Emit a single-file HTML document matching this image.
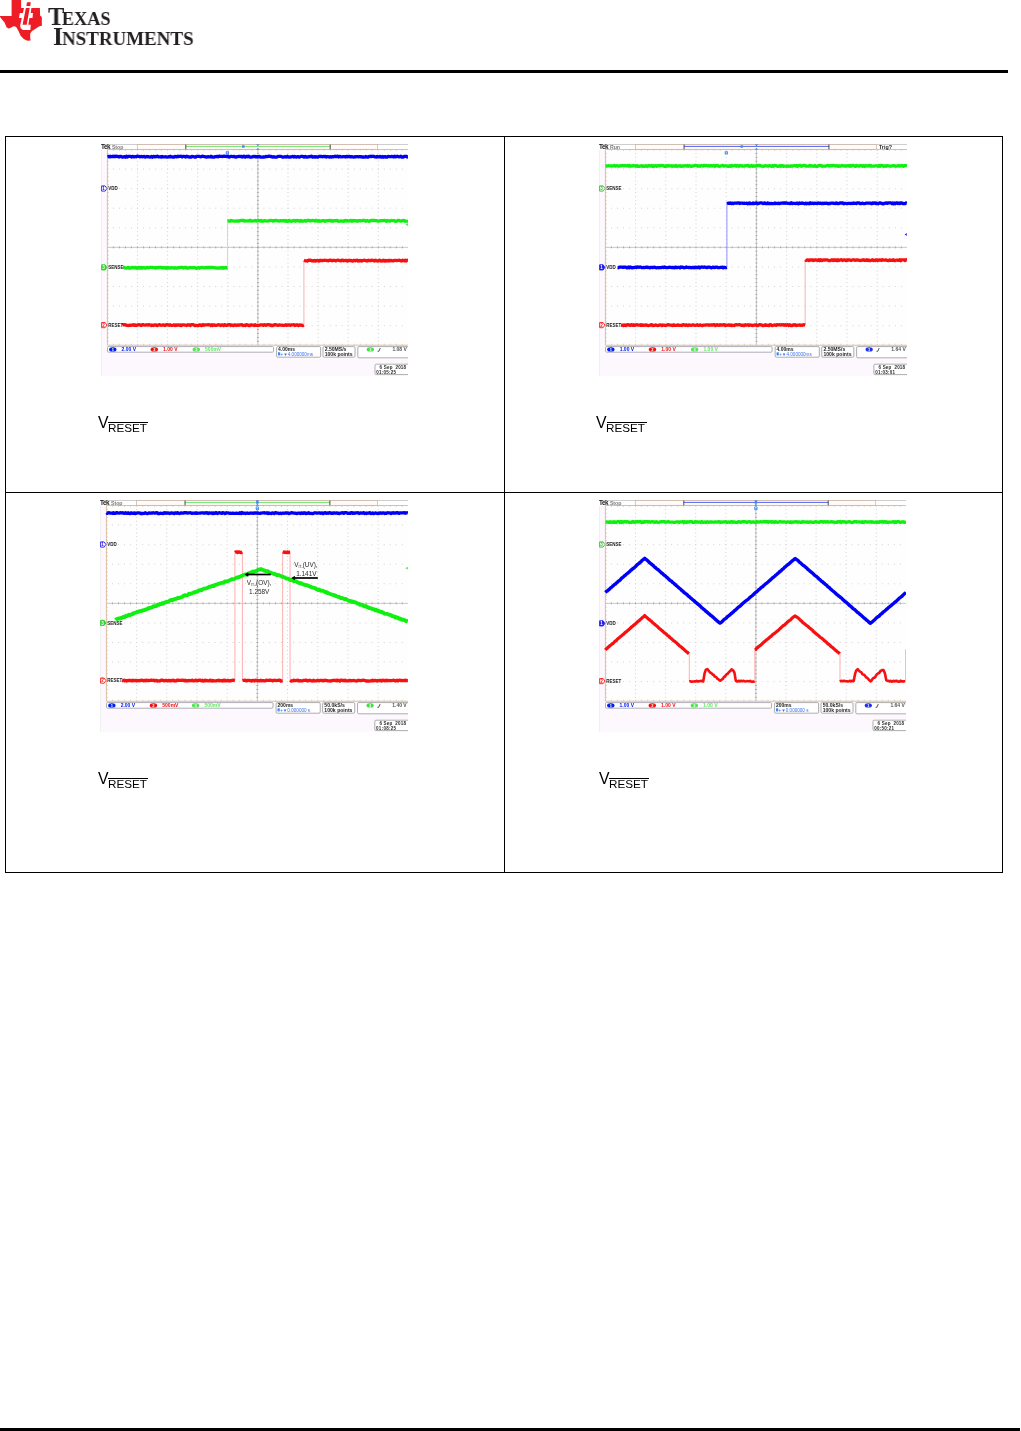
<!DOCTYPE html>
<html><head><meta charset="utf-8"><title>TI</title>
<style>
html,body{margin:0;padding:0;background:#fff;}
body{width:1021px;height:1431px;position:relative;overflow:hidden;font-family:"Liberation Sans",sans-serif;}
.abs{position:absolute;}
.scope{position:absolute;display:block;will-change:transform;}
.hl{position:absolute;background:#000;}
.ti{position:absolute;font-family:"Liberation Serif",serif;font-weight:bold;color:#231f20;white-space:nowrap;line-height:1;transform-origin:0 0;will-change:transform;}
.cap{position:absolute;line-height:1;color:#000;white-space:nowrap;will-change:transform;}
</style></head><body>
<svg class="abs" style="left:0;top:0" width="44" height="44" viewBox="0 0 44 44"><polygon points="11.6,0 21.1,0 21.1,8 39.9,8 40.1,15.4 41.8,17 41.9,25.8 39.3,26.3 35.2,29.1 32,31 30.2,33.6 30.2,37.5 30.6,40.5 27.5,40.7 23.7,39 20.7,35.8 18.5,31 16,26.7 13.4,26.3 10.8,27.8 8.6,28.5 6.5,27.2 4.7,22.8 2.2,19.8 0,16.8 0,15.9 11.6,15.9" fill="#ee1c25"/><polygon points="24,8 31.4,8 30.8,12.9 33,12.9 32.5,18.1 29.4,18.1 28.3,24.7 30.8,24.7 30.3,29.9 22.9,29.9 20.7,28.2 20.1,25.8 21.8,18.1 19,18.1 19.8,12.9 22.9,12.9" fill="#ffffff"/><polygon points="25.9,8 29.7,8 26.7,24.7 22.6,24.7" fill="#ee1c25"/><polygon points="27,2.2 30.8,2.2 30.3,6 26.4,6" fill="#ee1c25"/></svg>
<div class="ti" id="t1" style="left:47.9px;top:3.9px;transform:scaleX(0.94);"><span style="font-size:26px;margin-right:-2.6px">T</span><span style="font-size:19.4px">EXAS</span></div>
<div class="ti" id="t2" style="left:52.6px;top:24.2px;transform:scaleX(0.976);"><span style="font-size:26px;margin-right:-0.8px">I</span><span style="font-size:19.4px">NSTRUMENTS</span></div>
<div class="hl" style="left:0;top:70px;width:1008px;height:3px;"></div>
<div class="hl" style="left:5px;top:136px;width:998px;height:1px;"></div>
<div class="hl" style="left:5px;top:492px;width:998px;height:1px;"></div>
<div class="hl" style="left:5px;top:872px;width:998px;height:1px;"></div>
<div class="hl" style="left:5px;top:136px;width:1px;height:737px;"></div>
<div class="hl" style="left:504px;top:136px;width:1px;height:737px;"></div>
<div class="hl" style="left:1002px;top:136px;width:1px;height:737px;"></div>
<div class="hl" style="left:0;top:1428px;width:1020px;height:3px;"></div>
<svg class="scope" style="left:101px;top:144px" width="307" height="231.8" viewBox="0 0 307 231.8" preserveAspectRatio="none" font-family="Liberation Sans">
<rect x="0" y="6" width="307" height="225.8" fill="#fdf8fd"/><rect x="0" y="6" width="0.9" height="225.8" fill="#efeff1"/>
<rect x="6.4" y="5.5" width="300.6" height="195.7" fill="#fefefe"/>
<path d="M11.92 25.07h1 M17.94 25.07h1 M23.96 25.07h1 M29.98 25.07h1 M36 25.07h1 M42.02 25.07h1 M48.04 25.07h1 M54.06 25.07h1 M60.08 25.07h1 M66.1 25.07h1 M72.12 25.07h1 M78.14 25.07h1 M84.16 25.07h1 M90.18 25.07h1 M96.2 25.07h1 M102.22 25.07h1 M108.24 25.07h1 M114.26 25.07h1 M120.28 25.07h1 M126.3 25.07h1 M132.32 25.07h1 M138.34 25.07h1 M144.36 25.07h1 M150.38 25.07h1 M156.4 25.07h1 M162.42 25.07h1 M168.44 25.07h1 M174.46 25.07h1 M180.48 25.07h1 M186.5 25.07h1 M192.52 25.07h1 M198.54 25.07h1 M204.56 25.07h1 M210.58 25.07h1 M216.6 25.07h1 M222.62 25.07h1 M228.64 25.07h1 M234.66 25.07h1 M240.68 25.07h1 M246.7 25.07h1 M252.72 25.07h1 M258.74 25.07h1 M264.76 25.07h1 M270.78 25.07h1 M276.8 25.07h1 M282.82 25.07h1 M288.84 25.07h1 M294.86 25.07h1 M300.88 25.07h1 M11.92 44.64h1 M17.94 44.64h1 M23.96 44.64h1 M29.98 44.64h1 M36 44.64h1 M42.02 44.64h1 M48.04 44.64h1 M54.06 44.64h1 M60.08 44.64h1 M66.1 44.64h1 M72.12 44.64h1 M78.14 44.64h1 M84.16 44.64h1 M90.18 44.64h1 M96.2 44.64h1 M102.22 44.64h1 M108.24 44.64h1 M114.26 44.64h1 M120.28 44.64h1 M126.3 44.64h1 M132.32 44.64h1 M138.34 44.64h1 M144.36 44.64h1 M150.38 44.64h1 M156.4 44.64h1 M162.42 44.64h1 M168.44 44.64h1 M174.46 44.64h1 M180.48 44.64h1 M186.5 44.64h1 M192.52 44.64h1 M198.54 44.64h1 M204.56 44.64h1 M210.58 44.64h1 M216.6 44.64h1 M222.62 44.64h1 M228.64 44.64h1 M234.66 44.64h1 M240.68 44.64h1 M246.7 44.64h1 M252.72 44.64h1 M258.74 44.64h1 M264.76 44.64h1 M270.78 44.64h1 M276.8 44.64h1 M282.82 44.64h1 M288.84 44.64h1 M294.86 44.64h1 M300.88 44.64h1 M11.92 64.21h1 M17.94 64.21h1 M23.96 64.21h1 M29.98 64.21h1 M36 64.21h1 M42.02 64.21h1 M48.04 64.21h1 M54.06 64.21h1 M60.08 64.21h1 M66.1 64.21h1 M72.12 64.21h1 M78.14 64.21h1 M84.16 64.21h1 M90.18 64.21h1 M96.2 64.21h1 M102.22 64.21h1 M108.24 64.21h1 M114.26 64.21h1 M120.28 64.21h1 M126.3 64.21h1 M132.32 64.21h1 M138.34 64.21h1 M144.36 64.21h1 M150.38 64.21h1 M156.4 64.21h1 M162.42 64.21h1 M168.44 64.21h1 M174.46 64.21h1 M180.48 64.21h1 M186.5 64.21h1 M192.52 64.21h1 M198.54 64.21h1 M204.56 64.21h1 M210.58 64.21h1 M216.6 64.21h1 M222.62 64.21h1 M228.64 64.21h1 M234.66 64.21h1 M240.68 64.21h1 M246.7 64.21h1 M252.72 64.21h1 M258.74 64.21h1 M264.76 64.21h1 M270.78 64.21h1 M276.8 64.21h1 M282.82 64.21h1 M288.84 64.21h1 M294.86 64.21h1 M300.88 64.21h1 M11.92 83.78h1 M17.94 83.78h1 M23.96 83.78h1 M29.98 83.78h1 M36 83.78h1 M42.02 83.78h1 M48.04 83.78h1 M54.06 83.78h1 M60.08 83.78h1 M66.1 83.78h1 M72.12 83.78h1 M78.14 83.78h1 M84.16 83.78h1 M90.18 83.78h1 M96.2 83.78h1 M102.22 83.78h1 M108.24 83.78h1 M114.26 83.78h1 M120.28 83.78h1 M126.3 83.78h1 M132.32 83.78h1 M138.34 83.78h1 M144.36 83.78h1 M150.38 83.78h1 M156.4 83.78h1 M162.42 83.78h1 M168.44 83.78h1 M174.46 83.78h1 M180.48 83.78h1 M186.5 83.78h1 M192.52 83.78h1 M198.54 83.78h1 M204.56 83.78h1 M210.58 83.78h1 M216.6 83.78h1 M222.62 83.78h1 M228.64 83.78h1 M234.66 83.78h1 M240.68 83.78h1 M246.7 83.78h1 M252.72 83.78h1 M258.74 83.78h1 M264.76 83.78h1 M270.78 83.78h1 M276.8 83.78h1 M282.82 83.78h1 M288.84 83.78h1 M294.86 83.78h1 M300.88 83.78h1 M11.92 122.92h1 M17.94 122.92h1 M23.96 122.92h1 M29.98 122.92h1 M36 122.92h1 M42.02 122.92h1 M48.04 122.92h1 M54.06 122.92h1 M60.08 122.92h1 M66.1 122.92h1 M72.12 122.92h1 M78.14 122.92h1 M84.16 122.92h1 M90.18 122.92h1 M96.2 122.92h1 M102.22 122.92h1 M108.24 122.92h1 M114.26 122.92h1 M120.28 122.92h1 M126.3 122.92h1 M132.32 122.92h1 M138.34 122.92h1 M144.36 122.92h1 M150.38 122.92h1 M156.4 122.92h1 M162.42 122.92h1 M168.44 122.92h1 M174.46 122.92h1 M180.48 122.92h1 M186.5 122.92h1 M192.52 122.92h1 M198.54 122.92h1 M204.56 122.92h1 M210.58 122.92h1 M216.6 122.92h1 M222.62 122.92h1 M228.64 122.92h1 M234.66 122.92h1 M240.68 122.92h1 M246.7 122.92h1 M252.72 122.92h1 M258.74 122.92h1 M264.76 122.92h1 M270.78 122.92h1 M276.8 122.92h1 M282.82 122.92h1 M288.84 122.92h1 M294.86 122.92h1 M300.88 122.92h1 M11.92 142.49h1 M17.94 142.49h1 M23.96 142.49h1 M29.98 142.49h1 M36 142.49h1 M42.02 142.49h1 M48.04 142.49h1 M54.06 142.49h1 M60.08 142.49h1 M66.1 142.49h1 M72.12 142.49h1 M78.14 142.49h1 M84.16 142.49h1 M90.18 142.49h1 M96.2 142.49h1 M102.22 142.49h1 M108.24 142.49h1 M114.26 142.49h1 M120.28 142.49h1 M126.3 142.49h1 M132.32 142.49h1 M138.34 142.49h1 M144.36 142.49h1 M150.38 142.49h1 M156.4 142.49h1 M162.42 142.49h1 M168.44 142.49h1 M174.46 142.49h1 M180.48 142.49h1 M186.5 142.49h1 M192.52 142.49h1 M198.54 142.49h1 M204.56 142.49h1 M210.58 142.49h1 M216.6 142.49h1 M222.62 142.49h1 M228.64 142.49h1 M234.66 142.49h1 M240.68 142.49h1 M246.7 142.49h1 M252.72 142.49h1 M258.74 142.49h1 M264.76 142.49h1 M270.78 142.49h1 M276.8 142.49h1 M282.82 142.49h1 M288.84 142.49h1 M294.86 142.49h1 M300.88 142.49h1 M11.92 162.06h1 M17.94 162.06h1 M23.96 162.06h1 M29.98 162.06h1 M36 162.06h1 M42.02 162.06h1 M48.04 162.06h1 M54.06 162.06h1 M60.08 162.06h1 M66.1 162.06h1 M72.12 162.06h1 M78.14 162.06h1 M84.16 162.06h1 M90.18 162.06h1 M96.2 162.06h1 M102.22 162.06h1 M108.24 162.06h1 M114.26 162.06h1 M120.28 162.06h1 M126.3 162.06h1 M132.32 162.06h1 M138.34 162.06h1 M144.36 162.06h1 M150.38 162.06h1 M156.4 162.06h1 M162.42 162.06h1 M168.44 162.06h1 M174.46 162.06h1 M180.48 162.06h1 M186.5 162.06h1 M192.52 162.06h1 M198.54 162.06h1 M204.56 162.06h1 M210.58 162.06h1 M216.6 162.06h1 M222.62 162.06h1 M228.64 162.06h1 M234.66 162.06h1 M240.68 162.06h1 M246.7 162.06h1 M252.72 162.06h1 M258.74 162.06h1 M264.76 162.06h1 M270.78 162.06h1 M276.8 162.06h1 M282.82 162.06h1 M288.84 162.06h1 M294.86 162.06h1 M300.88 162.06h1 M11.92 181.63h1 M17.94 181.63h1 M23.96 181.63h1 M29.98 181.63h1 M36 181.63h1 M42.02 181.63h1 M48.04 181.63h1 M54.06 181.63h1 M60.08 181.63h1 M66.1 181.63h1 M72.12 181.63h1 M78.14 181.63h1 M84.16 181.63h1 M90.18 181.63h1 M96.2 181.63h1 M102.22 181.63h1 M108.24 181.63h1 M114.26 181.63h1 M120.28 181.63h1 M126.3 181.63h1 M132.32 181.63h1 M138.34 181.63h1 M144.36 181.63h1 M150.38 181.63h1 M156.4 181.63h1 M162.42 181.63h1 M168.44 181.63h1 M174.46 181.63h1 M180.48 181.63h1 M186.5 181.63h1 M192.52 181.63h1 M198.54 181.63h1 M204.56 181.63h1 M210.58 181.63h1 M216.6 181.63h1 M222.62 181.63h1 M228.64 181.63h1 M234.66 181.63h1 M240.68 181.63h1 M246.7 181.63h1 M252.72 181.63h1 M258.74 181.63h1 M264.76 181.63h1 M270.78 181.63h1 M276.8 181.63h1 M282.82 181.63h1 M288.84 181.63h1 M294.86 181.63h1 M300.88 181.63h1 M36.5 8.91v1 M36.5 12.83v1 M36.5 16.74v1 M36.5 20.66v1 M36.5 24.57v1 M36.5 28.48v1 M36.5 32.4v1 M36.5 36.31v1 M36.5 40.23v1 M36.5 44.14v1 M36.5 48.05v1 M36.5 51.97v1 M36.5 55.88v1 M36.5 59.8v1 M36.5 63.71v1 M36.5 67.62v1 M36.5 71.54v1 M36.5 75.45v1 M36.5 79.37v1 M36.5 83.28v1 M36.5 87.19v1 M36.5 91.11v1 M36.5 95.02v1 M36.5 98.94v1 M36.5 102.85v1 M36.5 106.76v1 M36.5 110.68v1 M36.5 114.59v1 M36.5 118.51v1 M36.5 122.42v1 M36.5 126.33v1 M36.5 130.25v1 M36.5 134.16v1 M36.5 138.08v1 M36.5 141.99v1 M36.5 145.9v1 M36.5 149.82v1 M36.5 153.73v1 M36.5 157.65v1 M36.5 161.56v1 M36.5 165.47v1 M36.5 169.39v1 M36.5 173.3v1 M36.5 177.22v1 M36.5 181.13v1 M36.5 185.04v1 M36.5 188.96v1 M36.5 192.87v1 M36.5 196.79v1 M66.6 8.91v1 M66.6 12.83v1 M66.6 16.74v1 M66.6 20.66v1 M66.6 24.57v1 M66.6 28.48v1 M66.6 32.4v1 M66.6 36.31v1 M66.6 40.23v1 M66.6 44.14v1 M66.6 48.05v1 M66.6 51.97v1 M66.6 55.88v1 M66.6 59.8v1 M66.6 63.71v1 M66.6 67.62v1 M66.6 71.54v1 M66.6 75.45v1 M66.6 79.37v1 M66.6 83.28v1 M66.6 87.19v1 M66.6 91.11v1 M66.6 95.02v1 M66.6 98.94v1 M66.6 102.85v1 M66.6 106.76v1 M66.6 110.68v1 M66.6 114.59v1 M66.6 118.51v1 M66.6 122.42v1 M66.6 126.33v1 M66.6 130.25v1 M66.6 134.16v1 M66.6 138.08v1 M66.6 141.99v1 M66.6 145.9v1 M66.6 149.82v1 M66.6 153.73v1 M66.6 157.65v1 M66.6 161.56v1 M66.6 165.47v1 M66.6 169.39v1 M66.6 173.3v1 M66.6 177.22v1 M66.6 181.13v1 M66.6 185.04v1 M66.6 188.96v1 M66.6 192.87v1 M66.6 196.79v1 M96.7 8.91v1 M96.7 12.83v1 M96.7 16.74v1 M96.7 20.66v1 M96.7 24.57v1 M96.7 28.48v1 M96.7 32.4v1 M96.7 36.31v1 M96.7 40.23v1 M96.7 44.14v1 M96.7 48.05v1 M96.7 51.97v1 M96.7 55.88v1 M96.7 59.8v1 M96.7 63.71v1 M96.7 67.62v1 M96.7 71.54v1 M96.7 75.45v1 M96.7 79.37v1 M96.7 83.28v1 M96.7 87.19v1 M96.7 91.11v1 M96.7 95.02v1 M96.7 98.94v1 M96.7 102.85v1 M96.7 106.76v1 M96.7 110.68v1 M96.7 114.59v1 M96.7 118.51v1 M96.7 122.42v1 M96.7 126.33v1 M96.7 130.25v1 M96.7 134.16v1 M96.7 138.08v1 M96.7 141.99v1 M96.7 145.9v1 M96.7 149.82v1 M96.7 153.73v1 M96.7 157.65v1 M96.7 161.56v1 M96.7 165.47v1 M96.7 169.39v1 M96.7 173.3v1 M96.7 177.22v1 M96.7 181.13v1 M96.7 185.04v1 M96.7 188.96v1 M96.7 192.87v1 M96.7 196.79v1 M126.8 8.91v1 M126.8 12.83v1 M126.8 16.74v1 M126.8 20.66v1 M126.8 24.57v1 M126.8 28.48v1 M126.8 32.4v1 M126.8 36.31v1 M126.8 40.23v1 M126.8 44.14v1 M126.8 48.05v1 M126.8 51.97v1 M126.8 55.88v1 M126.8 59.8v1 M126.8 63.71v1 M126.8 67.62v1 M126.8 71.54v1 M126.8 75.45v1 M126.8 79.37v1 M126.8 83.28v1 M126.8 87.19v1 M126.8 91.11v1 M126.8 95.02v1 M126.8 98.94v1 M126.8 102.85v1 M126.8 106.76v1 M126.8 110.68v1 M126.8 114.59v1 M126.8 118.51v1 M126.8 122.42v1 M126.8 126.33v1 M126.8 130.25v1 M126.8 134.16v1 M126.8 138.08v1 M126.8 141.99v1 M126.8 145.9v1 M126.8 149.82v1 M126.8 153.73v1 M126.8 157.65v1 M126.8 161.56v1 M126.8 165.47v1 M126.8 169.39v1 M126.8 173.3v1 M126.8 177.22v1 M126.8 181.13v1 M126.8 185.04v1 M126.8 188.96v1 M126.8 192.87v1 M126.8 196.79v1 M187 8.91v1 M187 12.83v1 M187 16.74v1 M187 20.66v1 M187 24.57v1 M187 28.48v1 M187 32.4v1 M187 36.31v1 M187 40.23v1 M187 44.14v1 M187 48.05v1 M187 51.97v1 M187 55.88v1 M187 59.8v1 M187 63.71v1 M187 67.62v1 M187 71.54v1 M187 75.45v1 M187 79.37v1 M187 83.28v1 M187 87.19v1 M187 91.11v1 M187 95.02v1 M187 98.94v1 M187 102.85v1 M187 106.76v1 M187 110.68v1 M187 114.59v1 M187 118.51v1 M187 122.42v1 M187 126.33v1 M187 130.25v1 M187 134.16v1 M187 138.08v1 M187 141.99v1 M187 145.9v1 M187 149.82v1 M187 153.73v1 M187 157.65v1 M187 161.56v1 M187 165.47v1 M187 169.39v1 M187 173.3v1 M187 177.22v1 M187 181.13v1 M187 185.04v1 M187 188.96v1 M187 192.87v1 M187 196.79v1 M217.1 8.91v1 M217.1 12.83v1 M217.1 16.74v1 M217.1 20.66v1 M217.1 24.57v1 M217.1 28.48v1 M217.1 32.4v1 M217.1 36.31v1 M217.1 40.23v1 M217.1 44.14v1 M217.1 48.05v1 M217.1 51.97v1 M217.1 55.88v1 M217.1 59.8v1 M217.1 63.71v1 M217.1 67.62v1 M217.1 71.54v1 M217.1 75.45v1 M217.1 79.37v1 M217.1 83.28v1 M217.1 87.19v1 M217.1 91.11v1 M217.1 95.02v1 M217.1 98.94v1 M217.1 102.85v1 M217.1 106.76v1 M217.1 110.68v1 M217.1 114.59v1 M217.1 118.51v1 M217.1 122.42v1 M217.1 126.33v1 M217.1 130.25v1 M217.1 134.16v1 M217.1 138.08v1 M217.1 141.99v1 M217.1 145.9v1 M217.1 149.82v1 M217.1 153.73v1 M217.1 157.65v1 M217.1 161.56v1 M217.1 165.47v1 M217.1 169.39v1 M217.1 173.3v1 M217.1 177.22v1 M217.1 181.13v1 M217.1 185.04v1 M217.1 188.96v1 M217.1 192.87v1 M217.1 196.79v1 M247.2 8.91v1 M247.2 12.83v1 M247.2 16.74v1 M247.2 20.66v1 M247.2 24.57v1 M247.2 28.48v1 M247.2 32.4v1 M247.2 36.31v1 M247.2 40.23v1 M247.2 44.14v1 M247.2 48.05v1 M247.2 51.97v1 M247.2 55.88v1 M247.2 59.8v1 M247.2 63.71v1 M247.2 67.62v1 M247.2 71.54v1 M247.2 75.45v1 M247.2 79.37v1 M247.2 83.28v1 M247.2 87.19v1 M247.2 91.11v1 M247.2 95.02v1 M247.2 98.94v1 M247.2 102.85v1 M247.2 106.76v1 M247.2 110.68v1 M247.2 114.59v1 M247.2 118.51v1 M247.2 122.42v1 M247.2 126.33v1 M247.2 130.25v1 M247.2 134.16v1 M247.2 138.08v1 M247.2 141.99v1 M247.2 145.9v1 M247.2 149.82v1 M247.2 153.73v1 M247.2 157.65v1 M247.2 161.56v1 M247.2 165.47v1 M247.2 169.39v1 M247.2 173.3v1 M247.2 177.22v1 M247.2 181.13v1 M247.2 185.04v1 M247.2 188.96v1 M247.2 192.87v1 M247.2 196.79v1 M277.3 8.91v1 M277.3 12.83v1 M277.3 16.74v1 M277.3 20.66v1 M277.3 24.57v1 M277.3 28.48v1 M277.3 32.4v1 M277.3 36.31v1 M277.3 40.23v1 M277.3 44.14v1 M277.3 48.05v1 M277.3 51.97v1 M277.3 55.88v1 M277.3 59.8v1 M277.3 63.71v1 M277.3 67.62v1 M277.3 71.54v1 M277.3 75.45v1 M277.3 79.37v1 M277.3 83.28v1 M277.3 87.19v1 M277.3 91.11v1 M277.3 95.02v1 M277.3 98.94v1 M277.3 102.85v1 M277.3 106.76v1 M277.3 110.68v1 M277.3 114.59v1 M277.3 118.51v1 M277.3 122.42v1 M277.3 126.33v1 M277.3 130.25v1 M277.3 134.16v1 M277.3 138.08v1 M277.3 141.99v1 M277.3 145.9v1 M277.3 149.82v1 M277.3 153.73v1 M277.3 157.65v1 M277.3 161.56v1 M277.3 165.47v1 M277.3 169.39v1 M277.3 173.3v1 M277.3 177.22v1 M277.3 181.13v1 M277.3 185.04v1 M277.3 188.96v1 M277.3 192.87v1 M277.3 196.79v1" stroke="#d2d2d2" stroke-width="1" fill="none"/>
<line x1="6.4" y1="103.35" x2="307.4" y2="103.35" stroke="#b0b0b0" stroke-width="0.7"/>
<line x1="156.9" y1="5.5" x2="156.9" y2="201.2" stroke="#b0b0b0" stroke-width="0.7"/>
<path d="M12.42 102.35v2 M18.44 102.35v2 M24.46 102.35v2 M30.48 102.35v2 M36.5 102.35v2 M42.52 102.35v2 M48.54 102.35v2 M54.56 102.35v2 M60.58 102.35v2 M66.6 102.35v2 M72.62 102.35v2 M78.64 102.35v2 M84.66 102.35v2 M90.68 102.35v2 M96.7 102.35v2 M102.72 102.35v2 M108.74 102.35v2 M114.76 102.35v2 M120.78 102.35v2 M126.8 102.35v2 M132.82 102.35v2 M138.84 102.35v2 M144.86 102.35v2 M150.88 102.35v2 M156.9 102.35v2 M162.92 102.35v2 M168.94 102.35v2 M174.96 102.35v2 M180.98 102.35v2 M187 102.35v2 M193.02 102.35v2 M199.04 102.35v2 M205.06 102.35v2 M211.08 102.35v2 M217.1 102.35v2 M223.12 102.35v2 M229.14 102.35v2 M235.16 102.35v2 M241.18 102.35v2 M247.2 102.35v2 M253.22 102.35v2 M259.24 102.35v2 M265.26 102.35v2 M271.28 102.35v2 M277.3 102.35v2 M283.32 102.35v2 M289.34 102.35v2 M295.36 102.35v2 M301.38 102.35v2 M155.9 9.41h2 M155.9 13.33h2 M155.9 17.24h2 M155.9 21.16h2 M155.9 25.07h2 M155.9 28.98h2 M155.9 32.9h2 M155.9 36.81h2 M155.9 40.73h2 M155.9 44.64h2 M155.9 48.55h2 M155.9 52.47h2 M155.9 56.38h2 M155.9 60.3h2 M155.9 64.21h2 M155.9 68.12h2 M155.9 72.04h2 M155.9 75.95h2 M155.9 79.87h2 M155.9 83.78h2 M155.9 87.69h2 M155.9 91.61h2 M155.9 95.52h2 M155.9 99.44h2 M155.9 103.35h2 M155.9 107.26h2 M155.9 111.18h2 M155.9 115.09h2 M155.9 119.01h2 M155.9 122.92h2 M155.9 126.83h2 M155.9 130.75h2 M155.9 134.66h2 M155.9 138.58h2 M155.9 142.49h2 M155.9 146.4h2 M155.9 150.32h2 M155.9 154.23h2 M155.9 158.15h2 M155.9 162.06h2 M155.9 165.97h2 M155.9 169.89h2 M155.9 173.8h2 M155.9 177.72h2 M155.9 181.63h2 M155.9 185.54h2 M155.9 189.46h2 M155.9 193.37h2 M155.9 197.29h2" stroke="#a0a0a0" stroke-width="0.8" fill="none"/>
<path d="M6.4 5.5 V201.2 M6.4 5.5 H307 M6.4 201.2 H307" stroke="#dcc0a4" stroke-width="1" fill="none"/>
<path d="M6.4 9.41h1.6 M6.4 13.33h1.6 M6.4 17.24h1.6 M6.4 21.16h1.6 M6.4 25.07h1.6 M6.4 28.98h1.6 M6.4 32.9h1.6 M6.4 36.81h1.6 M6.4 40.73h1.6 M6.4 44.64h1.6 M6.4 48.55h1.6 M6.4 52.47h1.6 M6.4 56.38h1.6 M6.4 60.3h1.6 M6.4 64.21h1.6 M6.4 68.12h1.6 M6.4 72.04h1.6 M6.4 75.95h1.6 M6.4 79.87h1.6 M6.4 83.78h1.6 M6.4 87.69h1.6 M6.4 91.61h1.6 M6.4 95.52h1.6 M6.4 99.44h1.6 M6.4 103.35h1.6 M6.4 107.26h1.6 M6.4 111.18h1.6 M6.4 115.09h1.6 M6.4 119.01h1.6 M6.4 122.92h1.6 M6.4 126.83h1.6 M6.4 130.75h1.6 M6.4 134.66h1.6 M6.4 138.58h1.6 M6.4 142.49h1.6 M6.4 146.4h1.6 M6.4 150.32h1.6 M6.4 154.23h1.6 M6.4 158.15h1.6 M6.4 162.06h1.6 M6.4 165.97h1.6 M6.4 169.89h1.6 M6.4 173.8h1.6 M6.4 177.72h1.6 M6.4 181.63h1.6 M6.4 185.54h1.6 M6.4 189.46h1.6 M6.4 193.37h1.6 M6.4 197.29h1.6 M12.42 5.5v1.5 M12.42 201.2v-1.5 M18.44 5.5v1.5 M18.44 201.2v-1.5 M24.46 5.5v1.5 M24.46 201.2v-1.5 M30.48 5.5v1.5 M30.48 201.2v-1.5 M36.5 5.5v1.5 M36.5 201.2v-1.5 M42.52 5.5v1.5 M42.52 201.2v-1.5 M48.54 5.5v1.5 M48.54 201.2v-1.5 M54.56 5.5v1.5 M54.56 201.2v-1.5 M60.58 5.5v1.5 M60.58 201.2v-1.5 M66.6 5.5v1.5 M66.6 201.2v-1.5 M72.62 5.5v1.5 M72.62 201.2v-1.5 M78.64 5.5v1.5 M78.64 201.2v-1.5 M84.66 5.5v1.5 M84.66 201.2v-1.5 M90.68 5.5v1.5 M90.68 201.2v-1.5 M96.7 5.5v1.5 M96.7 201.2v-1.5 M102.72 5.5v1.5 M102.72 201.2v-1.5 M108.74 5.5v1.5 M108.74 201.2v-1.5 M114.76 5.5v1.5 M114.76 201.2v-1.5 M120.78 5.5v1.5 M120.78 201.2v-1.5 M126.8 5.5v1.5 M126.8 201.2v-1.5 M132.82 5.5v1.5 M132.82 201.2v-1.5 M138.84 5.5v1.5 M138.84 201.2v-1.5 M144.86 5.5v1.5 M144.86 201.2v-1.5 M150.88 5.5v1.5 M150.88 201.2v-1.5 M156.9 5.5v1.5 M156.9 201.2v-1.5 M162.92 5.5v1.5 M162.92 201.2v-1.5 M168.94 5.5v1.5 M168.94 201.2v-1.5 M174.96 5.5v1.5 M174.96 201.2v-1.5 M180.98 5.5v1.5 M180.98 201.2v-1.5 M187 5.5v1.5 M187 201.2v-1.5 M193.02 5.5v1.5 M193.02 201.2v-1.5 M199.04 5.5v1.5 M199.04 201.2v-1.5 M205.06 5.5v1.5 M205.06 201.2v-1.5 M211.08 5.5v1.5 M211.08 201.2v-1.5 M217.1 5.5v1.5 M217.1 201.2v-1.5 M223.12 5.5v1.5 M223.12 201.2v-1.5 M229.14 5.5v1.5 M229.14 201.2v-1.5 M235.16 5.5v1.5 M235.16 201.2v-1.5 M241.18 5.5v1.5 M241.18 201.2v-1.5 M247.2 5.5v1.5 M247.2 201.2v-1.5 M253.22 5.5v1.5 M253.22 201.2v-1.5 M259.24 5.5v1.5 M259.24 201.2v-1.5 M265.26 5.5v1.5 M265.26 201.2v-1.5 M271.28 5.5v1.5 M271.28 201.2v-1.5 M277.3 5.5v1.5 M277.3 201.2v-1.5 M283.32 5.5v1.5 M283.32 201.2v-1.5 M289.34 5.5v1.5 M289.34 201.2v-1.5 M295.36 5.5v1.5 M295.36 201.2v-1.5 M301.38 5.5v1.5 M301.38 201.2v-1.5" stroke="#d8c0a8" stroke-width="0.7" fill="none"/>
<line x1="0" y1="0.3" x2="307" y2="0.3" stroke="#a8a8a8" stroke-width="0.7"/>
<text transform="translate(0 4.7) scale(0.25)" font-size="25.6" fill="#1a1a1a" font-weight="bold" letter-spacing="-2">Tek</text>
<text transform="translate(10.9 4.8) scale(0.25)" font-size="20.8" fill="#7a7a7a" font-weight="bold">Stop</text>
<rect x="36.3" y="0.5" width="240.4" height="4.8" fill="#fffcfa" stroke="#c8b0a0" stroke-width="0.7"/>
<line x1="84.8" y1="2.4" x2="229.2" y2="2.4" stroke="#60e060" stroke-width="0.9"/>
<path d="M84.8 0.6v4.6 M229.2 0.6v4.6" stroke="#333" stroke-width="0.9"/>
<rect x="141" y="1.2" width="2.6" height="2.6" fill="#3a8cf0" rx="0.4"/>
<path d="M155.3 0.4 h3.2 l-1.6 1.6 z M155.3 5.6 h3.2 l-1.6 -1.6 z" fill="#2a6ae0"/>
<rect x="124.8" y="7" width="3.2" height="3.6" rx="0.9" fill="#3a8cf0"/><path d="M125.5 7.9 h1.8 M126.4 7.9 v2.2" stroke="#fff" stroke-width="0.5"/>
<path d="M306.8 79.1 l-2.2 1.4 l2.2 1.4 z" fill="#40e040"/>
<path d="M6.4 12.52 L7.3 12.35 L8.2 12.85 L9.1 12.27 L10 12.74 L10.9 12.57 L11.8 12.26 L12.7 12.71 L13.6 12.24 L14.5 12.63 L15.4 12.27 L16.3 12.29 L17.2 12.62 L18.1 13.03 L19 12.32 L19.9 12.42 L20.8 12.83 L21.7 13.15 L22.6 12.78 L23.5 12.6 L24.4 13.18 L25.3 12.25 L26.2 13.06 L27.1 12.49 L28 12.34 L28.9 12.32 L29.8 12.51 L30.7 13.02 L31.6 12.38 L32.5 12.78 L33.4 12.84 L34.3 12.57 L35.2 12.75 L36.1 12.26 L37 12.26 L37.9 12.41 L38.8 12.88 L39.7 12.63 L40.6 12.51 L41.5 12.79 L42.4 12.65 L43.3 12.5 L44.2 12.99 L45.1 12.9 L46 12.44 L46.9 12.77 L47.8 12.73 L48.7 13.08 L49.6 12.93 L50.5 12.49 L51.4 13.18 L52.3 12.32 L53.2 12.62 L54.1 12.96 L55 12.35 L55.9 12.69 L56.8 12.24 L57.7 12.87 L58.6 12.96 L59.5 12.77 L60.4 13.08 L61.3 12.51 L62.2 12.9 L63.1 12.79 L64 12.78 L64.9 12.66 L65.8 13.04 L66.7 13.14 L67.6 12.67 L68.5 12.86 L69.4 12.26 L70.3 12.9 L71.2 12.85 L72.1 13.19 L73 13.02 L73.9 12.48 L74.8 12.59 L75.7 12.87 L76.6 12.22 L77.5 12.66 L78.4 12.37 L79.3 12.32 L80.2 12.26 L81.1 12.97 L82 12.33 L82.9 12.45 L83.8 12.59 L84.7 13.07 L85.6 12.28 L86.5 12.65 L87.4 12.75 L88.3 13.08 L89.2 13.02 L90.1 13.06 L91 12.48 L91.9 12.62 L92.8 12.56 L93.7 13.08 L94.6 13.16 L95.5 12.35 L96.4 12.38 L97.3 12.43 L98.2 12.43 L99.1 12.68 L100 12.79 L100.9 12.46 L101.8 12.2 L102.7 12.62 L103.6 12.57 L104.5 12.77 L105.4 13.15 L106.3 12.89 L107.2 12.72 L108.1 12.82 L109 12.88 L109.9 12.25 L110.8 13.1 L111.7 12.98 L112.6 13.07 L113.5 13 L114.4 12.59 L115.3 12.6 L116.2 12.3 L117.1 12.83 L118 12.26 L118.9 12.27 L119.8 12.41 L120.7 12.36 L121.6 12.54 L122.5 12.25 L123.4 12.2 L124.3 12.35 L125.2 12.3 L126.1 12.56 L127 12.23 L127.9 13.07 L128.8 12.81 L129.7 12.35 L130.6 12.45 L131.5 12.55 L132.4 12.56 L133.3 12.32 L134.2 13.05 L135.1 13.19 L136 12.67 L136.9 12.68 L137.8 12.29 L138.7 12.3 L139.6 12.54 L140.5 12.46 L141.4 13.03 L142.3 12.36 L143.2 12.22 L144.1 13.15 L145 12.73 L145.9 12.35 L146.8 12.74 L147.7 12.23 L148.6 12.73 L149.5 13.18 L150.4 13.06 L151.3 12.9 L152.2 12.46 L153.1 12.57 L154 12.37 L154.9 12.97 L155.8 12.73 L156.7 12.98 L157.6 12.53 L158.5 12.42 L159.4 13.01 L160.3 13.18 L161.2 13.05 L162.1 13.01 L163 13.02 L163.9 12.94 L164.8 12.43 L165.7 12.72 L166.6 12.56 L167.5 12.23 L168.4 12.23 L169.3 12.48 L170.2 12.46 L171.1 12.89 L172 13.16 L172.9 12.65 L173.8 13.14 L174.7 13.19 L175.6 13.16 L176.5 12.56 L177.4 12.42 L178.3 12.43 L179.2 12.4 L180.1 12.4 L181 12.82 L181.9 13.1 L182.8 13.04 L183.7 12.68 L184.6 12.85 L185.5 13 L186.4 12.28 L187.3 12.86 L188.2 13.11 L189.1 12.98 L190 12.95 L190.9 12.68 L191.8 12.38 L192.7 12.99 L193.6 12.53 L194.5 13 L195.4 13.17 L196.3 12.6 L197.2 12.6 L198.1 13.15 L199 12.92 L199.9 12.37 L200.8 12.33 L201.7 12.35 L202.6 13.1 L203.5 13.01 L204.4 12.35 L205.3 13.03 L206.2 13.18 L207.1 12.86 L208 12.55 L208.9 12.75 L209.8 12.33 L210.7 12.21 L211.6 13.17 L212.5 12.85 L213.4 12.73 L214.3 13.13 L215.2 12.63 L216.1 13.07 L217 13.03 L217.9 12.41 L218.8 12.45 L219.7 12.49 L220.6 12.44 L221.5 12.79 L222.4 12.46 L223.3 12.62 L224.2 12.33 L225.1 13.11 L226 12.55 L226.9 12.66 L227.8 12.78 L228.7 13.1 L229.6 12.62 L230.5 13.12 L231.4 12.7 L232.3 12.73 L233.2 12.72 L234.1 12.22 L235 12.64 L235.9 12.38 L236.8 12.2 L237.7 13 L238.6 12.37 L239.5 12.67 L240.4 12.93 L241.3 12.76 L242.2 12.53 L243.1 12.72 L244 12.76 L244.9 12.98 L245.8 12.31 L246.7 12.76 L247.6 12.45 L248.5 12.48 L249.4 12.97 L250.3 12.71 L251.2 12.76 L252.1 12.96 L253 13.11 L253.9 12.64 L254.8 12.81 L255.7 12.71 L256.6 12.71 L257.5 12.89 L258.4 12.65 L259.3 12.73 L260.2 12.68 L261.1 13.14 L262 12.9 L262.9 13.08 L263.8 13.14 L264.7 12.46 L265.6 12.76 L266.5 13.14 L267.4 13.04 L268.3 12.34 L269.2 12.32 L270.1 12.64 L271 12.27 L271.9 12.44 L272.8 12.27 L273.7 12.87 L274.6 12.98 L275.5 13.1 L276.4 12.35 L277.3 12.92 L278.2 12.86 L279.1 12.34 L280 13.08 L280.9 13.17 L281.8 12.42 L282.7 13.15 L283.6 12.6 L284.5 12.69 L285.4 13.19 L286.3 13.03 L287.2 12.36 L288.1 12.63 L289 12.72 L289.9 12.54 L290.8 12.4 L291.7 12.52 L292.6 12.92 L293.5 12.22 L294.4 12.75 L295.3 12.64 L296.2 12.22 L297.1 12.53 L298 12.82 L298.9 12.71 L299.8 12.26 L300.7 13.19 L301.6 12.99 L302.5 13.17 L303.4 12.3 L304.3 12.47 L305.2 12.24 L306.1 12.98 L307 12.7" fill="none" stroke="#0000f8" stroke-width="3.3" stroke-linejoin="round"/>
<line x1="126.5" y1="76.8" x2="126.5" y2="123.8" stroke="#a8f4a8" stroke-width="1"/>
<path d="M22 123.57 L22.9 123.43 L23.8 123.72 L24.7 124.21 L25.6 124.12 L26.5 123.56 L27.41 123.45 L28.31 124.22 L29.21 123.87 L30.11 124 L31.01 123.39 L31.91 123.36 L32.81 123.99 L33.71 123.73 L34.61 123.37 L35.51 124.24 L36.41 123.93 L37.31 124.1 L38.22 123.38 L39.12 124.16 L40.02 123.37 L40.92 124.16 L41.82 123.75 L42.72 123.64 L43.62 123.85 L44.52 124.23 L45.42 123.57 L46.32 123.43 L47.22 123.83 L48.12 123.54 L49.03 123.41 L49.93 123.46 L50.83 123.35 L51.73 123.5 L52.63 123.61 L53.53 123.61 L54.43 124.06 L55.33 123.59 L56.23 123.8 L57.13 123.48 L58.03 123.65 L58.94 123.32 L59.84 123.55 L60.74 123.32 L61.64 124.03 L62.54 123.85 L63.44 123.49 L64.34 123.77 L65.24 124.23 L66.14 123.41 L67.04 124.12 L67.94 123.73 L68.84 123.8 L69.75 124.13 L70.65 123.69 L71.55 123.81 L72.45 123.99 L73.35 124.28 L74.25 123.64 L75.15 124.13 L76.05 124.01 L76.95 123.94 L77.85 123.7 L78.75 123.65 L79.66 123.35 L80.56 123.43 L81.46 123.37 L82.36 124.04 L83.26 123.56 L84.16 123.46 L85.06 123.38 L85.96 124.14 L86.86 124.17 L87.76 123.97 L88.66 123.58 L89.56 123.54 L90.47 123.59 L91.37 123.76 L92.27 123.46 L93.17 123.75 L94.07 123.56 L94.97 124.26 L95.87 124.27 L96.77 123.85 L97.67 123.54 L98.57 124.27 L99.47 123.61 L100.38 123.66 L101.28 123.3 L102.18 123.68 L103.08 123.77 L103.98 123.8 L104.88 123.5 L105.78 123.8 L106.68 123.3 L107.58 123.56 L108.48 123.39 L109.38 123.7 L110.28 123.34 L111.19 123.32 L112.09 123.6 L112.99 123.53 L113.89 123.89 L114.79 123.83 L115.69 124.05 L116.59 123.96 L117.49 124.02 L118.39 124.18 L119.29 123.69 L120.19 123.63 L121.09 124.28 L122 123.45 L122.9 124.02 L123.8 123.94 L124.7 123.34 L125.6 124.14 L126.5 123.8" fill="none" stroke="#10f010" stroke-width="3.3" stroke-linejoin="round"/>
<path d="M126.5 77.19 L127.4 76.93 L128.31 77.03 L129.21 77.11 L130.11 76.44 L131.01 76.82 L131.91 76.8 L132.82 77.13 L133.72 77.1 L134.62 77.13 L135.53 76.88 L136.43 77.19 L137.33 76.98 L138.23 76.99 L139.13 76.53 L140.04 76.33 L140.94 76.43 L141.84 76.66 L142.75 76.4 L143.65 77.14 L144.55 76.86 L145.45 76.93 L146.35 76.93 L147.26 76.98 L148.16 76.79 L149.06 76.3 L149.97 77.1 L150.87 77.05 L151.77 76.8 L152.67 76.84 L153.57 76.96 L154.48 76.37 L155.38 77.04 L156.28 76.55 L157.19 76.37 L158.09 76.57 L158.99 77.03 L159.89 76.51 L160.8 77.04 L161.7 77.28 L162.6 76.79 L163.5 76.68 L164.41 76.78 L165.31 76.98 L166.21 77.07 L167.11 76.92 L168.01 76.94 L168.92 76.38 L169.82 76.45 L170.72 76.55 L171.62 77.04 L172.53 76.6 L173.43 76.87 L174.33 76.31 L175.24 76.36 L176.14 76.57 L177.04 76.97 L177.94 76.99 L178.84 76.98 L179.75 76.59 L180.65 76.82 L181.55 76.76 L182.45 76.77 L183.36 76.42 L184.26 77.19 L185.16 76.5 L186.06 77.28 L186.97 77.24 L187.87 76.32 L188.77 76.76 L189.68 77.12 L190.58 77.27 L191.48 76.75 L192.38 76.57 L193.28 76.51 L194.19 77.25 L195.09 76.51 L195.99 76.88 L196.89 76.44 L197.8 76.82 L198.7 77.25 L199.6 76.43 L200.5 77.12 L201.41 76.81 L202.31 77.19 L203.21 77 L204.12 76.53 L205.02 77.2 L205.92 76.79 L206.82 76.32 L207.73 76.3 L208.63 76.79 L209.53 76.75 L210.43 76.6 L211.33 76.44 L212.24 76.64 L213.14 76.62 L214.04 77.14 L214.94 76.3 L215.85 77.05 L216.75 77.14 L217.65 76.42 L218.56 77.23 L219.46 77.01 L220.36 77.2 L221.26 76.59 L222.17 76.67 L223.07 76.69 L223.97 77.3 L224.87 76.89 L225.78 76.66 L226.68 76.73 L227.58 76.58 L228.48 76.35 L229.38 76.4 L230.29 77.13 L231.19 76.59 L232.09 77.24 L233 76.55 L233.9 76.57 L234.8 76.81 L235.7 76.49 L236.61 76.67 L237.51 77.26 L238.41 77.18 L239.31 77.11 L240.22 76.93 L241.12 77.21 L242.02 77.24 L242.92 76.85 L243.82 77.02 L244.73 76.35 L245.63 77.03 L246.53 76.75 L247.44 77.05 L248.34 76.94 L249.24 76.59 L250.14 76.35 L251.04 77.23 L251.95 76.43 L252.85 76.77 L253.75 76.64 L254.66 76.6 L255.56 77.04 L256.46 77.28 L257.36 76.56 L258.26 76.96 L259.17 76.6 L260.07 76.86 L260.97 76.69 L261.88 76.47 L262.78 76.46 L263.68 76.51 L264.58 77.21 L265.49 76.8 L266.39 76.52 L267.29 77.21 L268.19 77.3 L269.1 76.75 L270 76.44 L270.9 76.49 L271.8 76.39 L272.71 76.64 L273.61 76.39 L274.51 76.54 L275.41 76.56 L276.31 76.87 L277.22 77.19 L278.12 77.05 L279.02 76.71 L279.92 76.71 L280.83 76.82 L281.73 76.68 L282.63 76.64 L283.53 76.36 L284.44 76.58 L285.34 77.27 L286.24 76.43 L287.14 76.8 L288.05 76.93 L288.95 77.16 L289.85 76.52 L290.75 76.57 L291.66 76.55 L292.56 76.7 L293.46 76.75 L294.37 77.25 L295.27 77.15 L296.17 77.17 L297.07 76.32 L297.98 76.33 L298.88 77.01 L299.78 77.2 L300.68 76.77 L301.59 76.89 L302.49 76.3 L303.39 76.69 L304.29 77.23 L305.19 77.13 L306.1 77.16 L307 76.8" fill="none" stroke="#10f010" stroke-width="3.3" stroke-linejoin="round"/>
<line x1="202.9" y1="116.6" x2="202.9" y2="181.1" stroke="#ffb0b0" stroke-width="1"/>
<path d="M21.6 181.57 L22.5 180.85 L23.4 180.71 L24.31 180.75 L25.21 181.12 L26.11 181.28 L27.01 181.54 L27.91 181.32 L28.82 181.25 L29.72 181.36 L30.62 181.06 L31.52 181.15 L32.42 180.64 L33.33 181.38 L34.23 180.83 L35.13 181.52 L36.03 181.25 L36.93 180.9 L37.84 180.73 L38.74 180.85 L39.64 181.24 L40.54 181.3 L41.44 180.71 L42.35 180.67 L43.25 181.12 L44.15 181.18 L45.05 180.99 L45.95 180.82 L46.86 181.2 L47.76 180.61 L48.66 180.9 L49.56 181.06 L50.46 181.56 L51.37 181.24 L52.27 181.48 L53.17 181.08 L54.07 180.83 L54.97 180.85 L55.88 181.56 L56.78 181.3 L57.68 180.91 L58.58 180.62 L59.48 181.1 L60.39 181.27 L61.29 181.02 L62.19 180.86 L63.09 181.27 L63.99 181.53 L64.9 180.83 L65.8 180.63 L66.7 180.94 L67.6 181.02 L68.5 181.28 L69.41 180.8 L70.31 181.4 L71.21 181.34 L72.11 181.1 L73.01 180.81 L73.92 181.57 L74.82 180.91 L75.72 181.42 L76.62 180.83 L77.52 180.82 L78.43 181.36 L79.33 180.89 L80.23 181.55 L81.13 181.1 L82.03 180.79 L82.94 180.82 L83.84 181.02 L84.74 181.27 L85.64 181.55 L86.54 180.75 L87.45 180.99 L88.35 180.81 L89.25 181.57 L90.15 180.74 L91.05 180.65 L91.96 180.66 L92.86 180.99 L93.76 181.5 L94.66 181.48 L95.56 181.33 L96.47 181.6 L97.37 181.53 L98.27 180.93 L99.17 180.79 L100.07 181.54 L100.98 181.35 L101.88 180.63 L102.78 181.26 L103.68 180.98 L104.58 180.97 L105.49 180.93 L106.39 180.77 L107.29 180.6 L108.19 180.88 L109.09 180.95 L110 181.56 L110.9 180.72 L111.8 181.56 L112.7 180.81 L113.6 180.96 L114.5 181.42 L115.41 181.42 L116.31 181.03 L117.21 180.65 L118.11 181.07 L119.01 180.97 L119.92 181.52 L120.82 180.79 L121.72 180.96 L122.62 181.5 L123.52 180.63 L124.43 181.01 L125.33 181.41 L126.23 181.37 L127.13 180.64 L128.03 180.63 L128.94 180.66 L129.84 181.52 L130.74 180.86 L131.64 181.35 L132.54 181.5 L133.45 180.94 L134.35 180.87 L135.25 181.56 L136.15 181.22 L137.05 180.86 L137.96 181.32 L138.86 180.92 L139.76 180.88 L140.66 180.6 L141.56 181.36 L142.47 181.52 L143.37 181.23 L144.27 181.54 L145.17 180.62 L146.07 180.83 L146.98 181.08 L147.88 181.56 L148.78 181.55 L149.68 180.99 L150.58 180.85 L151.49 181.03 L152.39 181.09 L153.29 181.53 L154.19 180.78 L155.09 181.4 L156 181.34 L156.9 181.42 L157.8 181.37 L158.7 181.21 L159.6 180.93 L160.51 180.92 L161.41 180.96 L162.31 181.38 L163.21 180.68 L164.11 180.8 L165.02 181.35 L165.92 180.85 L166.82 180.66 L167.72 180.63 L168.62 181.15 L169.53 180.93 L170.43 181.58 L171.33 181.48 L172.23 181.59 L173.13 180.86 L174.04 180.68 L174.94 180.7 L175.84 181.1 L176.74 181.31 L177.64 181.05 L178.55 180.83 L179.45 181.02 L180.35 181.22 L181.25 181.27 L182.15 181.35 L183.06 181.45 L183.96 181.26 L184.86 180.72 L185.76 181.44 L186.66 180.89 L187.57 181.17 L188.47 180.97 L189.37 181.34 L190.27 180.8 L191.17 180.85 L192.08 180.85 L192.98 180.75 L193.88 181.48 L194.78 181.18 L195.68 180.93 L196.59 181 L197.49 181.59 L198.39 181.11 L199.29 180.83 L200.19 181.41 L201.1 181.25 L202 181.59 L202.9 181.1" fill="none" stroke="#f81010" stroke-width="3.3" stroke-linejoin="round"/>
<path d="M202.9 116.2 L203.81 116.57 L204.71 116.92 L205.62 116.94 L206.52 117.01 L207.43 116.14 L208.33 116.39 L209.24 116.22 L210.14 116.29 L211.05 117.07 L211.95 116.68 L212.86 117.03 L213.76 116.47 L214.67 116.97 L215.57 116.55 L216.48 116.36 L217.38 116.88 L218.29 117.05 L219.19 116.21 L220.1 116.7 L221 116.72 L221.91 116.32 L222.81 116.47 L223.72 116.24 L224.63 116.3 L225.53 116.35 L226.44 116.7 L227.34 116.75 L228.25 116.3 L229.15 116.11 L230.06 116.43 L230.96 116.78 L231.87 116.29 L232.77 116.41 L233.68 116.3 L234.58 116.9 L235.49 116.65 L236.39 116.16 L237.3 116.2 L238.2 116.5 L239.11 116.65 L240.01 116.74 L240.92 116.19 L241.82 116.26 L242.73 116.8 L243.63 116.51 L244.54 116.38 L245.45 116.41 L246.35 117.05 L247.26 116.41 L248.16 116.67 L249.07 116.46 L249.97 116.52 L250.88 116.96 L251.78 117.1 L252.69 116.46 L253.59 116.3 L254.5 116.83 L255.4 116.3 L256.31 116.11 L257.21 117 L258.12 116.52 L259.02 116.92 L259.93 116.51 L260.83 116.98 L261.74 116.56 L262.64 116.26 L263.55 116.11 L264.45 116.65 L265.36 116.74 L266.27 117.01 L267.17 116.19 L268.08 116.72 L268.98 116.47 L269.89 116.6 L270.79 116.25 L271.7 116.38 L272.6 116.62 L273.51 117.03 L274.41 116.21 L275.32 116.59 L276.22 116.9 L277.13 117.07 L278.03 116.3 L278.94 116.23 L279.84 117.04 L280.75 117.08 L281.65 116.58 L282.56 116.15 L283.46 117.03 L284.37 116.49 L285.27 117 L286.18 116.72 L287.09 116.92 L287.99 116.26 L288.9 116.89 L289.8 116.32 L290.71 116.5 L291.61 116.95 L292.52 116.93 L293.42 116.28 L294.33 116.32 L295.23 116.5 L296.14 116.62 L297.04 116.48 L297.95 116.22 L298.85 116.35 L299.76 116.82 L300.66 117 L301.57 116.14 L302.47 116.66 L303.38 116.86 L304.28 116.14 L305.19 116.94 L306.09 116.22 L307 116.6" fill="none" stroke="#f81010" stroke-width="3.3" stroke-linejoin="round"/>
<path d="M0.6 41.9 h3.5 l1.8 2.6 l-1.8 2.6 h-3.5 z" fill="#ffffff" stroke="#2020f0" stroke-width="0.9"/>
<text transform="translate(2.5 46.2) scale(0.25)" font-size="18.4" fill="#2020f0" font-weight="bold" text-anchor="middle">1</text>
<text transform="translate(7.2 46.3) scale(0.25)" font-size="18" fill="#1a1a1a" font-weight="bold">VDD</text>
<path d="M0.6 120.8 h3.5 l1.8 2.6 l-1.8 2.6 h-3.5 z" fill="#30d030" stroke="#30d030" stroke-width="0.9"/>
<text transform="translate(2.5 125.1) scale(0.25)" font-size="18.4" fill="#ffffff" font-weight="bold" text-anchor="middle">3</text>
<text transform="translate(7.2 125.2) scale(0.25)" font-size="18" fill="#1a1a1a" font-weight="bold">SENSE</text>
<path d="M0.6 178.5 h3.5 l1.8 2.6 l-1.8 2.6 h-3.5 z" fill="#ffffff" stroke="#f02020" stroke-width="0.9"/>
<text transform="translate(2.5 182.8) scale(0.25)" font-size="18.4" fill="#f02020" font-weight="bold" text-anchor="middle">2</text>
<text transform="translate(7.2 182.9) scale(0.25)" font-size="18" fill="#1a1a1a" font-weight="bold">RESET</text>
<rect x="6.5" y="202.6" width="166" height="5.6" rx="1" fill="#ffffff" stroke="#9a9aaa" stroke-width="0.8"/>
<ellipse cx="11.8" cy="205.4" rx="3.7" ry="2.2" fill="#0020f0"/>
<text transform="translate(11.8 207) scale(0.25)" font-size="16" fill="#fff" font-weight="bold" text-anchor="middle">1</text>
<text transform="translate(20.6 207.3) scale(0.25)" font-size="20" fill="#0020f0" font-weight="bold">2.00 V</text>
<ellipse cx="53.3" cy="205.4" rx="3.7" ry="2.2" fill="#f01010"/>
<text transform="translate(53.3 207) scale(0.25)" font-size="16" fill="#fff" font-weight="bold" text-anchor="middle">2</text>
<text transform="translate(62.1 207.3) scale(0.25)" font-size="20" fill="#f01010" font-weight="bold">1.00 V</text>
<ellipse cx="95.3" cy="205.4" rx="3.7" ry="2.2" fill="#50e850"/>
<text transform="translate(95.3 207) scale(0.25)" font-size="16" fill="#fff" font-weight="bold" text-anchor="middle">3</text>
<text transform="translate(104.1 207.3) scale(0.25)" font-size="20" fill="#60e860" font-weight="bold">500mV</text>
<rect x="175.6" y="202.6" width="44" height="10.6" rx="1.2" fill="#ffffff" stroke="#9a9a9a" stroke-width="0.8"/>
<text transform="translate(177 207) scale(0.25)" font-size="20" fill="#222" font-weight="bold">4.00ms</text>
<rect x="177" y="208.3" width="2.2" height="3.1" fill="#3a8cf0"/>
<text transform="translate(179.6 211.6) scale(0.25)" font-size="18.4" fill="#3a70f0">+&#9660;4.000000ms</text>
<rect x="222" y="202.6" width="32" height="10.6" rx="1.2" fill="#ffffff" stroke="#9a9a9a" stroke-width="0.8"/>
<text transform="translate(223.7 207) scale(0.25)" font-size="20.4" fill="#222" font-weight="bold">2.50MS/s</text>
<text transform="translate(223.7 211.6) scale(0.25)" font-size="20.4" fill="#222" font-weight="bold">100k points</text>
<rect x="256.8" y="202.6" width="52" height="11.2" rx="1.2" fill="#ffffff" stroke="#9a9a9a" stroke-width="0.8"/>
<ellipse cx="269.3" cy="205.4" rx="3.6" ry="2.2" fill="#40e040"/>
<text transform="translate(269.3 207) scale(0.25)" font-size="16" fill="#fff" font-weight="bold" text-anchor="middle">3</text>
<path d="M276.6 207.3 l1.2 0 l1.5 -3.2" stroke="#222" stroke-width="0.8" fill="none"/>
<text transform="translate(305.8 207.4) scale(0.25)" font-size="20" fill="#555" font-weight="bold" text-anchor="end">1.08 V</text>
<rect x="274" y="220.2" width="35" height="10.4" rx="1.2" fill="#ffffff" stroke="#9a9a9a" stroke-width="0.8"/>
<text transform="translate(278.6 224.9) scale(0.25)" font-size="18" fill="#2a2a2a" font-weight="bold" letter-spacing="0.8">6 Sep&#160;&#160;2018</text>
<text transform="translate(275.3 229.9) scale(0.25)" font-size="18" fill="#2a2a2a" font-weight="bold" letter-spacing="1">01:05:25</text>
</svg><svg class="scope" style="left:599.2px;top:144px" width="308" height="231.8" viewBox="0 0 307 231.8" preserveAspectRatio="none" font-family="Liberation Sans">
<rect x="0" y="6" width="307" height="225.8" fill="#fdf8fd"/><rect x="0" y="6" width="0.9" height="225.8" fill="#efeff1"/>
<rect x="6.4" y="5.5" width="300.6" height="195.7" fill="#fefefe"/>
<path d="M11.92 25.07h1 M17.94 25.07h1 M23.96 25.07h1 M29.98 25.07h1 M36 25.07h1 M42.02 25.07h1 M48.04 25.07h1 M54.06 25.07h1 M60.08 25.07h1 M66.1 25.07h1 M72.12 25.07h1 M78.14 25.07h1 M84.16 25.07h1 M90.18 25.07h1 M96.2 25.07h1 M102.22 25.07h1 M108.24 25.07h1 M114.26 25.07h1 M120.28 25.07h1 M126.3 25.07h1 M132.32 25.07h1 M138.34 25.07h1 M144.36 25.07h1 M150.38 25.07h1 M156.4 25.07h1 M162.42 25.07h1 M168.44 25.07h1 M174.46 25.07h1 M180.48 25.07h1 M186.5 25.07h1 M192.52 25.07h1 M198.54 25.07h1 M204.56 25.07h1 M210.58 25.07h1 M216.6 25.07h1 M222.62 25.07h1 M228.64 25.07h1 M234.66 25.07h1 M240.68 25.07h1 M246.7 25.07h1 M252.72 25.07h1 M258.74 25.07h1 M264.76 25.07h1 M270.78 25.07h1 M276.8 25.07h1 M282.82 25.07h1 M288.84 25.07h1 M294.86 25.07h1 M300.88 25.07h1 M11.92 44.64h1 M17.94 44.64h1 M23.96 44.64h1 M29.98 44.64h1 M36 44.64h1 M42.02 44.64h1 M48.04 44.64h1 M54.06 44.64h1 M60.08 44.64h1 M66.1 44.64h1 M72.12 44.64h1 M78.14 44.64h1 M84.16 44.64h1 M90.18 44.64h1 M96.2 44.64h1 M102.22 44.64h1 M108.24 44.64h1 M114.26 44.64h1 M120.28 44.64h1 M126.3 44.64h1 M132.32 44.64h1 M138.34 44.64h1 M144.36 44.64h1 M150.38 44.64h1 M156.4 44.64h1 M162.42 44.64h1 M168.44 44.64h1 M174.46 44.64h1 M180.48 44.64h1 M186.5 44.64h1 M192.52 44.64h1 M198.54 44.64h1 M204.56 44.64h1 M210.58 44.64h1 M216.6 44.64h1 M222.62 44.64h1 M228.64 44.64h1 M234.66 44.64h1 M240.68 44.64h1 M246.7 44.64h1 M252.72 44.64h1 M258.74 44.64h1 M264.76 44.64h1 M270.78 44.64h1 M276.8 44.64h1 M282.82 44.64h1 M288.84 44.64h1 M294.86 44.64h1 M300.88 44.64h1 M11.92 64.21h1 M17.94 64.21h1 M23.96 64.21h1 M29.98 64.21h1 M36 64.21h1 M42.02 64.21h1 M48.04 64.21h1 M54.06 64.21h1 M60.08 64.21h1 M66.1 64.21h1 M72.12 64.21h1 M78.14 64.21h1 M84.16 64.21h1 M90.18 64.21h1 M96.2 64.21h1 M102.22 64.21h1 M108.24 64.21h1 M114.26 64.21h1 M120.28 64.21h1 M126.3 64.21h1 M132.32 64.21h1 M138.34 64.21h1 M144.36 64.21h1 M150.38 64.21h1 M156.4 64.21h1 M162.42 64.21h1 M168.44 64.21h1 M174.46 64.21h1 M180.48 64.21h1 M186.5 64.21h1 M192.52 64.21h1 M198.54 64.21h1 M204.56 64.21h1 M210.58 64.21h1 M216.6 64.21h1 M222.62 64.21h1 M228.64 64.21h1 M234.66 64.21h1 M240.68 64.21h1 M246.7 64.21h1 M252.72 64.21h1 M258.74 64.21h1 M264.76 64.21h1 M270.78 64.21h1 M276.8 64.21h1 M282.82 64.21h1 M288.84 64.21h1 M294.86 64.21h1 M300.88 64.21h1 M11.92 83.78h1 M17.94 83.78h1 M23.96 83.78h1 M29.98 83.78h1 M36 83.78h1 M42.02 83.78h1 M48.04 83.78h1 M54.06 83.78h1 M60.08 83.78h1 M66.1 83.78h1 M72.12 83.78h1 M78.14 83.78h1 M84.16 83.78h1 M90.18 83.78h1 M96.2 83.78h1 M102.22 83.78h1 M108.24 83.78h1 M114.26 83.78h1 M120.28 83.78h1 M126.3 83.78h1 M132.32 83.78h1 M138.34 83.78h1 M144.36 83.78h1 M150.38 83.78h1 M156.4 83.78h1 M162.42 83.78h1 M168.44 83.78h1 M174.46 83.78h1 M180.48 83.78h1 M186.5 83.78h1 M192.52 83.78h1 M198.54 83.78h1 M204.56 83.78h1 M210.58 83.78h1 M216.6 83.78h1 M222.62 83.78h1 M228.64 83.78h1 M234.66 83.78h1 M240.68 83.78h1 M246.7 83.78h1 M252.72 83.78h1 M258.74 83.78h1 M264.76 83.78h1 M270.78 83.78h1 M276.8 83.78h1 M282.82 83.78h1 M288.84 83.78h1 M294.86 83.78h1 M300.88 83.78h1 M11.92 122.92h1 M17.94 122.92h1 M23.96 122.92h1 M29.98 122.92h1 M36 122.92h1 M42.02 122.92h1 M48.04 122.92h1 M54.06 122.92h1 M60.08 122.92h1 M66.1 122.92h1 M72.12 122.92h1 M78.14 122.92h1 M84.16 122.92h1 M90.18 122.92h1 M96.2 122.92h1 M102.22 122.92h1 M108.24 122.92h1 M114.26 122.92h1 M120.28 122.92h1 M126.3 122.92h1 M132.32 122.92h1 M138.34 122.92h1 M144.36 122.92h1 M150.38 122.92h1 M156.4 122.92h1 M162.42 122.92h1 M168.44 122.92h1 M174.46 122.92h1 M180.48 122.92h1 M186.5 122.92h1 M192.52 122.92h1 M198.54 122.92h1 M204.56 122.92h1 M210.58 122.92h1 M216.6 122.92h1 M222.62 122.92h1 M228.64 122.92h1 M234.66 122.92h1 M240.68 122.92h1 M246.7 122.92h1 M252.72 122.92h1 M258.74 122.92h1 M264.76 122.92h1 M270.78 122.92h1 M276.8 122.92h1 M282.82 122.92h1 M288.84 122.92h1 M294.86 122.92h1 M300.88 122.92h1 M11.92 142.49h1 M17.94 142.49h1 M23.96 142.49h1 M29.98 142.49h1 M36 142.49h1 M42.02 142.49h1 M48.04 142.49h1 M54.06 142.49h1 M60.08 142.49h1 M66.1 142.49h1 M72.12 142.49h1 M78.14 142.49h1 M84.16 142.49h1 M90.18 142.49h1 M96.2 142.49h1 M102.22 142.49h1 M108.24 142.49h1 M114.26 142.49h1 M120.28 142.49h1 M126.3 142.49h1 M132.32 142.49h1 M138.34 142.49h1 M144.36 142.49h1 M150.38 142.49h1 M156.4 142.49h1 M162.42 142.49h1 M168.44 142.49h1 M174.46 142.49h1 M180.48 142.49h1 M186.5 142.49h1 M192.52 142.49h1 M198.54 142.49h1 M204.56 142.49h1 M210.58 142.49h1 M216.6 142.49h1 M222.62 142.49h1 M228.64 142.49h1 M234.66 142.49h1 M240.68 142.49h1 M246.7 142.49h1 M252.72 142.49h1 M258.74 142.49h1 M264.76 142.49h1 M270.78 142.49h1 M276.8 142.49h1 M282.82 142.49h1 M288.84 142.49h1 M294.86 142.49h1 M300.88 142.49h1 M11.92 162.06h1 M17.94 162.06h1 M23.96 162.06h1 M29.98 162.06h1 M36 162.06h1 M42.02 162.06h1 M48.04 162.06h1 M54.06 162.06h1 M60.08 162.06h1 M66.1 162.06h1 M72.12 162.06h1 M78.14 162.06h1 M84.16 162.06h1 M90.18 162.06h1 M96.2 162.06h1 M102.22 162.06h1 M108.24 162.06h1 M114.26 162.06h1 M120.28 162.06h1 M126.3 162.06h1 M132.32 162.06h1 M138.34 162.06h1 M144.36 162.06h1 M150.38 162.06h1 M156.4 162.06h1 M162.42 162.06h1 M168.44 162.06h1 M174.46 162.06h1 M180.48 162.06h1 M186.5 162.06h1 M192.52 162.06h1 M198.54 162.06h1 M204.56 162.06h1 M210.58 162.06h1 M216.6 162.06h1 M222.62 162.06h1 M228.64 162.06h1 M234.66 162.06h1 M240.68 162.06h1 M246.7 162.06h1 M252.72 162.06h1 M258.74 162.06h1 M264.76 162.06h1 M270.78 162.06h1 M276.8 162.06h1 M282.82 162.06h1 M288.84 162.06h1 M294.86 162.06h1 M300.88 162.06h1 M11.92 181.63h1 M17.94 181.63h1 M23.96 181.63h1 M29.98 181.63h1 M36 181.63h1 M42.02 181.63h1 M48.04 181.63h1 M54.06 181.63h1 M60.08 181.63h1 M66.1 181.63h1 M72.12 181.63h1 M78.14 181.63h1 M84.16 181.63h1 M90.18 181.63h1 M96.2 181.63h1 M102.22 181.63h1 M108.24 181.63h1 M114.26 181.63h1 M120.28 181.63h1 M126.3 181.63h1 M132.32 181.63h1 M138.34 181.63h1 M144.36 181.63h1 M150.38 181.63h1 M156.4 181.63h1 M162.42 181.63h1 M168.44 181.63h1 M174.46 181.63h1 M180.48 181.63h1 M186.5 181.63h1 M192.52 181.63h1 M198.54 181.63h1 M204.56 181.63h1 M210.58 181.63h1 M216.6 181.63h1 M222.62 181.63h1 M228.64 181.63h1 M234.66 181.63h1 M240.68 181.63h1 M246.7 181.63h1 M252.72 181.63h1 M258.74 181.63h1 M264.76 181.63h1 M270.78 181.63h1 M276.8 181.63h1 M282.82 181.63h1 M288.84 181.63h1 M294.86 181.63h1 M300.88 181.63h1 M36.5 8.91v1 M36.5 12.83v1 M36.5 16.74v1 M36.5 20.66v1 M36.5 24.57v1 M36.5 28.48v1 M36.5 32.4v1 M36.5 36.31v1 M36.5 40.23v1 M36.5 44.14v1 M36.5 48.05v1 M36.5 51.97v1 M36.5 55.88v1 M36.5 59.8v1 M36.5 63.71v1 M36.5 67.62v1 M36.5 71.54v1 M36.5 75.45v1 M36.5 79.37v1 M36.5 83.28v1 M36.5 87.19v1 M36.5 91.11v1 M36.5 95.02v1 M36.5 98.94v1 M36.5 102.85v1 M36.5 106.76v1 M36.5 110.68v1 M36.5 114.59v1 M36.5 118.51v1 M36.5 122.42v1 M36.5 126.33v1 M36.5 130.25v1 M36.5 134.16v1 M36.5 138.08v1 M36.5 141.99v1 M36.5 145.9v1 M36.5 149.82v1 M36.5 153.73v1 M36.5 157.65v1 M36.5 161.56v1 M36.5 165.47v1 M36.5 169.39v1 M36.5 173.3v1 M36.5 177.22v1 M36.5 181.13v1 M36.5 185.04v1 M36.5 188.96v1 M36.5 192.87v1 M36.5 196.79v1 M66.6 8.91v1 M66.6 12.83v1 M66.6 16.74v1 M66.6 20.66v1 M66.6 24.57v1 M66.6 28.48v1 M66.6 32.4v1 M66.6 36.31v1 M66.6 40.23v1 M66.6 44.14v1 M66.6 48.05v1 M66.6 51.97v1 M66.6 55.88v1 M66.6 59.8v1 M66.6 63.71v1 M66.6 67.62v1 M66.6 71.54v1 M66.6 75.45v1 M66.6 79.37v1 M66.6 83.28v1 M66.6 87.19v1 M66.6 91.11v1 M66.6 95.02v1 M66.6 98.94v1 M66.6 102.85v1 M66.6 106.76v1 M66.6 110.68v1 M66.6 114.59v1 M66.6 118.51v1 M66.6 122.42v1 M66.6 126.33v1 M66.6 130.25v1 M66.6 134.16v1 M66.6 138.08v1 M66.6 141.99v1 M66.6 145.9v1 M66.6 149.82v1 M66.6 153.73v1 M66.6 157.65v1 M66.6 161.56v1 M66.6 165.47v1 M66.6 169.39v1 M66.6 173.3v1 M66.6 177.22v1 M66.6 181.13v1 M66.6 185.04v1 M66.6 188.96v1 M66.6 192.87v1 M66.6 196.79v1 M96.7 8.91v1 M96.7 12.83v1 M96.7 16.74v1 M96.7 20.66v1 M96.7 24.57v1 M96.7 28.48v1 M96.7 32.4v1 M96.7 36.31v1 M96.7 40.23v1 M96.7 44.14v1 M96.7 48.05v1 M96.7 51.97v1 M96.7 55.88v1 M96.7 59.8v1 M96.7 63.71v1 M96.7 67.62v1 M96.7 71.54v1 M96.7 75.45v1 M96.7 79.37v1 M96.7 83.28v1 M96.7 87.19v1 M96.7 91.11v1 M96.7 95.02v1 M96.7 98.94v1 M96.7 102.85v1 M96.7 106.76v1 M96.7 110.68v1 M96.7 114.59v1 M96.7 118.51v1 M96.7 122.42v1 M96.7 126.33v1 M96.7 130.25v1 M96.7 134.16v1 M96.7 138.08v1 M96.7 141.99v1 M96.7 145.9v1 M96.7 149.82v1 M96.7 153.73v1 M96.7 157.65v1 M96.7 161.56v1 M96.7 165.47v1 M96.7 169.39v1 M96.7 173.3v1 M96.7 177.22v1 M96.7 181.13v1 M96.7 185.04v1 M96.7 188.96v1 M96.7 192.87v1 M96.7 196.79v1 M126.8 8.91v1 M126.8 12.83v1 M126.8 16.74v1 M126.8 20.66v1 M126.8 24.57v1 M126.8 28.48v1 M126.8 32.4v1 M126.8 36.31v1 M126.8 40.23v1 M126.8 44.14v1 M126.8 48.05v1 M126.8 51.97v1 M126.8 55.88v1 M126.8 59.8v1 M126.8 63.71v1 M126.8 67.62v1 M126.8 71.54v1 M126.8 75.45v1 M126.8 79.37v1 M126.8 83.28v1 M126.8 87.19v1 M126.8 91.11v1 M126.8 95.02v1 M126.8 98.94v1 M126.8 102.85v1 M126.8 106.76v1 M126.8 110.68v1 M126.8 114.59v1 M126.8 118.51v1 M126.8 122.42v1 M126.8 126.33v1 M126.8 130.25v1 M126.8 134.16v1 M126.8 138.08v1 M126.8 141.99v1 M126.8 145.9v1 M126.8 149.82v1 M126.8 153.73v1 M126.8 157.65v1 M126.8 161.56v1 M126.8 165.47v1 M126.8 169.39v1 M126.8 173.3v1 M126.8 177.22v1 M126.8 181.13v1 M126.8 185.04v1 M126.8 188.96v1 M126.8 192.87v1 M126.8 196.79v1 M187 8.91v1 M187 12.83v1 M187 16.74v1 M187 20.66v1 M187 24.57v1 M187 28.48v1 M187 32.4v1 M187 36.31v1 M187 40.23v1 M187 44.14v1 M187 48.05v1 M187 51.97v1 M187 55.88v1 M187 59.8v1 M187 63.71v1 M187 67.62v1 M187 71.54v1 M187 75.45v1 M187 79.37v1 M187 83.28v1 M187 87.19v1 M187 91.11v1 M187 95.02v1 M187 98.94v1 M187 102.85v1 M187 106.76v1 M187 110.68v1 M187 114.59v1 M187 118.51v1 M187 122.42v1 M187 126.33v1 M187 130.25v1 M187 134.16v1 M187 138.08v1 M187 141.99v1 M187 145.9v1 M187 149.82v1 M187 153.73v1 M187 157.65v1 M187 161.56v1 M187 165.47v1 M187 169.39v1 M187 173.3v1 M187 177.22v1 M187 181.13v1 M187 185.04v1 M187 188.96v1 M187 192.87v1 M187 196.79v1 M217.1 8.91v1 M217.1 12.83v1 M217.1 16.74v1 M217.1 20.66v1 M217.1 24.57v1 M217.1 28.48v1 M217.1 32.4v1 M217.1 36.31v1 M217.1 40.23v1 M217.1 44.14v1 M217.1 48.05v1 M217.1 51.97v1 M217.1 55.88v1 M217.1 59.8v1 M217.1 63.71v1 M217.1 67.62v1 M217.1 71.54v1 M217.1 75.45v1 M217.1 79.37v1 M217.1 83.28v1 M217.1 87.19v1 M217.1 91.11v1 M217.1 95.02v1 M217.1 98.94v1 M217.1 102.85v1 M217.1 106.76v1 M217.1 110.68v1 M217.1 114.59v1 M217.1 118.51v1 M217.1 122.42v1 M217.1 126.33v1 M217.1 130.25v1 M217.1 134.16v1 M217.1 138.08v1 M217.1 141.99v1 M217.1 145.9v1 M217.1 149.82v1 M217.1 153.73v1 M217.1 157.65v1 M217.1 161.56v1 M217.1 165.47v1 M217.1 169.39v1 M217.1 173.3v1 M217.1 177.22v1 M217.1 181.13v1 M217.1 185.04v1 M217.1 188.96v1 M217.1 192.87v1 M217.1 196.79v1 M247.2 8.91v1 M247.2 12.83v1 M247.2 16.74v1 M247.2 20.66v1 M247.2 24.57v1 M247.2 28.48v1 M247.2 32.4v1 M247.2 36.31v1 M247.2 40.23v1 M247.2 44.14v1 M247.2 48.05v1 M247.2 51.97v1 M247.2 55.88v1 M247.2 59.8v1 M247.2 63.71v1 M247.2 67.62v1 M247.2 71.54v1 M247.2 75.45v1 M247.2 79.37v1 M247.2 83.28v1 M247.2 87.19v1 M247.2 91.11v1 M247.2 95.02v1 M247.2 98.94v1 M247.2 102.85v1 M247.2 106.76v1 M247.2 110.68v1 M247.2 114.59v1 M247.2 118.51v1 M247.2 122.42v1 M247.2 126.33v1 M247.2 130.25v1 M247.2 134.16v1 M247.2 138.08v1 M247.2 141.99v1 M247.2 145.9v1 M247.2 149.82v1 M247.2 153.73v1 M247.2 157.65v1 M247.2 161.56v1 M247.2 165.47v1 M247.2 169.39v1 M247.2 173.3v1 M247.2 177.22v1 M247.2 181.13v1 M247.2 185.04v1 M247.2 188.96v1 M247.2 192.87v1 M247.2 196.79v1 M277.3 8.91v1 M277.3 12.83v1 M277.3 16.74v1 M277.3 20.66v1 M277.3 24.57v1 M277.3 28.48v1 M277.3 32.4v1 M277.3 36.31v1 M277.3 40.23v1 M277.3 44.14v1 M277.3 48.05v1 M277.3 51.97v1 M277.3 55.88v1 M277.3 59.8v1 M277.3 63.71v1 M277.3 67.62v1 M277.3 71.54v1 M277.3 75.45v1 M277.3 79.37v1 M277.3 83.28v1 M277.3 87.19v1 M277.3 91.11v1 M277.3 95.02v1 M277.3 98.94v1 M277.3 102.85v1 M277.3 106.76v1 M277.3 110.68v1 M277.3 114.59v1 M277.3 118.51v1 M277.3 122.42v1 M277.3 126.33v1 M277.3 130.25v1 M277.3 134.16v1 M277.3 138.08v1 M277.3 141.99v1 M277.3 145.9v1 M277.3 149.82v1 M277.3 153.73v1 M277.3 157.65v1 M277.3 161.56v1 M277.3 165.47v1 M277.3 169.39v1 M277.3 173.3v1 M277.3 177.22v1 M277.3 181.13v1 M277.3 185.04v1 M277.3 188.96v1 M277.3 192.87v1 M277.3 196.79v1" stroke="#d2d2d2" stroke-width="1" fill="none"/>
<line x1="6.4" y1="103.35" x2="307.4" y2="103.35" stroke="#b0b0b0" stroke-width="0.7"/>
<line x1="156.9" y1="5.5" x2="156.9" y2="201.2" stroke="#b0b0b0" stroke-width="0.7"/>
<path d="M12.42 102.35v2 M18.44 102.35v2 M24.46 102.35v2 M30.48 102.35v2 M36.5 102.35v2 M42.52 102.35v2 M48.54 102.35v2 M54.56 102.35v2 M60.58 102.35v2 M66.6 102.35v2 M72.62 102.35v2 M78.64 102.35v2 M84.66 102.35v2 M90.68 102.35v2 M96.7 102.35v2 M102.72 102.35v2 M108.74 102.35v2 M114.76 102.35v2 M120.78 102.35v2 M126.8 102.35v2 M132.82 102.35v2 M138.84 102.35v2 M144.86 102.35v2 M150.88 102.35v2 M156.9 102.35v2 M162.92 102.35v2 M168.94 102.35v2 M174.96 102.35v2 M180.98 102.35v2 M187 102.35v2 M193.02 102.35v2 M199.04 102.35v2 M205.06 102.35v2 M211.08 102.35v2 M217.1 102.35v2 M223.12 102.35v2 M229.14 102.35v2 M235.16 102.35v2 M241.18 102.35v2 M247.2 102.35v2 M253.22 102.35v2 M259.24 102.35v2 M265.26 102.35v2 M271.28 102.35v2 M277.3 102.35v2 M283.32 102.35v2 M289.34 102.35v2 M295.36 102.35v2 M301.38 102.35v2 M155.9 9.41h2 M155.9 13.33h2 M155.9 17.24h2 M155.9 21.16h2 M155.9 25.07h2 M155.9 28.98h2 M155.9 32.9h2 M155.9 36.81h2 M155.9 40.73h2 M155.9 44.64h2 M155.9 48.55h2 M155.9 52.47h2 M155.9 56.38h2 M155.9 60.3h2 M155.9 64.21h2 M155.9 68.12h2 M155.9 72.04h2 M155.9 75.95h2 M155.9 79.87h2 M155.9 83.78h2 M155.9 87.69h2 M155.9 91.61h2 M155.9 95.52h2 M155.9 99.44h2 M155.9 103.35h2 M155.9 107.26h2 M155.9 111.18h2 M155.9 115.09h2 M155.9 119.01h2 M155.9 122.92h2 M155.9 126.83h2 M155.9 130.75h2 M155.9 134.66h2 M155.9 138.58h2 M155.9 142.49h2 M155.9 146.4h2 M155.9 150.32h2 M155.9 154.23h2 M155.9 158.15h2 M155.9 162.06h2 M155.9 165.97h2 M155.9 169.89h2 M155.9 173.8h2 M155.9 177.72h2 M155.9 181.63h2 M155.9 185.54h2 M155.9 189.46h2 M155.9 193.37h2 M155.9 197.29h2" stroke="#a0a0a0" stroke-width="0.8" fill="none"/>
<path d="M6.4 5.5 V201.2 M6.4 5.5 H307 M6.4 201.2 H307" stroke="#dcc0a4" stroke-width="1" fill="none"/>
<path d="M6.4 9.41h1.6 M6.4 13.33h1.6 M6.4 17.24h1.6 M6.4 21.16h1.6 M6.4 25.07h1.6 M6.4 28.98h1.6 M6.4 32.9h1.6 M6.4 36.81h1.6 M6.4 40.73h1.6 M6.4 44.64h1.6 M6.4 48.55h1.6 M6.4 52.47h1.6 M6.4 56.38h1.6 M6.4 60.3h1.6 M6.4 64.21h1.6 M6.4 68.12h1.6 M6.4 72.04h1.6 M6.4 75.95h1.6 M6.4 79.87h1.6 M6.4 83.78h1.6 M6.4 87.69h1.6 M6.4 91.61h1.6 M6.4 95.52h1.6 M6.4 99.44h1.6 M6.4 103.35h1.6 M6.4 107.26h1.6 M6.4 111.18h1.6 M6.4 115.09h1.6 M6.4 119.01h1.6 M6.4 122.92h1.6 M6.4 126.83h1.6 M6.4 130.75h1.6 M6.4 134.66h1.6 M6.4 138.58h1.6 M6.4 142.49h1.6 M6.4 146.4h1.6 M6.4 150.32h1.6 M6.4 154.23h1.6 M6.4 158.15h1.6 M6.4 162.06h1.6 M6.4 165.97h1.6 M6.4 169.89h1.6 M6.4 173.8h1.6 M6.4 177.72h1.6 M6.4 181.63h1.6 M6.4 185.54h1.6 M6.4 189.46h1.6 M6.4 193.37h1.6 M6.4 197.29h1.6 M12.42 5.5v1.5 M12.42 201.2v-1.5 M18.44 5.5v1.5 M18.44 201.2v-1.5 M24.46 5.5v1.5 M24.46 201.2v-1.5 M30.48 5.5v1.5 M30.48 201.2v-1.5 M36.5 5.5v1.5 M36.5 201.2v-1.5 M42.52 5.5v1.5 M42.52 201.2v-1.5 M48.54 5.5v1.5 M48.54 201.2v-1.5 M54.56 5.5v1.5 M54.56 201.2v-1.5 M60.58 5.5v1.5 M60.58 201.2v-1.5 M66.6 5.5v1.5 M66.6 201.2v-1.5 M72.62 5.5v1.5 M72.62 201.2v-1.5 M78.64 5.5v1.5 M78.64 201.2v-1.5 M84.66 5.5v1.5 M84.66 201.2v-1.5 M90.68 5.5v1.5 M90.68 201.2v-1.5 M96.7 5.5v1.5 M96.7 201.2v-1.5 M102.72 5.5v1.5 M102.72 201.2v-1.5 M108.74 5.5v1.5 M108.74 201.2v-1.5 M114.76 5.5v1.5 M114.76 201.2v-1.5 M120.78 5.5v1.5 M120.78 201.2v-1.5 M126.8 5.5v1.5 M126.8 201.2v-1.5 M132.82 5.5v1.5 M132.82 201.2v-1.5 M138.84 5.5v1.5 M138.84 201.2v-1.5 M144.86 5.5v1.5 M144.86 201.2v-1.5 M150.88 5.5v1.5 M150.88 201.2v-1.5 M156.9 5.5v1.5 M156.9 201.2v-1.5 M162.92 5.5v1.5 M162.92 201.2v-1.5 M168.94 5.5v1.5 M168.94 201.2v-1.5 M174.96 5.5v1.5 M174.96 201.2v-1.5 M180.98 5.5v1.5 M180.98 201.2v-1.5 M187 5.5v1.5 M187 201.2v-1.5 M193.02 5.5v1.5 M193.02 201.2v-1.5 M199.04 5.5v1.5 M199.04 201.2v-1.5 M205.06 5.5v1.5 M205.06 201.2v-1.5 M211.08 5.5v1.5 M211.08 201.2v-1.5 M217.1 5.5v1.5 M217.1 201.2v-1.5 M223.12 5.5v1.5 M223.12 201.2v-1.5 M229.14 5.5v1.5 M229.14 201.2v-1.5 M235.16 5.5v1.5 M235.16 201.2v-1.5 M241.18 5.5v1.5 M241.18 201.2v-1.5 M247.2 5.5v1.5 M247.2 201.2v-1.5 M253.22 5.5v1.5 M253.22 201.2v-1.5 M259.24 5.5v1.5 M259.24 201.2v-1.5 M265.26 5.5v1.5 M265.26 201.2v-1.5 M271.28 5.5v1.5 M271.28 201.2v-1.5 M277.3 5.5v1.5 M277.3 201.2v-1.5 M283.32 5.5v1.5 M283.32 201.2v-1.5 M289.34 5.5v1.5 M289.34 201.2v-1.5 M295.36 5.5v1.5 M295.36 201.2v-1.5 M301.38 5.5v1.5 M301.38 201.2v-1.5" stroke="#d8c0a8" stroke-width="0.7" fill="none"/>
<line x1="0" y1="0.3" x2="307" y2="0.3" stroke="#a8a8a8" stroke-width="0.7"/>
<text transform="translate(0 4.7) scale(0.25)" font-size="25.6" fill="#1a1a1a" font-weight="bold" letter-spacing="-2">Tek</text>
<text transform="translate(10.9 4.8) scale(0.25)" font-size="20.8" fill="#7a7a7a" font-weight="bold">Run</text>
<rect x="36.3" y="0.5" width="240.4" height="4.8" fill="#fffcfa" stroke="#c8b0a0" stroke-width="0.7"/>
<line x1="84.8" y1="2.4" x2="229.2" y2="2.4" stroke="#4050f0" stroke-width="0.9"/>
<path d="M84.8 0.6v4.6 M229.2 0.6v4.6" stroke="#333" stroke-width="0.9"/>
<rect x="141" y="1.2" width="2.6" height="2.6" fill="#3a8cf0" rx="0.4"/>
<path d="M155.3 0.4 h3.2 l-1.6 1.6 z M155.3 5.6 h3.2 l-1.6 -1.6 z" fill="#2a6ae0"/>
<text transform="translate(279 4.8) scale(0.25)" font-size="21.2" fill="#222" font-weight="bold">Trig?</text>
<rect x="125.3" y="7" width="3.2" height="3.6" rx="0.9" fill="#3a8cf0"/><path d="M126 7.9 h1.8 M126.9 7.9 v2.2" stroke="#fff" stroke-width="0.5"/>
<path d="M306.8 89.1 l-2.2 1.4 l2.2 1.4 z" fill="#2030f0"/>
<path d="M6.4 22 L7.3 21.95 L8.2 22.03 L9.1 21.71 L10 21.82 L10.9 21.98 L11.8 21.83 L12.7 22.06 L13.6 21.85 L14.5 21.84 L15.4 21.42 L16.3 22.02 L17.2 21.89 L18.1 21.64 L19 22.16 L19.9 22.18 L20.8 21.86 L21.7 21.58 L22.6 21.87 L23.5 21.51 L24.4 21.53 L25.3 21.83 L26.2 21.49 L27.1 21.84 L28 21.91 L28.9 21.44 L29.8 22.04 L30.7 21.48 L31.6 22.13 L32.5 22.18 L33.4 21.91 L34.3 21.45 L35.2 21.9 L36.1 21.78 L37 22.35 L37.9 21.54 L38.8 22.26 L39.7 22.4 L40.6 22.13 L41.5 22.21 L42.4 21.59 L43.3 22.38 L44.2 21.89 L45.1 22.36 L46 22.32 L46.9 21.57 L47.8 22.19 L48.7 22.33 L49.6 21.47 L50.5 21.75 L51.4 22.16 L52.3 21.56 L53.2 22.3 L54.1 21.67 L55 22.22 L55.9 21.54 L56.8 21.9 L57.7 22.32 L58.6 21.61 L59.5 21.66 L60.4 21.91 L61.3 21.72 L62.2 21.44 L63.1 21.58 L64 21.56 L64.9 22.34 L65.8 22.08 L66.7 22.3 L67.6 21.57 L68.5 22.18 L69.4 21.52 L70.3 21.93 L71.2 22.04 L72.1 21.76 L73 22.27 L73.9 21.96 L74.8 21.98 L75.7 22.28 L76.6 21.5 L77.5 22.39 L78.4 22.03 L79.3 21.79 L80.2 22.2 L81.1 21.66 L82 22.39 L82.9 21.98 L83.8 21.76 L84.7 22.16 L85.6 21.84 L86.5 21.58 L87.4 22.14 L88.3 21.45 L89.2 22.22 L90.1 21.65 L91 22.04 L91.9 22.38 L92.8 21.99 L93.7 22.06 L94.6 21.71 L95.5 21.4 L96.4 21.43 L97.3 21.55 L98.2 22.02 L99.1 21.83 L100 21.91 L100.9 22.3 L101.8 21.53 L102.7 21.63 L103.6 22.05 L104.5 21.42 L105.4 21.4 L106.3 21.75 L107.2 21.51 L108.1 21.76 L109 21.62 L109.9 21.98 L110.8 21.99 L111.7 21.6 L112.6 22.02 L113.5 21.87 L114.4 21.53 L115.3 22.34 L116.2 21.64 L117.1 21.55 L118 21.5 L118.9 22.04 L119.8 22.27 L120.7 22.18 L121.6 21.8 L122.5 21.66 L123.4 21.41 L124.3 22.04 L125.2 21.96 L126.1 21.75 L127 22.05 L127.9 21.84 L128.8 22.34 L129.7 22.13 L130.6 21.65 L131.5 22.3 L132.4 21.44 L133.3 21.93 L134.2 21.81 L135.1 21.64 L136 21.46 L136.9 22.18 L137.8 21.41 L138.7 21.95 L139.6 22.34 L140.5 21.54 L141.4 21.6 L142.3 22.01 L143.2 21.91 L144.1 22.04 L145 22.21 L145.9 21.57 L146.8 21.71 L147.7 21.7 L148.6 21.45 L149.5 22.29 L150.4 22.18 L151.3 22.12 L152.2 21.41 L153.1 22.24 L154 22.15 L154.9 21.87 L155.8 22.14 L156.7 21.85 L157.6 21.63 L158.5 21.51 L159.4 21.63 L160.3 21.44 L161.2 21.74 L162.1 22.15 L163 22.1 L163.9 22.25 L164.8 22.11 L165.7 21.67 L166.6 21.95 L167.5 21.84 L168.4 22.19 L169.3 21.92 L170.2 21.67 L171.1 22.04 L172 22.37 L172.9 21.62 L173.8 22.28 L174.7 21.42 L175.6 21.66 L176.5 21.64 L177.4 22.14 L178.3 22.34 L179.2 22.15 L180.1 21.73 L181 22.28 L181.9 21.73 L182.8 21.64 L183.7 22.31 L184.6 22.03 L185.5 22.09 L186.4 22.07 L187.3 22.38 L188.2 21.87 L189.1 22.24 L190 22.1 L190.9 22.26 L191.8 21.84 L192.7 22.12 L193.6 21.97 L194.5 21.71 L195.4 21.61 L196.3 22.02 L197.2 21.48 L198.1 22.31 L199 21.54 L199.9 21.43 L200.8 21.51 L201.7 22.33 L202.6 21.74 L203.5 21.54 L204.4 21.43 L205.3 21.44 L206.2 22.09 L207.1 22.03 L208 22.1 L208.9 22.14 L209.8 21.47 L210.7 21.99 L211.6 21.76 L212.5 22.22 L213.4 22.22 L214.3 22.29 L215.2 21.47 L216.1 22.27 L217 22.31 L217.9 22.34 L218.8 21.51 L219.7 21.61 L220.6 21.51 L221.5 21.43 L222.4 22.25 L223.3 22.21 L224.2 22.03 L225.1 22.23 L226 22.03 L226.9 21.69 L227.8 21.5 L228.7 21.5 L229.6 22.16 L230.5 21.6 L231.4 21.72 L232.3 21.82 L233.2 21.42 L234.1 21.66 L235 21.68 L235.9 22.12 L236.8 21.77 L237.7 21.72 L238.6 22.36 L239.5 21.9 L240.4 22.25 L241.3 22.02 L242.2 21.43 L243.1 21.81 L244 21.84 L244.9 22.17 L245.8 21.75 L246.7 22.1 L247.6 21.94 L248.5 21.62 L249.4 22.26 L250.3 21.49 L251.2 22.22 L252.1 21.57 L253 21.4 L253.9 21.6 L254.8 22.16 L255.7 22.38 L256.6 21.4 L257.5 21.89 L258.4 21.89 L259.3 22.2 L260.2 21.58 L261.1 21.89 L262 21.75 L262.9 22.23 L263.8 21.66 L264.7 22.34 L265.6 21.68 L266.5 21.61 L267.4 22.1 L268.3 21.9 L269.2 21.51 L270.1 22.04 L271 21.48 L271.9 22.19 L272.8 22.1 L273.7 22.19 L274.6 22.03 L275.5 21.76 L276.4 21.8 L277.3 21.79 L278.2 22.29 L279.1 21.49 L280 22.29 L280.9 21.43 L281.8 21.61 L282.7 21.66 L283.6 22.3 L284.5 21.9 L285.4 21.78 L286.3 22.28 L287.2 21.63 L288.1 21.86 L289 21.93 L289.9 22.15 L290.8 22.15 L291.7 22.05 L292.6 21.75 L293.5 21.73 L294.4 21.56 L295.3 22.24 L296.2 22.06 L297.1 22.14 L298 21.57 L298.9 21.84 L299.8 22.17 L300.7 21.98 L301.6 21.53 L302.5 21.86 L303.4 22.29 L304.3 21.64 L305.2 21.59 L306.1 21.7 L307 21.9" fill="none" stroke="#10f010" stroke-width="3.3" stroke-linejoin="round"/>
<line x1="127.5" y1="59" x2="127.5" y2="123.4" stroke="#9090ff" stroke-width="1"/>
<path d="M18.5 123.6 L19.4 123.74 L20.3 123.05 L21.2 123.06 L22.1 123.15 L23 123.23 L23.9 123.42 L24.81 123.06 L25.71 123.23 L26.61 123.09 L27.51 123.88 L28.41 123.63 L29.31 123 L30.21 123.86 L31.11 123 L32.01 123.28 L32.91 123.88 L33.81 123.69 L34.71 123.63 L35.62 123.33 L36.52 123.1 L37.42 123.54 L38.32 123.01 L39.22 123.11 L40.12 123.29 L41.02 122.93 L41.92 123.3 L42.82 123.69 L43.72 123.59 L44.62 123.4 L45.52 123.53 L46.43 123.36 L47.33 123.04 L48.23 123.5 L49.13 123.3 L50.03 123.64 L50.93 123.81 L51.83 123.33 L52.73 123.47 L53.63 123.65 L54.53 123.32 L55.43 123.13 L56.33 123.62 L57.24 123.78 L58.14 123.67 L59.04 123.6 L59.94 123.75 L60.84 123.58 L61.74 123.54 L62.64 123.35 L63.54 123.21 L64.44 123.53 L65.34 123 L66.24 123.32 L67.14 123.68 L68.05 123.61 L68.95 123.53 L69.85 123.15 L70.75 123.32 L71.65 123.36 L72.55 123.52 L73.45 123.31 L74.35 123.58 L75.25 123.83 L76.15 123.08 L77.05 123.55 L77.95 123.68 L78.86 123.29 L79.76 123.39 L80.66 123.87 L81.56 122.94 L82.46 123.44 L83.36 123.06 L84.26 123.68 L85.16 123.84 L86.06 123.42 L86.96 123 L87.86 123.47 L88.76 123.44 L89.67 123.62 L90.57 123.41 L91.47 123.54 L92.37 123.73 L93.27 123.42 L94.17 123.31 L95.07 123.85 L95.97 123.11 L96.87 123.58 L97.77 123.29 L98.67 123.66 L99.57 123.02 L100.48 123.88 L101.38 123.26 L102.28 122.96 L103.18 123.17 L104.08 123.3 L104.98 122.91 L105.88 123.32 L106.78 123.32 L107.68 123.6 L108.58 123.25 L109.48 123.17 L110.38 123.12 L111.29 123.64 L112.19 123.84 L113.09 123.43 L113.99 123.12 L114.89 123.7 L115.79 123.29 L116.69 123.11 L117.59 123.03 L118.49 123.68 L119.39 123.71 L120.29 123.53 L121.19 123.37 L122.1 123.46 L123 123.13 L123.9 123.86 L124.8 123.25 L125.7 123.54 L126.6 123.72 L127.5 123.4" fill="none" stroke="#0000f8" stroke-width="3.3" stroke-linejoin="round"/>
<path d="M127.5 59.62 L128.4 59.27 L129.3 59.09 L130.21 59.35 L131.11 58.93 L132.01 59.63 L132.91 59.15 L133.81 59.65 L134.72 59.07 L135.62 59.18 L136.52 59.05 L137.42 59.23 L138.32 58.99 L139.23 58.8 L140.13 59.52 L141.03 59.08 L141.93 59.04 L142.83 59.1 L143.74 59.28 L144.64 59.23 L145.54 59.44 L146.44 59.46 L147.34 59.16 L148.25 59.73 L149.15 59.65 L150.05 58.86 L150.95 59.63 L151.85 59.71 L152.76 59.58 L153.66 58.94 L154.56 59.63 L155.46 59.43 L156.36 58.81 L157.27 58.81 L158.17 59.75 L159.07 59.46 L159.97 59.05 L160.87 58.9 L161.78 58.94 L162.68 59.03 L163.58 59.58 L164.48 59.15 L165.38 58.95 L166.29 59.7 L167.19 59.59 L168.09 58.97 L168.99 59.69 L169.89 59.41 L170.8 59.58 L171.7 59.47 L172.6 59.69 L173.5 59.59 L174.4 59.64 L175.31 59 L176.21 59.49 L177.11 59.33 L178.01 59.54 L178.91 59.24 L179.82 59.68 L180.72 59.36 L181.62 59.06 L182.52 59.03 L183.42 58.94 L184.33 59.29 L185.23 58.86 L186.13 59.27 L187.03 58.94 L187.93 59.29 L188.84 59.3 L189.74 59.34 L190.64 59.66 L191.54 58.81 L192.44 59.64 L193.35 59.27 L194.25 59.36 L195.15 59.47 L196.05 59.64 L196.95 59.17 L197.86 59.22 L198.76 59.76 L199.66 58.88 L200.56 59.44 L201.46 59.44 L202.37 58.83 L203.27 59.41 L204.17 59.48 L205.07 59.73 L205.97 59.13 L206.88 59.78 L207.78 59.31 L208.68 59.28 L209.58 59.7 L210.48 58.83 L211.39 59.52 L212.29 59.43 L213.19 59.14 L214.09 59.66 L214.99 59.17 L215.9 59.27 L216.8 59.33 L217.7 59.57 L218.6 59.01 L219.51 59.24 L220.41 59.22 L221.31 59.35 L222.21 59.63 L223.11 59.09 L224.02 59.63 L224.92 59.2 L225.82 59.3 L226.72 59.07 L227.62 59.31 L228.53 59.77 L229.43 59.45 L230.33 59.59 L231.23 59.13 L232.13 59.12 L233.04 59.1 L233.94 59.39 L234.84 59.43 L235.74 59.58 L236.64 58.84 L237.55 59.52 L238.45 59.69 L239.35 59.35 L240.25 58.85 L241.15 59.1 L242.06 58.81 L242.96 58.99 L243.86 59.72 L244.76 59.41 L245.66 59.46 L246.57 59.59 L247.47 59.71 L248.37 59.41 L249.27 59.42 L250.17 59.43 L251.08 59.5 L251.98 59.4 L252.88 59.48 L253.78 59.01 L254.68 59.47 L255.59 59.26 L256.49 59.56 L257.39 58.9 L258.29 58.98 L259.19 58.84 L260.1 59.57 L261 59.71 L261.9 59.46 L262.8 59.17 L263.7 59.62 L264.61 59.59 L265.51 59.36 L266.41 59.06 L267.31 59.1 L268.21 59.22 L269.12 59.12 L270.02 59.23 L270.92 59.44 L271.82 59.73 L272.72 58.85 L273.63 59.37 L274.53 58.84 L275.43 58.92 L276.33 59.61 L277.23 59.38 L278.14 59.72 L279.04 59.25 L279.94 58.81 L280.84 59.19 L281.74 59.39 L282.65 59.74 L283.55 59.78 L284.45 59.28 L285.35 59.21 L286.25 58.9 L287.16 59.44 L288.06 59.01 L288.96 58.95 L289.86 58.82 L290.76 58.8 L291.67 59.48 L292.57 58.92 L293.47 59.77 L294.37 58.89 L295.27 59.67 L296.18 58.93 L297.08 58.82 L297.98 59.52 L298.88 59.04 L299.78 59.53 L300.69 58.99 L301.59 58.85 L302.49 59.57 L303.39 59.51 L304.29 59.66 L305.2 59.53 L306.1 58.88 L307 59.3" fill="none" stroke="#0000f8" stroke-width="3.3" stroke-linejoin="round"/>
<line x1="205.5" y1="116.2" x2="205.5" y2="181.1" stroke="#ffb0b0" stroke-width="1"/>
<path d="M22 181.23 L22.9 181.31 L23.81 181.06 L24.71 181.53 L25.62 180.85 L26.52 181.56 L27.42 181.32 L28.33 180.61 L29.23 180.61 L30.14 181.25 L31.04 181.42 L31.94 180.68 L32.85 180.91 L33.75 181.33 L34.66 180.77 L35.56 181.46 L36.46 181.09 L37.37 180.66 L38.27 180.97 L39.17 181.17 L40.08 181.04 L40.98 181.28 L41.89 180.74 L42.79 181.4 L43.69 180.96 L44.6 181.24 L45.5 181.23 L46.41 181.02 L47.31 180.99 L48.21 181.39 L49.12 181.54 L50.02 181.38 L50.93 181.17 L51.83 180.89 L52.73 180.66 L53.64 181.57 L54.54 181.3 L55.45 181.43 L56.35 180.93 L57.25 181.21 L58.16 181.58 L59.06 181.43 L59.97 181.2 L60.87 180.91 L61.77 181.03 L62.68 181.49 L63.58 180.98 L64.49 181.28 L65.39 181.2 L66.29 181.5 L67.2 181.41 L68.1 180.88 L69 180.6 L69.91 180.86 L70.81 181.02 L71.72 181.19 L72.62 181.42 L73.52 181.49 L74.43 180.64 L75.33 181.43 L76.24 181.41 L77.14 181.47 L78.04 181.17 L78.95 180.87 L79.85 181.45 L80.76 181.41 L81.66 181.28 L82.56 181.51 L83.47 180.95 L84.37 180.69 L85.28 181.15 L86.18 181.4 L87.08 180.8 L87.99 181.35 L88.89 181.53 L89.8 180.83 L90.7 181.21 L91.6 181.28 L92.51 181.07 L93.41 180.81 L94.32 180.85 L95.22 181.35 L96.12 181.39 L97.03 181.06 L97.93 180.69 L98.83 181.41 L99.74 181.37 L100.64 180.83 L101.55 181.18 L102.45 181.5 L103.35 181.49 L104.26 181.12 L105.16 181.08 L106.07 181.19 L106.97 180.79 L107.87 180.79 L108.78 180.78 L109.68 181.3 L110.59 180.96 L111.49 181.16 L112.39 181 L113.3 181.12 L114.2 180.75 L115.11 180.64 L116.01 181.6 L116.91 180.97 L117.82 180.71 L118.72 181.23 L119.63 181.39 L120.53 180.76 L121.43 181.2 L122.34 180.94 L123.24 181.12 L124.15 180.62 L125.05 180.63 L125.95 181.59 L126.86 181.47 L127.76 181.09 L128.67 181.17 L129.57 180.86 L130.47 181.38 L131.38 181.03 L132.28 181.55 L133.18 181.37 L134.09 181.42 L134.99 181.56 L135.9 180.85 L136.8 180.64 L137.7 180.8 L138.61 180.78 L139.51 180.68 L140.42 180.65 L141.32 181.16 L142.22 181.47 L143.13 181.06 L144.03 181.55 L144.94 181.51 L145.84 180.66 L146.74 181.2 L147.65 181 L148.55 180.72 L149.46 181.56 L150.36 180.86 L151.26 181.16 L152.17 181.24 L153.07 181.56 L153.98 181.27 L154.88 180.99 L155.78 181.05 L156.69 180.76 L157.59 181.57 L158.5 181.59 L159.4 180.82 L160.3 180.64 L161.21 180.86 L162.11 180.95 L163.01 181.5 L163.92 181.5 L164.82 181.44 L165.73 180.65 L166.63 181.39 L167.53 181.31 L168.44 181.25 L169.34 181.59 L170.25 180.66 L171.15 180.74 L172.05 181.35 L172.96 181.54 L173.86 181.28 L174.77 180.9 L175.67 181.19 L176.57 181.36 L177.48 180.71 L178.38 180.92 L179.29 180.86 L180.19 180.72 L181.09 181.08 L182 180.77 L182.9 180.84 L183.81 180.74 L184.71 181.28 L185.61 180.61 L186.52 181.32 L187.42 180.8 L188.33 180.64 L189.23 181.53 L190.13 180.82 L191.04 181.53 L191.94 181.47 L192.84 181.49 L193.75 180.74 L194.65 181.05 L195.56 180.7 L196.46 181.53 L197.36 181.44 L198.27 181.23 L199.17 181.05 L200.08 180.94 L200.98 181.42 L201.88 181.08 L202.79 181.23 L203.69 180.74 L204.6 180.82 L205.5 181.1" fill="none" stroke="#f81010" stroke-width="3.3" stroke-linejoin="round"/>
<path d="M205.5 115.76 L206.41 116.41 L207.31 116.25 L208.22 115.84 L209.12 116.57 L210.03 115.97 L210.94 116.11 L211.84 115.86 L212.75 115.97 L213.66 116.54 L214.56 116.03 L215.47 115.87 L216.38 116.19 L217.28 116.02 L218.19 116.6 L219.09 115.81 L220 116.68 L220.91 115.76 L221.81 116.6 L222.72 116.37 L223.62 115.91 L224.53 116.18 L225.44 115.99 L226.34 115.96 L227.25 115.9 L228.16 116.06 L229.06 116.69 L229.97 116.7 L230.88 116.63 L231.78 115.8 L232.69 115.99 L233.59 116.6 L234.5 115.76 L235.41 116.43 L236.31 115.99 L237.22 116.68 L238.12 115.72 L239.03 116.51 L239.94 116.04 L240.84 115.84 L241.75 115.7 L242.66 116.53 L243.56 116.23 L244.47 115.89 L245.38 116.14 L246.28 116.61 L247.19 115.92 L248.09 116.27 L249 115.84 L249.91 115.88 L250.81 116.47 L251.72 116.41 L252.62 115.9 L253.53 115.78 L254.44 115.79 L255.34 116.31 L256.25 116.2 L257.16 115.97 L258.06 115.91 L258.97 116.31 L259.88 116.41 L260.78 116.51 L261.69 116.28 L262.59 115.9 L263.5 115.77 L264.41 116.43 L265.31 116.11 L266.22 116.42 L267.12 115.76 L268.03 116.51 L268.94 116.04 L269.84 116.54 L270.75 116.56 L271.66 116.19 L272.56 115.72 L273.47 116.61 L274.38 116.18 L275.28 116.57 L276.19 115.97 L277.09 115.89 L278 116.53 L278.91 116.07 L279.81 115.86 L280.72 116.07 L281.62 116.29 L282.53 115.7 L283.44 116.22 L284.34 116.15 L285.25 116.22 L286.16 115.82 L287.06 116.41 L287.97 116.52 L288.88 116.57 L289.78 116.02 L290.69 116.41 L291.59 116.08 L292.5 116.45 L293.41 115.76 L294.31 116.57 L295.22 116.65 L296.12 116.19 L297.03 116.21 L297.94 116.23 L298.84 116.24 L299.75 115.72 L300.66 116.67 L301.56 115.92 L302.47 115.88 L303.38 115.8 L304.28 115.95 L305.19 116.52 L306.09 115.73 L307 116.2" fill="none" stroke="#f81010" stroke-width="3.3" stroke-linejoin="round"/>
<path d="M0.6 41.9 h3.5 l1.8 2.6 l-1.8 2.6 h-3.5 z" fill="#ffffff" stroke="#30c030" stroke-width="0.9"/>
<text transform="translate(2.5 46.2) scale(0.25)" font-size="18.4" fill="#30c030" font-weight="bold" text-anchor="middle">3</text>
<text transform="translate(7.2 46.3) scale(0.25)" font-size="18" fill="#1a1a1a" font-weight="bold">SENSE</text>
<path d="M0.6 120.8 h3.5 l1.8 2.6 l-1.8 2.6 h-3.5 z" fill="#2020f0" stroke="#2020f0" stroke-width="0.9"/>
<text transform="translate(2.5 125.1) scale(0.25)" font-size="18.4" fill="#ffffff" font-weight="bold" text-anchor="middle">1</text>
<text transform="translate(7.2 125.2) scale(0.25)" font-size="18" fill="#1a1a1a" font-weight="bold">VDD</text>
<path d="M0.6 178.5 h3.5 l1.8 2.6 l-1.8 2.6 h-3.5 z" fill="#ffffff" stroke="#f02020" stroke-width="0.9"/>
<text transform="translate(2.5 182.8) scale(0.25)" font-size="18.4" fill="#f02020" font-weight="bold" text-anchor="middle">2</text>
<text transform="translate(7.2 182.9) scale(0.25)" font-size="18" fill="#1a1a1a" font-weight="bold">RESET</text>
<rect x="6.5" y="202.6" width="166" height="5.6" rx="1" fill="#ffffff" stroke="#9a9aaa" stroke-width="0.8"/>
<ellipse cx="11.8" cy="205.4" rx="3.7" ry="2.2" fill="#0020f0"/>
<text transform="translate(11.8 207) scale(0.25)" font-size="16" fill="#fff" font-weight="bold" text-anchor="middle">1</text>
<text transform="translate(20.6 207.3) scale(0.25)" font-size="20" fill="#0020f0" font-weight="bold">1.00 V</text>
<ellipse cx="53.3" cy="205.4" rx="3.7" ry="2.2" fill="#f01010"/>
<text transform="translate(53.3 207) scale(0.25)" font-size="16" fill="#fff" font-weight="bold" text-anchor="middle">2</text>
<text transform="translate(62.1 207.3) scale(0.25)" font-size="20" fill="#f01010" font-weight="bold">1.00 V</text>
<ellipse cx="95.3" cy="205.4" rx="3.7" ry="2.2" fill="#50e850"/>
<text transform="translate(95.3 207) scale(0.25)" font-size="16" fill="#fff" font-weight="bold" text-anchor="middle">3</text>
<text transform="translate(104.1 207.3) scale(0.25)" font-size="20" fill="#60e860" font-weight="bold">1.00 V</text>
<rect x="175.6" y="202.6" width="44" height="10.6" rx="1.2" fill="#ffffff" stroke="#9a9a9a" stroke-width="0.8"/>
<text transform="translate(177 207) scale(0.25)" font-size="20" fill="#222" font-weight="bold">4.00ms</text>
<rect x="177" y="208.3" width="2.2" height="3.1" fill="#3a8cf0"/>
<text transform="translate(179.6 211.6) scale(0.25)" font-size="18.4" fill="#3a70f0">+&#9660;4.000000ms</text>
<rect x="222" y="202.6" width="32" height="10.6" rx="1.2" fill="#ffffff" stroke="#9a9a9a" stroke-width="0.8"/>
<text transform="translate(223.7 207) scale(0.25)" font-size="20.4" fill="#222" font-weight="bold">2.50MS/s</text>
<text transform="translate(223.7 211.6) scale(0.25)" font-size="20.4" fill="#222" font-weight="bold">100k points</text>
<rect x="256.8" y="202.6" width="52" height="11.2" rx="1.2" fill="#ffffff" stroke="#9a9a9a" stroke-width="0.8"/>
<ellipse cx="269.3" cy="205.4" rx="3.6" ry="2.2" fill="#2030f0"/>
<text transform="translate(269.3 207) scale(0.25)" font-size="16" fill="#fff" font-weight="bold" text-anchor="middle">1</text>
<path d="M276.6 207.3 l1.2 0 l1.5 -3.2" stroke="#222" stroke-width="0.8" fill="none"/>
<text transform="translate(305.8 207.4) scale(0.25)" font-size="20" fill="#555" font-weight="bold" text-anchor="end">1.64 V</text>
<rect x="274" y="220.2" width="35" height="10.4" rx="1.2" fill="#ffffff" stroke="#9a9a9a" stroke-width="0.8"/>
<text transform="translate(278.6 224.9) scale(0.25)" font-size="18" fill="#2a2a2a" font-weight="bold" letter-spacing="0.8">6 Sep&#160;&#160;2018</text>
<text transform="translate(275.3 229.9) scale(0.25)" font-size="18" fill="#2a2a2a" font-weight="bold" letter-spacing="1">01:03:01</text>
</svg><svg class="scope" style="left:100px;top:500px" width="307.92" height="231.8" viewBox="0 0 307 231.8" preserveAspectRatio="none" font-family="Liberation Sans">
<rect x="0" y="6" width="307" height="225.8" fill="#fdf8fd"/><rect x="0" y="6" width="0.9" height="225.8" fill="#efeff1"/>
<rect x="6.4" y="5.5" width="300.6" height="195.7" fill="#fefefe"/>
<path d="M11.92 25.07h1 M17.94 25.07h1 M23.96 25.07h1 M29.98 25.07h1 M36 25.07h1 M42.02 25.07h1 M48.04 25.07h1 M54.06 25.07h1 M60.08 25.07h1 M66.1 25.07h1 M72.12 25.07h1 M78.14 25.07h1 M84.16 25.07h1 M90.18 25.07h1 M96.2 25.07h1 M102.22 25.07h1 M108.24 25.07h1 M114.26 25.07h1 M120.28 25.07h1 M126.3 25.07h1 M132.32 25.07h1 M138.34 25.07h1 M144.36 25.07h1 M150.38 25.07h1 M156.4 25.07h1 M162.42 25.07h1 M168.44 25.07h1 M174.46 25.07h1 M180.48 25.07h1 M186.5 25.07h1 M192.52 25.07h1 M198.54 25.07h1 M204.56 25.07h1 M210.58 25.07h1 M216.6 25.07h1 M222.62 25.07h1 M228.64 25.07h1 M234.66 25.07h1 M240.68 25.07h1 M246.7 25.07h1 M252.72 25.07h1 M258.74 25.07h1 M264.76 25.07h1 M270.78 25.07h1 M276.8 25.07h1 M282.82 25.07h1 M288.84 25.07h1 M294.86 25.07h1 M300.88 25.07h1 M11.92 44.64h1 M17.94 44.64h1 M23.96 44.64h1 M29.98 44.64h1 M36 44.64h1 M42.02 44.64h1 M48.04 44.64h1 M54.06 44.64h1 M60.08 44.64h1 M66.1 44.64h1 M72.12 44.64h1 M78.14 44.64h1 M84.16 44.64h1 M90.18 44.64h1 M96.2 44.64h1 M102.22 44.64h1 M108.24 44.64h1 M114.26 44.64h1 M120.28 44.64h1 M126.3 44.64h1 M132.32 44.64h1 M138.34 44.64h1 M144.36 44.64h1 M150.38 44.64h1 M156.4 44.64h1 M162.42 44.64h1 M168.44 44.64h1 M174.46 44.64h1 M180.48 44.64h1 M186.5 44.64h1 M192.52 44.64h1 M198.54 44.64h1 M204.56 44.64h1 M210.58 44.64h1 M216.6 44.64h1 M222.62 44.64h1 M228.64 44.64h1 M234.66 44.64h1 M240.68 44.64h1 M246.7 44.64h1 M252.72 44.64h1 M258.74 44.64h1 M264.76 44.64h1 M270.78 44.64h1 M276.8 44.64h1 M282.82 44.64h1 M288.84 44.64h1 M294.86 44.64h1 M300.88 44.64h1 M11.92 64.21h1 M17.94 64.21h1 M23.96 64.21h1 M29.98 64.21h1 M36 64.21h1 M42.02 64.21h1 M48.04 64.21h1 M54.06 64.21h1 M60.08 64.21h1 M66.1 64.21h1 M72.12 64.21h1 M78.14 64.21h1 M84.16 64.21h1 M90.18 64.21h1 M96.2 64.21h1 M102.22 64.21h1 M108.24 64.21h1 M114.26 64.21h1 M120.28 64.21h1 M126.3 64.21h1 M132.32 64.21h1 M138.34 64.21h1 M144.36 64.21h1 M150.38 64.21h1 M156.4 64.21h1 M162.42 64.21h1 M168.44 64.21h1 M174.46 64.21h1 M180.48 64.21h1 M186.5 64.21h1 M192.52 64.21h1 M198.54 64.21h1 M204.56 64.21h1 M210.58 64.21h1 M216.6 64.21h1 M222.62 64.21h1 M228.64 64.21h1 M234.66 64.21h1 M240.68 64.21h1 M246.7 64.21h1 M252.72 64.21h1 M258.74 64.21h1 M264.76 64.21h1 M270.78 64.21h1 M276.8 64.21h1 M282.82 64.21h1 M288.84 64.21h1 M294.86 64.21h1 M300.88 64.21h1 M11.92 83.78h1 M17.94 83.78h1 M23.96 83.78h1 M29.98 83.78h1 M36 83.78h1 M42.02 83.78h1 M48.04 83.78h1 M54.06 83.78h1 M60.08 83.78h1 M66.1 83.78h1 M72.12 83.78h1 M78.14 83.78h1 M84.16 83.78h1 M90.18 83.78h1 M96.2 83.78h1 M102.22 83.78h1 M108.24 83.78h1 M114.26 83.78h1 M120.28 83.78h1 M126.3 83.78h1 M132.32 83.78h1 M138.34 83.78h1 M144.36 83.78h1 M150.38 83.78h1 M156.4 83.78h1 M162.42 83.78h1 M168.44 83.78h1 M174.46 83.78h1 M180.48 83.78h1 M186.5 83.78h1 M192.52 83.78h1 M198.54 83.78h1 M204.56 83.78h1 M210.58 83.78h1 M216.6 83.78h1 M222.62 83.78h1 M228.64 83.78h1 M234.66 83.78h1 M240.68 83.78h1 M246.7 83.78h1 M252.72 83.78h1 M258.74 83.78h1 M264.76 83.78h1 M270.78 83.78h1 M276.8 83.78h1 M282.82 83.78h1 M288.84 83.78h1 M294.86 83.78h1 M300.88 83.78h1 M11.92 122.92h1 M17.94 122.92h1 M23.96 122.92h1 M29.98 122.92h1 M36 122.92h1 M42.02 122.92h1 M48.04 122.92h1 M54.06 122.92h1 M60.08 122.92h1 M66.1 122.92h1 M72.12 122.92h1 M78.14 122.92h1 M84.16 122.92h1 M90.18 122.92h1 M96.2 122.92h1 M102.22 122.92h1 M108.24 122.92h1 M114.26 122.92h1 M120.28 122.92h1 M126.3 122.92h1 M132.32 122.92h1 M138.34 122.92h1 M144.36 122.92h1 M150.38 122.92h1 M156.4 122.92h1 M162.42 122.92h1 M168.44 122.92h1 M174.46 122.92h1 M180.48 122.92h1 M186.5 122.92h1 M192.52 122.92h1 M198.54 122.92h1 M204.56 122.92h1 M210.58 122.92h1 M216.6 122.92h1 M222.62 122.92h1 M228.64 122.92h1 M234.66 122.92h1 M240.68 122.92h1 M246.7 122.92h1 M252.72 122.92h1 M258.74 122.92h1 M264.76 122.92h1 M270.78 122.92h1 M276.8 122.92h1 M282.82 122.92h1 M288.84 122.92h1 M294.86 122.92h1 M300.88 122.92h1 M11.92 142.49h1 M17.94 142.49h1 M23.96 142.49h1 M29.98 142.49h1 M36 142.49h1 M42.02 142.49h1 M48.04 142.49h1 M54.06 142.49h1 M60.08 142.49h1 M66.1 142.49h1 M72.12 142.49h1 M78.14 142.49h1 M84.16 142.49h1 M90.18 142.49h1 M96.2 142.49h1 M102.22 142.49h1 M108.24 142.49h1 M114.26 142.49h1 M120.28 142.49h1 M126.3 142.49h1 M132.32 142.49h1 M138.34 142.49h1 M144.36 142.49h1 M150.38 142.49h1 M156.4 142.49h1 M162.42 142.49h1 M168.44 142.49h1 M174.46 142.49h1 M180.48 142.49h1 M186.5 142.49h1 M192.52 142.49h1 M198.54 142.49h1 M204.56 142.49h1 M210.58 142.49h1 M216.6 142.49h1 M222.62 142.49h1 M228.64 142.49h1 M234.66 142.49h1 M240.68 142.49h1 M246.7 142.49h1 M252.72 142.49h1 M258.74 142.49h1 M264.76 142.49h1 M270.78 142.49h1 M276.8 142.49h1 M282.82 142.49h1 M288.84 142.49h1 M294.86 142.49h1 M300.88 142.49h1 M11.92 162.06h1 M17.94 162.06h1 M23.96 162.06h1 M29.98 162.06h1 M36 162.06h1 M42.02 162.06h1 M48.04 162.06h1 M54.06 162.06h1 M60.08 162.06h1 M66.1 162.06h1 M72.12 162.06h1 M78.14 162.06h1 M84.16 162.06h1 M90.18 162.06h1 M96.2 162.06h1 M102.22 162.06h1 M108.24 162.06h1 M114.26 162.06h1 M120.28 162.06h1 M126.3 162.06h1 M132.32 162.06h1 M138.34 162.06h1 M144.36 162.06h1 M150.38 162.06h1 M156.4 162.06h1 M162.42 162.06h1 M168.44 162.06h1 M174.46 162.06h1 M180.48 162.06h1 M186.5 162.06h1 M192.52 162.06h1 M198.54 162.06h1 M204.56 162.06h1 M210.58 162.06h1 M216.6 162.06h1 M222.62 162.06h1 M228.64 162.06h1 M234.66 162.06h1 M240.68 162.06h1 M246.7 162.06h1 M252.72 162.06h1 M258.74 162.06h1 M264.76 162.06h1 M270.78 162.06h1 M276.8 162.06h1 M282.82 162.06h1 M288.84 162.06h1 M294.86 162.06h1 M300.88 162.06h1 M11.92 181.63h1 M17.94 181.63h1 M23.96 181.63h1 M29.98 181.63h1 M36 181.63h1 M42.02 181.63h1 M48.04 181.63h1 M54.06 181.63h1 M60.08 181.63h1 M66.1 181.63h1 M72.12 181.63h1 M78.14 181.63h1 M84.16 181.63h1 M90.18 181.63h1 M96.2 181.63h1 M102.22 181.63h1 M108.24 181.63h1 M114.26 181.63h1 M120.28 181.63h1 M126.3 181.63h1 M132.32 181.63h1 M138.34 181.63h1 M144.36 181.63h1 M150.38 181.63h1 M156.4 181.63h1 M162.42 181.63h1 M168.44 181.63h1 M174.46 181.63h1 M180.48 181.63h1 M186.5 181.63h1 M192.52 181.63h1 M198.54 181.63h1 M204.56 181.63h1 M210.58 181.63h1 M216.6 181.63h1 M222.62 181.63h1 M228.64 181.63h1 M234.66 181.63h1 M240.68 181.63h1 M246.7 181.63h1 M252.72 181.63h1 M258.74 181.63h1 M264.76 181.63h1 M270.78 181.63h1 M276.8 181.63h1 M282.82 181.63h1 M288.84 181.63h1 M294.86 181.63h1 M300.88 181.63h1 M36.5 8.91v1 M36.5 12.83v1 M36.5 16.74v1 M36.5 20.66v1 M36.5 24.57v1 M36.5 28.48v1 M36.5 32.4v1 M36.5 36.31v1 M36.5 40.23v1 M36.5 44.14v1 M36.5 48.05v1 M36.5 51.97v1 M36.5 55.88v1 M36.5 59.8v1 M36.5 63.71v1 M36.5 67.62v1 M36.5 71.54v1 M36.5 75.45v1 M36.5 79.37v1 M36.5 83.28v1 M36.5 87.19v1 M36.5 91.11v1 M36.5 95.02v1 M36.5 98.94v1 M36.5 102.85v1 M36.5 106.76v1 M36.5 110.68v1 M36.5 114.59v1 M36.5 118.51v1 M36.5 122.42v1 M36.5 126.33v1 M36.5 130.25v1 M36.5 134.16v1 M36.5 138.08v1 M36.5 141.99v1 M36.5 145.9v1 M36.5 149.82v1 M36.5 153.73v1 M36.5 157.65v1 M36.5 161.56v1 M36.5 165.47v1 M36.5 169.39v1 M36.5 173.3v1 M36.5 177.22v1 M36.5 181.13v1 M36.5 185.04v1 M36.5 188.96v1 M36.5 192.87v1 M36.5 196.79v1 M66.6 8.91v1 M66.6 12.83v1 M66.6 16.74v1 M66.6 20.66v1 M66.6 24.57v1 M66.6 28.48v1 M66.6 32.4v1 M66.6 36.31v1 M66.6 40.23v1 M66.6 44.14v1 M66.6 48.05v1 M66.6 51.97v1 M66.6 55.88v1 M66.6 59.8v1 M66.6 63.71v1 M66.6 67.62v1 M66.6 71.54v1 M66.6 75.45v1 M66.6 79.37v1 M66.6 83.28v1 M66.6 87.19v1 M66.6 91.11v1 M66.6 95.02v1 M66.6 98.94v1 M66.6 102.85v1 M66.6 106.76v1 M66.6 110.68v1 M66.6 114.59v1 M66.6 118.51v1 M66.6 122.42v1 M66.6 126.33v1 M66.6 130.25v1 M66.6 134.16v1 M66.6 138.08v1 M66.6 141.99v1 M66.6 145.9v1 M66.6 149.82v1 M66.6 153.73v1 M66.6 157.65v1 M66.6 161.56v1 M66.6 165.47v1 M66.6 169.39v1 M66.6 173.3v1 M66.6 177.22v1 M66.6 181.13v1 M66.6 185.04v1 M66.6 188.96v1 M66.6 192.87v1 M66.6 196.79v1 M96.7 8.91v1 M96.7 12.83v1 M96.7 16.74v1 M96.7 20.66v1 M96.7 24.57v1 M96.7 28.48v1 M96.7 32.4v1 M96.7 36.31v1 M96.7 40.23v1 M96.7 44.14v1 M96.7 48.05v1 M96.7 51.97v1 M96.7 55.88v1 M96.7 59.8v1 M96.7 63.71v1 M96.7 67.62v1 M96.7 71.54v1 M96.7 75.45v1 M96.7 79.37v1 M96.7 83.28v1 M96.7 87.19v1 M96.7 91.11v1 M96.7 95.02v1 M96.7 98.94v1 M96.7 102.85v1 M96.7 106.76v1 M96.7 110.68v1 M96.7 114.59v1 M96.7 118.51v1 M96.7 122.42v1 M96.7 126.33v1 M96.7 130.25v1 M96.7 134.16v1 M96.7 138.08v1 M96.7 141.99v1 M96.7 145.9v1 M96.7 149.82v1 M96.7 153.73v1 M96.7 157.65v1 M96.7 161.56v1 M96.7 165.47v1 M96.7 169.39v1 M96.7 173.3v1 M96.7 177.22v1 M96.7 181.13v1 M96.7 185.04v1 M96.7 188.96v1 M96.7 192.87v1 M96.7 196.79v1 M126.8 8.91v1 M126.8 12.83v1 M126.8 16.74v1 M126.8 20.66v1 M126.8 24.57v1 M126.8 28.48v1 M126.8 32.4v1 M126.8 36.31v1 M126.8 40.23v1 M126.8 44.14v1 M126.8 48.05v1 M126.8 51.97v1 M126.8 55.88v1 M126.8 59.8v1 M126.8 63.71v1 M126.8 67.62v1 M126.8 71.54v1 M126.8 75.45v1 M126.8 79.37v1 M126.8 83.28v1 M126.8 87.19v1 M126.8 91.11v1 M126.8 95.02v1 M126.8 98.94v1 M126.8 102.85v1 M126.8 106.76v1 M126.8 110.68v1 M126.8 114.59v1 M126.8 118.51v1 M126.8 122.42v1 M126.8 126.33v1 M126.8 130.25v1 M126.8 134.16v1 M126.8 138.08v1 M126.8 141.99v1 M126.8 145.9v1 M126.8 149.82v1 M126.8 153.73v1 M126.8 157.65v1 M126.8 161.56v1 M126.8 165.47v1 M126.8 169.39v1 M126.8 173.3v1 M126.8 177.22v1 M126.8 181.13v1 M126.8 185.04v1 M126.8 188.96v1 M126.8 192.87v1 M126.8 196.79v1 M187 8.91v1 M187 12.83v1 M187 16.74v1 M187 20.66v1 M187 24.57v1 M187 28.48v1 M187 32.4v1 M187 36.31v1 M187 40.23v1 M187 44.14v1 M187 48.05v1 M187 51.97v1 M187 55.88v1 M187 59.8v1 M187 63.71v1 M187 67.62v1 M187 71.54v1 M187 75.45v1 M187 79.37v1 M187 83.28v1 M187 87.19v1 M187 91.11v1 M187 95.02v1 M187 98.94v1 M187 102.85v1 M187 106.76v1 M187 110.68v1 M187 114.59v1 M187 118.51v1 M187 122.42v1 M187 126.33v1 M187 130.25v1 M187 134.16v1 M187 138.08v1 M187 141.99v1 M187 145.9v1 M187 149.82v1 M187 153.73v1 M187 157.65v1 M187 161.56v1 M187 165.47v1 M187 169.39v1 M187 173.3v1 M187 177.22v1 M187 181.13v1 M187 185.04v1 M187 188.96v1 M187 192.87v1 M187 196.79v1 M217.1 8.91v1 M217.1 12.83v1 M217.1 16.74v1 M217.1 20.66v1 M217.1 24.57v1 M217.1 28.48v1 M217.1 32.4v1 M217.1 36.31v1 M217.1 40.23v1 M217.1 44.14v1 M217.1 48.05v1 M217.1 51.97v1 M217.1 55.88v1 M217.1 59.8v1 M217.1 63.71v1 M217.1 67.62v1 M217.1 71.54v1 M217.1 75.45v1 M217.1 79.37v1 M217.1 83.28v1 M217.1 87.19v1 M217.1 91.11v1 M217.1 95.02v1 M217.1 98.94v1 M217.1 102.85v1 M217.1 106.76v1 M217.1 110.68v1 M217.1 114.59v1 M217.1 118.51v1 M217.1 122.42v1 M217.1 126.33v1 M217.1 130.25v1 M217.1 134.16v1 M217.1 138.08v1 M217.1 141.99v1 M217.1 145.9v1 M217.1 149.82v1 M217.1 153.73v1 M217.1 157.65v1 M217.1 161.56v1 M217.1 165.47v1 M217.1 169.39v1 M217.1 173.3v1 M217.1 177.22v1 M217.1 181.13v1 M217.1 185.04v1 M217.1 188.96v1 M217.1 192.87v1 M217.1 196.79v1 M247.2 8.91v1 M247.2 12.83v1 M247.2 16.74v1 M247.2 20.66v1 M247.2 24.57v1 M247.2 28.48v1 M247.2 32.4v1 M247.2 36.31v1 M247.2 40.23v1 M247.2 44.14v1 M247.2 48.05v1 M247.2 51.97v1 M247.2 55.88v1 M247.2 59.8v1 M247.2 63.71v1 M247.2 67.62v1 M247.2 71.54v1 M247.2 75.45v1 M247.2 79.37v1 M247.2 83.28v1 M247.2 87.19v1 M247.2 91.11v1 M247.2 95.02v1 M247.2 98.94v1 M247.2 102.85v1 M247.2 106.76v1 M247.2 110.68v1 M247.2 114.59v1 M247.2 118.51v1 M247.2 122.42v1 M247.2 126.33v1 M247.2 130.25v1 M247.2 134.16v1 M247.2 138.08v1 M247.2 141.99v1 M247.2 145.9v1 M247.2 149.82v1 M247.2 153.73v1 M247.2 157.65v1 M247.2 161.56v1 M247.2 165.47v1 M247.2 169.39v1 M247.2 173.3v1 M247.2 177.22v1 M247.2 181.13v1 M247.2 185.04v1 M247.2 188.96v1 M247.2 192.87v1 M247.2 196.79v1 M277.3 8.91v1 M277.3 12.83v1 M277.3 16.74v1 M277.3 20.66v1 M277.3 24.57v1 M277.3 28.48v1 M277.3 32.4v1 M277.3 36.31v1 M277.3 40.23v1 M277.3 44.14v1 M277.3 48.05v1 M277.3 51.97v1 M277.3 55.88v1 M277.3 59.8v1 M277.3 63.71v1 M277.3 67.62v1 M277.3 71.54v1 M277.3 75.45v1 M277.3 79.37v1 M277.3 83.28v1 M277.3 87.19v1 M277.3 91.11v1 M277.3 95.02v1 M277.3 98.94v1 M277.3 102.85v1 M277.3 106.76v1 M277.3 110.68v1 M277.3 114.59v1 M277.3 118.51v1 M277.3 122.42v1 M277.3 126.33v1 M277.3 130.25v1 M277.3 134.16v1 M277.3 138.08v1 M277.3 141.99v1 M277.3 145.9v1 M277.3 149.82v1 M277.3 153.73v1 M277.3 157.65v1 M277.3 161.56v1 M277.3 165.47v1 M277.3 169.39v1 M277.3 173.3v1 M277.3 177.22v1 M277.3 181.13v1 M277.3 185.04v1 M277.3 188.96v1 M277.3 192.87v1 M277.3 196.79v1" stroke="#d2d2d2" stroke-width="1" fill="none"/>
<line x1="6.4" y1="103.35" x2="307.4" y2="103.35" stroke="#b0b0b0" stroke-width="0.7"/>
<line x1="156.9" y1="5.5" x2="156.9" y2="201.2" stroke="#b0b0b0" stroke-width="0.7"/>
<path d="M12.42 102.35v2 M18.44 102.35v2 M24.46 102.35v2 M30.48 102.35v2 M36.5 102.35v2 M42.52 102.35v2 M48.54 102.35v2 M54.56 102.35v2 M60.58 102.35v2 M66.6 102.35v2 M72.62 102.35v2 M78.64 102.35v2 M84.66 102.35v2 M90.68 102.35v2 M96.7 102.35v2 M102.72 102.35v2 M108.74 102.35v2 M114.76 102.35v2 M120.78 102.35v2 M126.8 102.35v2 M132.82 102.35v2 M138.84 102.35v2 M144.86 102.35v2 M150.88 102.35v2 M156.9 102.35v2 M162.92 102.35v2 M168.94 102.35v2 M174.96 102.35v2 M180.98 102.35v2 M187 102.35v2 M193.02 102.35v2 M199.04 102.35v2 M205.06 102.35v2 M211.08 102.35v2 M217.1 102.35v2 M223.12 102.35v2 M229.14 102.35v2 M235.16 102.35v2 M241.18 102.35v2 M247.2 102.35v2 M253.22 102.35v2 M259.24 102.35v2 M265.26 102.35v2 M271.28 102.35v2 M277.3 102.35v2 M283.32 102.35v2 M289.34 102.35v2 M295.36 102.35v2 M301.38 102.35v2 M155.9 9.41h2 M155.9 13.33h2 M155.9 17.24h2 M155.9 21.16h2 M155.9 25.07h2 M155.9 28.98h2 M155.9 32.9h2 M155.9 36.81h2 M155.9 40.73h2 M155.9 44.64h2 M155.9 48.55h2 M155.9 52.47h2 M155.9 56.38h2 M155.9 60.3h2 M155.9 64.21h2 M155.9 68.12h2 M155.9 72.04h2 M155.9 75.95h2 M155.9 79.87h2 M155.9 83.78h2 M155.9 87.69h2 M155.9 91.61h2 M155.9 95.52h2 M155.9 99.44h2 M155.9 103.35h2 M155.9 107.26h2 M155.9 111.18h2 M155.9 115.09h2 M155.9 119.01h2 M155.9 122.92h2 M155.9 126.83h2 M155.9 130.75h2 M155.9 134.66h2 M155.9 138.58h2 M155.9 142.49h2 M155.9 146.4h2 M155.9 150.32h2 M155.9 154.23h2 M155.9 158.15h2 M155.9 162.06h2 M155.9 165.97h2 M155.9 169.89h2 M155.9 173.8h2 M155.9 177.72h2 M155.9 181.63h2 M155.9 185.54h2 M155.9 189.46h2 M155.9 193.37h2 M155.9 197.29h2" stroke="#a0a0a0" stroke-width="0.8" fill="none"/>
<path d="M6.4 5.5 V201.2 M6.4 5.5 H307 M6.4 201.2 H307" stroke="#dcc0a4" stroke-width="1" fill="none"/>
<path d="M6.4 9.41h1.6 M6.4 13.33h1.6 M6.4 17.24h1.6 M6.4 21.16h1.6 M6.4 25.07h1.6 M6.4 28.98h1.6 M6.4 32.9h1.6 M6.4 36.81h1.6 M6.4 40.73h1.6 M6.4 44.64h1.6 M6.4 48.55h1.6 M6.4 52.47h1.6 M6.4 56.38h1.6 M6.4 60.3h1.6 M6.4 64.21h1.6 M6.4 68.12h1.6 M6.4 72.04h1.6 M6.4 75.95h1.6 M6.4 79.87h1.6 M6.4 83.78h1.6 M6.4 87.69h1.6 M6.4 91.61h1.6 M6.4 95.52h1.6 M6.4 99.44h1.6 M6.4 103.35h1.6 M6.4 107.26h1.6 M6.4 111.18h1.6 M6.4 115.09h1.6 M6.4 119.01h1.6 M6.4 122.92h1.6 M6.4 126.83h1.6 M6.4 130.75h1.6 M6.4 134.66h1.6 M6.4 138.58h1.6 M6.4 142.49h1.6 M6.4 146.4h1.6 M6.4 150.32h1.6 M6.4 154.23h1.6 M6.4 158.15h1.6 M6.4 162.06h1.6 M6.4 165.97h1.6 M6.4 169.89h1.6 M6.4 173.8h1.6 M6.4 177.72h1.6 M6.4 181.63h1.6 M6.4 185.54h1.6 M6.4 189.46h1.6 M6.4 193.37h1.6 M6.4 197.29h1.6 M12.42 5.5v1.5 M12.42 201.2v-1.5 M18.44 5.5v1.5 M18.44 201.2v-1.5 M24.46 5.5v1.5 M24.46 201.2v-1.5 M30.48 5.5v1.5 M30.48 201.2v-1.5 M36.5 5.5v1.5 M36.5 201.2v-1.5 M42.52 5.5v1.5 M42.52 201.2v-1.5 M48.54 5.5v1.5 M48.54 201.2v-1.5 M54.56 5.5v1.5 M54.56 201.2v-1.5 M60.58 5.5v1.5 M60.58 201.2v-1.5 M66.6 5.5v1.5 M66.6 201.2v-1.5 M72.62 5.5v1.5 M72.62 201.2v-1.5 M78.64 5.5v1.5 M78.64 201.2v-1.5 M84.66 5.5v1.5 M84.66 201.2v-1.5 M90.68 5.5v1.5 M90.68 201.2v-1.5 M96.7 5.5v1.5 M96.7 201.2v-1.5 M102.72 5.5v1.5 M102.72 201.2v-1.5 M108.74 5.5v1.5 M108.74 201.2v-1.5 M114.76 5.5v1.5 M114.76 201.2v-1.5 M120.78 5.5v1.5 M120.78 201.2v-1.5 M126.8 5.5v1.5 M126.8 201.2v-1.5 M132.82 5.5v1.5 M132.82 201.2v-1.5 M138.84 5.5v1.5 M138.84 201.2v-1.5 M144.86 5.5v1.5 M144.86 201.2v-1.5 M150.88 5.5v1.5 M150.88 201.2v-1.5 M156.9 5.5v1.5 M156.9 201.2v-1.5 M162.92 5.5v1.5 M162.92 201.2v-1.5 M168.94 5.5v1.5 M168.94 201.2v-1.5 M174.96 5.5v1.5 M174.96 201.2v-1.5 M180.98 5.5v1.5 M180.98 201.2v-1.5 M187 5.5v1.5 M187 201.2v-1.5 M193.02 5.5v1.5 M193.02 201.2v-1.5 M199.04 5.5v1.5 M199.04 201.2v-1.5 M205.06 5.5v1.5 M205.06 201.2v-1.5 M211.08 5.5v1.5 M211.08 201.2v-1.5 M217.1 5.5v1.5 M217.1 201.2v-1.5 M223.12 5.5v1.5 M223.12 201.2v-1.5 M229.14 5.5v1.5 M229.14 201.2v-1.5 M235.16 5.5v1.5 M235.16 201.2v-1.5 M241.18 5.5v1.5 M241.18 201.2v-1.5 M247.2 5.5v1.5 M247.2 201.2v-1.5 M253.22 5.5v1.5 M253.22 201.2v-1.5 M259.24 5.5v1.5 M259.24 201.2v-1.5 M265.26 5.5v1.5 M265.26 201.2v-1.5 M271.28 5.5v1.5 M271.28 201.2v-1.5 M277.3 5.5v1.5 M277.3 201.2v-1.5 M283.32 5.5v1.5 M283.32 201.2v-1.5 M289.34 5.5v1.5 M289.34 201.2v-1.5 M295.36 5.5v1.5 M295.36 201.2v-1.5 M301.38 5.5v1.5 M301.38 201.2v-1.5" stroke="#d8c0a8" stroke-width="0.7" fill="none"/>
<line x1="0" y1="0.3" x2="307" y2="0.3" stroke="#a8a8a8" stroke-width="0.7"/>
<text transform="translate(0 4.7) scale(0.25)" font-size="25.6" fill="#1a1a1a" font-weight="bold" letter-spacing="-2">Tek</text>
<text transform="translate(10.9 4.8) scale(0.25)" font-size="20.8" fill="#7a7a7a" font-weight="bold">Stop</text>
<rect x="36.3" y="0.5" width="240.4" height="4.8" fill="#fffcfa" stroke="#c8b0a0" stroke-width="0.7"/>
<line x1="84.8" y1="2.4" x2="229.2" y2="2.4" stroke="#60e060" stroke-width="0.9"/>
<path d="M84.8 0.6v4.6 M229.2 0.6v4.6" stroke="#333" stroke-width="0.9"/>
<rect x="155.6" y="1.2" width="2.6" height="2.6" fill="#3a8cf0" rx="0.4"/>
<path d="M155.3 0.4 h3.2 l-1.6 1.6 z M155.3 5.6 h3.2 l-1.6 -1.6 z" fill="#2a6ae0"/>
<rect x="155.3" y="6.6" width="3.2" height="3.6" rx="0.9" fill="#3a8cf0"/><path d="M156 7.5 h1.8 M156.9 7.5 v2.2" stroke="#fff" stroke-width="0.5"/>
<path d="M306.8 66.8 l-2.2 1.4 l2.2 1.4 z" fill="#40e040"/>
<path d="M6.4 12.7 L7.3 13.3 L8.2 12.8 L9.1 12.62 L10 13.2 L10.9 13.18 L11.8 13.12 L12.7 13.3 L13.6 12.7 L14.5 13.47 L15.4 13.32 L16.3 12.65 L17.2 12.72 L18.1 13.09 L19 13.1 L19.9 12.88 L20.8 12.72 L21.7 13.01 L22.6 12.74 L23.5 13.19 L24.4 13.46 L25.3 12.75 L26.2 13.17 L27.1 13.35 L28 12.76 L28.9 13.43 L29.8 13.54 L30.7 12.99 L31.6 13.02 L32.5 13.44 L33.4 13.13 L34.3 13 L35.2 13.54 L36.1 13.38 L37 12.94 L37.9 12.84 L38.8 12.94 L39.7 13.04 L40.6 13.58 L41.5 13.4 L42.4 13.51 L43.3 13.42 L44.2 13.45 L45.1 12.65 L46 13.12 L46.9 13.56 L47.8 13.53 L48.7 12.85 L49.6 13.02 L50.5 13.23 L51.4 12.96 L52.3 13.13 L53.2 12.67 L54.1 13.03 L55 13.1 L55.9 12.62 L56.8 12.74 L57.7 13.57 L58.6 13.38 L59.5 13.54 L60.4 13.23 L61.3 13.41 L62.2 13.48 L63.1 13.48 L64 12.63 L64.9 13.24 L65.8 12.87 L66.7 13.28 L67.6 12.87 L68.5 13.14 L69.4 13.52 L70.3 13.22 L71.2 12.85 L72.1 13.12 L73 13.03 L73.9 13.55 L74.8 12.89 L75.7 12.91 L76.6 13.25 L77.5 12.72 L78.4 13.19 L79.3 13.56 L80.2 13.11 L81.1 12.87 L82 13.07 L82.9 13.13 L83.8 12.75 L84.7 12.72 L85.6 12.73 L86.5 12.89 L87.4 13.01 L88.3 12.89 L89.2 12.84 L90.1 12.69 L91 13.15 L91.9 13.44 L92.8 13.21 L93.7 13.17 L94.6 13.25 L95.5 12.8 L96.4 13.31 L97.3 13.06 L98.2 13.15 L99.1 13.21 L100 13.07 L100.9 12.91 L101.8 12.84 L102.7 12.82 L103.6 13.11 L104.5 12.98 L105.4 13.19 L106.3 12.61 L107.2 12.95 L108.1 13.46 L109 12.84 L109.9 13.16 L110.8 13.09 L111.7 12.88 L112.6 13.59 L113.5 12.9 L114.4 13.37 L115.3 12.76 L116.2 12.67 L117.1 13.47 L118 13.04 L118.9 12.66 L119.8 12.99 L120.7 13.04 L121.6 13.34 L122.5 12.71 L123.4 12.83 L124.3 13.56 L125.2 13.34 L126.1 12.75 L127 12.94 L127.9 12.95 L128.8 13.28 L129.7 13.22 L130.6 13.45 L131.5 13.42 L132.4 13.12 L133.3 13.34 L134.2 13.34 L135.1 13.36 L136 13.08 L136.9 13.38 L137.8 13.31 L138.7 13.51 L139.6 12.73 L140.5 13.47 L141.4 12.6 L142.3 13.37 L143.2 13.19 L144.1 13.1 L145 13.56 L145.9 13.17 L146.8 13.02 L147.7 13.38 L148.6 13.47 L149.5 13.21 L150.4 12.98 L151.3 13.05 L152.2 13.06 L153.1 13.32 L154 12.89 L154.9 12.99 L155.8 13.16 L156.7 12.98 L157.6 12.92 L158.5 13.39 L159.4 13.45 L160.3 13.1 L161.2 13.04 L162.1 12.78 L163 12.9 L163.9 12.74 L164.8 13.18 L165.7 13.18 L166.6 12.69 L167.5 13.52 L168.4 12.92 L169.3 13.44 L170.2 13.44 L171.1 13.56 L172 12.8 L172.9 13.03 L173.8 13.51 L174.7 12.61 L175.6 12.65 L176.5 13.16 L177.4 13.1 L178.3 13.52 L179.2 13.37 L180.1 13.14 L181 13.6 L181.9 13.12 L182.8 13.12 L183.7 13.29 L184.6 12.99 L185.5 12.96 L186.4 13.19 L187.3 12.95 L188.2 13.55 L189.1 13.28 L190 13.13 L190.9 12.7 L191.8 12.97 L192.7 13 L193.6 13.16 L194.5 13.17 L195.4 13.48 L196.3 13.56 L197.2 13.09 L198.1 13.04 L199 13.22 L199.9 13.6 L200.8 12.94 L201.7 13.13 L202.6 13.42 L203.5 12.77 L204.4 12.92 L205.3 13.58 L206.2 13.43 L207.1 13.11 L208 12.71 L208.9 13.49 L209.8 13.29 L210.7 13.42 L211.6 13.59 L212.5 13.49 L213.4 13.02 L214.3 12.76 L215.2 12.89 L216.1 13.11 L217 13.1 L217.9 12.79 L218.8 12.78 L219.7 13.23 L220.6 13.2 L221.5 12.95 L222.4 13.59 L223.3 13.24 L224.2 12.64 L225.1 13.01 L226 13.39 L226.9 12.91 L227.8 13.29 L228.7 12.6 L229.6 12.9 L230.5 13.44 L231.4 13.19 L232.3 13.27 L233.2 12.8 L234.1 13.1 L235 13.15 L235.9 12.87 L236.8 13.25 L237.7 13.13 L238.6 13.6 L239.5 13.17 L240.4 13.01 L241.3 12.72 L242.2 12.76 L243.1 13.36 L244 12.71 L244.9 12.7 L245.8 12.77 L246.7 13.12 L247.6 13.42 L248.5 13.21 L249.4 13.41 L250.3 12.66 L251.2 12.61 L252.1 13.37 L253 12.92 L253.9 13.32 L254.8 12.95 L255.7 12.77 L256.6 12.87 L257.5 12.7 L258.4 13.5 L259.3 13.18 L260.2 12.95 L261.1 13.05 L262 12.99 L262.9 12.65 L263.8 13.49 L264.7 13.18 L265.6 13.56 L266.5 13.04 L267.4 13.22 L268.3 12.85 L269.2 12.64 L270.1 13.53 L271 13.45 L271.9 12.91 L272.8 13.5 L273.7 13.42 L274.6 12.9 L275.5 13.2 L276.4 13.56 L277.3 13.1 L278.2 13.55 L279.1 12.84 L280 12.99 L280.9 13.32 L281.8 12.82 L282.7 12.91 L283.6 13.48 L284.5 13.08 L285.4 13.39 L286.3 12.84 L287.2 12.77 L288.1 12.96 L289 12.79 L289.9 13.57 L290.8 12.89 L291.7 13.16 L292.6 12.71 L293.5 13.13 L294.4 12.99 L295.3 13 L296.2 12.67 L297.1 12.72 L298 13.43 L298.9 12.95 L299.8 12.84 L300.7 12.79 L301.6 12.88 L302.5 12.84 L303.4 12.63 L304.3 13.26 L305.2 12.94 L306.1 12.76 L307 13.1" fill="none" stroke="#0000f8" stroke-width="3.3" stroke-linejoin="round"/>
<line x1="134.5" y1="52.2" x2="134.5" y2="180.6" stroke="#ffb0b0" stroke-width="1"/>
<line x1="142" y1="52.2" x2="142" y2="180.6" stroke="#ffb0b0" stroke-width="1"/>
<path d="M134.5 52.41 L135.44 51.79 L136.38 51.97 L137.31 52.54 L138.25 51.83 L139.19 52.14 L140.12 52.54 L141.06 52.5 L142 52.2" fill="none" stroke="#f81010" stroke-width="3.3" stroke-linejoin="round"/>
<line x1="182.1" y1="52.2" x2="182.1" y2="180.6" stroke="#ffb0b0" stroke-width="1"/>
<line x1="189.5" y1="52.2" x2="189.5" y2="180.6" stroke="#ffb0b0" stroke-width="1"/>
<path d="M182.1 51.86 L183.03 52.05 L183.95 52.42 L184.88 52.08 L185.8 52.66 L186.72 51.91 L187.65 52.65 L188.57 52.2 L189.5 52.2" fill="none" stroke="#f81010" stroke-width="3.3" stroke-linejoin="round"/>
<path d="M22 180.33 L22.9 180.55 L23.8 180.23 L24.7 180.81 L25.6 180.36 L26.5 181 L27.4 180.69 L28.3 180.47 L29.2 180.35 L30.1 180.71 L31 180.31 L31.9 180.97 L32.8 180.22 L33.7 180.61 L34.6 180.64 L35.5 180.37 L36.4 180.87 L37.3 180.48 L38.2 180.76 L39.1 180.67 L40 180.41 L40.9 180.49 L41.8 180.19 L42.7 180.28 L43.6 180.95 L44.5 180.42 L45.4 180.76 L46.3 180.21 L47.2 180.66 L48.1 180.46 L49 180.6 L49.9 180.4 L50.8 180.17 L51.7 180.41 L52.6 180.33 L53.5 180.23 L54.4 180.82 L55.3 180.38 L56.2 180.5 L57.1 181.01 L58 180.87 L58.9 180.98 L59.8 180.96 L60.7 180.23 L61.6 180.38 L62.5 180.13 L63.4 180.78 L64.3 180.76 L65.2 180.45 L66.1 180.51 L67 180.76 L67.9 180.8 L68.8 180.35 L69.7 180.95 L70.6 180.45 L71.5 180.73 L72.4 180.28 L73.3 180.22 L74.2 181.01 L75.1 180.83 L76 180.81 L76.9 180.14 L77.8 180.14 L78.7 180.26 L79.6 180.3 L80.5 180.4 L81.4 180.48 L82.3 180.14 L83.2 180.41 L84.1 180.74 L85 180.28 L85.9 180.94 L86.8 180.67 L87.7 180.82 L88.6 180.35 L89.5 180.53 L90.4 180.78 L91.3 180.45 L92.2 180.1 L93.1 180.93 L94 180.88 L94.9 180.39 L95.8 180.14 L96.7 180.95 L97.6 180.71 L98.5 180.15 L99.4 180.34 L100.3 180.21 L101.2 180.89 L102.1 180.31 L103 181.01 L103.9 180.85 L104.8 180.19 L105.7 180.79 L106.6 180.49 L107.5 180.85 L108.4 180.93 L109.3 180.38 L110.2 180.19 L111.1 181.05 L112 180.52 L112.9 181.03 L113.8 180.79 L114.7 180.84 L115.6 180.93 L116.5 180.73 L117.4 180.55 L118.3 180.15 L119.2 180.8 L120.1 180.53 L121 180.61 L121.9 181.03 L122.8 180.23 L123.7 180.86 L124.6 180.14 L125.5 180.8 L126.4 180.91 L127.3 180.36 L128.2 180.65 L129.1 181.07 L130 180.74 L130.9 180.64 L131.8 180.35 L132.7 180.16 L133.6 180.46 L134.5 180.6" fill="none" stroke="#f81010" stroke-width="3.3" stroke-linejoin="round"/>
<path d="M142 180.51 L142.91 180.3 L143.82 180.41 L144.73 180.24 L145.65 180.81 L146.56 180.77 L147.47 180.34 L148.38 180.34 L149.29 180.62 L150.2 180.55 L151.11 181.04 L152.03 180.45 L152.94 180.4 L153.85 180.98 L154.76 180.24 L155.67 180.66 L156.58 180.43 L157.49 180.92 L158.4 180.65 L159.32 180.86 L160.23 180.27 L161.14 180.77 L162.05 180.7 L162.96 180.56 L163.87 180.87 L164.78 180.93 L165.7 180.21 L166.61 180.39 L167.52 180.46 L168.43 180.31 L169.34 180.16 L170.25 180.38 L171.16 180.3 L172.07 180.8 L172.99 180.55 L173.9 180.21 L174.81 180.42 L175.72 180.57 L176.63 180.46 L177.54 180.27 L178.45 180.17 L179.37 180.11 L180.28 181.09 L181.19 180.85 L182.1 180.6" fill="none" stroke="#f81010" stroke-width="3.3" stroke-linejoin="round"/>
<path d="M189.5 180.18 L190.4 180.82 L191.31 181.08 L192.21 180.66 L193.12 180.21 L194.02 180.59 L194.92 180.53 L195.83 180.29 L196.73 180.64 L197.63 180.11 L198.54 181.02 L199.44 180.74 L200.35 180.73 L201.25 181.04 L202.15 180.75 L203.06 180.35 L203.96 180.35 L204.87 180.24 L205.77 180.13 L206.67 180.87 L207.58 180.94 L208.48 180.4 L209.38 180.29 L210.29 180.74 L211.19 180.95 L212.1 181.03 L213 180.27 L213.9 180.88 L214.81 180.93 L215.71 180.84 L216.62 180.43 L217.52 180.28 L218.42 180.93 L219.33 180.42 L220.23 180.47 L221.13 180.65 L222.04 180.47 L222.94 180.93 L223.85 180.34 L224.75 180.14 L225.65 180.67 L226.56 180.73 L227.46 180.92 L228.37 180.81 L229.27 181.01 L230.17 181.04 L231.08 180.59 L231.98 180.6 L232.88 180.26 L233.79 180.4 L234.69 180.68 L235.6 180.18 L236.5 180.79 L237.4 180.26 L238.31 180.54 L239.21 181.07 L240.12 180.19 L241.02 180.14 L241.92 180.54 L242.83 180.29 L243.73 180.82 L244.63 180.1 L245.54 180.94 L246.44 180.96 L247.35 180.89 L248.25 180.53 L249.15 180.38 L250.06 180.76 L250.96 180.61 L251.87 180.52 L252.77 180.44 L253.67 180.54 L254.58 180.77 L255.48 180.93 L256.38 181 L257.29 180.26 L258.19 180.4 L259.1 180.54 L260 180.66 L260.9 180.45 L261.81 180.3 L262.71 180.19 L263.62 180.42 L264.52 180.56 L265.42 181.07 L266.33 181.01 L267.23 180.97 L268.13 181.07 L269.04 181.06 L269.94 180.72 L270.85 180.91 L271.75 180.16 L272.65 180.78 L273.56 180.71 L274.46 180.4 L275.37 180.67 L276.27 181.05 L277.17 180.58 L278.08 180.75 L278.98 180.4 L279.88 180.44 L280.79 180.99 L281.69 180.13 L282.6 180.29 L283.5 180.78 L284.4 180.55 L285.31 180.19 L286.21 180.76 L287.12 180.47 L288.02 180.68 L288.92 180.52 L289.83 180.63 L290.73 180.66 L291.63 180.5 L292.54 180.21 L293.44 180.28 L294.35 180.99 L295.25 180.65 L296.15 180.21 L297.06 180.96 L297.96 180.35 L298.87 180.19 L299.77 180.63 L300.67 180.35 L301.58 180.59 L302.48 180.65 L303.38 180.33 L304.29 180.67 L305.19 180.21 L306.1 180.61 L307 180.6" fill="none" stroke="#f81010" stroke-width="3.3" stroke-linejoin="round"/>
<path d="M15.4 119.89 L16.3 119.07 L17.2 119.08 L18.11 118.43 L19.01 118.48 L19.91 118.59 L20.81 117.96 L21.71 117.81 L22.61 117.54 L23.52 116.59 L24.42 117.15 L25.32 116.56 L26.22 115.63 L27.12 116.04 L28.03 115.29 L28.93 114.76 L29.83 115.23 L30.73 114.52 L31.63 114.42 L32.54 113.47 L33.44 113.79 L34.34 112.76 L35.24 112.62 L36.14 112.44 L37.04 111.77 L37.95 112.04 L38.85 111.34 L39.75 111.11 L40.65 111.21 L41.55 110.61 L42.46 110.76 L43.36 110.18 L44.26 110.11 L45.16 109.49 L46.06 109.53 L46.97 109.17 L47.87 108.15 L48.77 108.42 L49.67 107.7 L50.57 107.81 L51.47 107.41 L52.38 107.24 L53.28 106.22 L54.18 106.16 L55.08 106.21 L55.98 106.11 L56.89 105.56 L57.79 104.57 L58.69 104.82 L59.59 104 L60.49 104.13 L61.4 104.07 L62.3 103.07 L63.2 103.57 L64.1 103 L65 102.27 L65.9 101.89 L66.81 101.83 L67.71 101.91 L68.61 101.34 L69.51 100.56 L70.41 100.15 L71.32 99.92 L72.22 100.3 L73.12 99.37 L74.02 99.43 L74.92 98.85 L75.82 98.93 L76.73 98.31 L77.63 97.76 L78.53 98.18 L79.43 97.52 L80.33 97.36 L81.24 97.17 L82.14 96.99 L83.04 95.74 L83.94 95.76 L84.84 95.25 L85.75 95.29 L86.65 95.34 L87.55 94.96 L88.45 93.88 L89.35 93.71 L90.25 94.03 L91.16 93.58 L92.06 92.98 L92.96 92.75 L93.86 92.12 L94.76 92.49 L95.67 91.72 L96.57 91.89 L97.47 91.31 L98.37 90.46 L99.27 90.4 L100.18 89.97 L101.08 90.34 L101.98 89.72 L102.88 88.86 L103.78 88.67 L104.68 88.55 L105.59 88.34 L106.49 88.13 L107.39 87.63 L108.29 87.28 L109.19 86.62 L110.1 86.88 L111 86.32 L111.9 85.69 L112.8 85.82 L113.7 86.03 L114.6 84.77 L115.51 84.56 L116.41 84.77 L117.31 84.06 L118.21 83.74 L119.11 83.66 L120.02 83.1 L120.92 83.1 L121.82 82.74 L122.72 82.86 L123.62 82.58 L124.53 81.31 L125.43 81.52 L126.33 81.41 L127.23 81.2 L128.13 80.79 L129.03 80.33 L129.94 80.02 L130.84 79.43 L131.74 79.04 L132.64 79.24 L133.54 79 L134.45 78.75 L135.35 78.18 L136.25 77.49 L137.15 77.63 L138.05 77.3 L138.96 76.75 L139.86 76.56 L140.76 75.96 L141.66 75.85 L142.56 75.39 L143.46 74.73 L144.37 74.69 L145.27 74.37 L146.17 74.72 L147.07 73.9 L147.97 73.47 L148.88 73.03 L149.78 72.71 L150.68 72.51 L151.58 71.98 L152.48 71.54 L153.39 72.09 L154.29 71.35 L155.19 71.03 L156.09 70.84 L156.99 70.26 L157.89 69.81 L158.8 69.39 L159.7 69.32 L160.6 69.01 L161.5 69.75 L162.41 69.9 L163.31 70.61 L164.21 70.33 L165.12 71.24 L166.02 71.22 L166.93 71.04 L167.83 71.46 L168.73 72.19 L169.64 72.92 L170.54 72.61 L171.44 73.35 L172.35 73.33 L173.25 74.09 L174.16 73.61 L175.06 74.35 L175.96 75.09 L176.87 74.79 L177.77 75.09 L178.67 75.18 L179.58 75.64 L180.48 76.07 L181.39 76.83 L182.29 76.67 L183.19 77.17 L184.1 77.29 L185 78.02 L185.9 78.6 L186.81 78.71 L187.71 78.58 L188.61 79.44 L189.52 79.99 L190.42 79.95 L191.33 79.76 L192.23 80.81 L193.13 81.2 L194.04 80.99 L194.94 81.1 L195.84 81.48 L196.75 82.15 L197.65 82.81 L198.56 82.9 L199.46 83.5 L200.36 83.12 L201.27 83.55 L202.17 84.3 L203.07 84.52 L203.98 84.6 L204.88 85.2 L205.79 85.18 L206.69 85.22 L207.59 85.9 L208.5 85.86 L209.4 86.76 L210.3 86.79 L211.21 87.27 L212.11 87.7 L213.01 87.68 L213.92 88.21 L214.82 88.08 L215.73 89.32 L216.63 89.28 L217.53 90.03 L218.44 89.42 L219.34 90.3 L220.24 90.73 L221.15 90.66 L222.05 90.75 L222.96 91.13 L223.86 91.44 L224.76 92.39 L225.67 92.03 L226.57 93.08 L227.47 93.01 L228.38 93.45 L229.28 93.82 L230.19 94.11 L231.09 94.54 L231.99 94.81 L232.9 94.86 L233.8 95.59 L234.7 95.43 L235.61 96.21 L236.51 96.58 L237.41 96.92 L238.32 96.77 L239.22 97.56 L240.13 98.09 L241.03 97.89 L241.93 98.03 L242.84 98.6 L243.74 99.34 L244.64 98.86 L245.55 99.06 L246.45 99.85 L247.36 100.35 L248.26 100.79 L249.16 100.7 L250.07 101.65 L250.97 101.21 L251.87 102.06 L252.78 101.72 L253.68 101.98 L254.59 102.41 L255.49 102.66 L256.39 103.42 L257.3 103.8 L258.2 103.75 L259.1 104.83 L260.01 104.58 L260.91 104.68 L261.81 105.04 L262.72 105.92 L263.62 106.43 L264.53 105.99 L265.43 106.18 L266.33 107.25 L267.24 107.04 L268.14 108.1 L269.04 107.94 L269.95 108.4 L270.85 108.43 L271.76 109.21 L272.66 109.19 L273.56 109.38 L274.47 110.28 L275.37 109.81 L276.27 110.76 L277.18 110.41 L278.08 111.31 L278.99 111.39 L279.89 112.18 L280.79 111.7 L281.7 112.52 L282.6 112.69 L283.5 113.53 L284.41 113.87 L285.31 113.88 L286.21 113.8 L287.12 114.15 L288.02 114.48 L288.93 114.98 L289.83 115.1 L290.73 115.39 L291.64 116.27 L292.54 116.48 L293.44 116.46 L294.35 117.47 L295.25 117.02 L296.16 117.7 L297.06 117.61 L297.96 118.63 L298.87 118.96 L299.77 118.68 L300.67 119.49 L301.58 119.89 L302.48 119.67 L303.39 120.04 L304.29 120.52 L305.19 121.25 L306.1 120.84 L307 121.5" fill="none" stroke="#10f010" stroke-width="3.8" stroke-linejoin="round"/>
<path d="M170.2 74.5 H147" stroke="#000" stroke-width="1.7"/>
<path d="M144.2 74.5 l3.6 -2.2 v4.4 z" fill="#000"/>
<path d="M217.2 78 H194" stroke="#000" stroke-width="1.7"/>
<path d="M190.7 78 l3.6 -2.2 v4.4 z" fill="#000"/>
<text transform="translate(193.7 67.2) scale(0.25)" font-size="25.6" fill="#2a2a2a">V<tspan font-size="14" dy="4">IT-</tspan><tspan dy="-4">(UV),</tspan></text>
<text transform="translate(195.6 75.8) scale(0.25)" font-size="25.6" fill="#2a2a2a">1.141V</text>
<text transform="translate(146.2 85.4) scale(0.25)" font-size="25.6" fill="#2a2a2a">V<tspan font-size="14" dy="4">IT+</tspan><tspan dy="-4">(OV),</tspan></text>
<text transform="translate(148.6 93.8) scale(0.25)" font-size="25.6" fill="#2a2a2a">1.258V</text>
<path d="M0.6 41.9 h3.5 l1.8 2.6 l-1.8 2.6 h-3.5 z" fill="#ffffff" stroke="#2020f0" stroke-width="0.9"/>
<text transform="translate(2.5 46.2) scale(0.25)" font-size="18.4" fill="#2020f0" font-weight="bold" text-anchor="middle">1</text>
<text transform="translate(7.2 46.3) scale(0.25)" font-size="18" fill="#1a1a1a" font-weight="bold">VDD</text>
<path d="M0.6 120.3 h3.5 l1.8 2.6 l-1.8 2.6 h-3.5 z" fill="#30d030" stroke="#30d030" stroke-width="0.9"/>
<text transform="translate(2.5 124.6) scale(0.25)" font-size="18.4" fill="#ffffff" font-weight="bold" text-anchor="middle">3</text>
<text transform="translate(7.2 124.7) scale(0.25)" font-size="18" fill="#1a1a1a" font-weight="bold">SENSE</text>
<path d="M0.6 178 h3.5 l1.8 2.6 l-1.8 2.6 h-3.5 z" fill="#ffffff" stroke="#f02020" stroke-width="0.9"/>
<text transform="translate(2.5 182.3) scale(0.25)" font-size="18.4" fill="#f02020" font-weight="bold" text-anchor="middle">2</text>
<text transform="translate(7.2 182.4) scale(0.25)" font-size="18" fill="#1a1a1a" font-weight="bold">RESET</text>
<rect x="6.5" y="202.6" width="166" height="5.6" rx="1" fill="#ffffff" stroke="#9a9aaa" stroke-width="0.8"/>
<ellipse cx="11.8" cy="205.4" rx="3.7" ry="2.2" fill="#0020f0"/>
<text transform="translate(11.8 207) scale(0.25)" font-size="16" fill="#fff" font-weight="bold" text-anchor="middle">1</text>
<text transform="translate(20.6 207.3) scale(0.25)" font-size="20" fill="#0020f0" font-weight="bold">2.00 V</text>
<ellipse cx="53.3" cy="205.4" rx="3.7" ry="2.2" fill="#f01010"/>
<text transform="translate(53.3 207) scale(0.25)" font-size="16" fill="#fff" font-weight="bold" text-anchor="middle">2</text>
<text transform="translate(62.1 207.3) scale(0.25)" font-size="20" fill="#f01010" font-weight="bold">500mV</text>
<ellipse cx="95.3" cy="205.4" rx="3.7" ry="2.2" fill="#50e850"/>
<text transform="translate(95.3 207) scale(0.25)" font-size="16" fill="#fff" font-weight="bold" text-anchor="middle">3</text>
<text transform="translate(104.1 207.3) scale(0.25)" font-size="20" fill="#60e860" font-weight="bold">500mV</text>
<rect x="175.6" y="202.6" width="44" height="10.6" rx="1.2" fill="#ffffff" stroke="#9a9a9a" stroke-width="0.8"/>
<text transform="translate(177 207) scale(0.25)" font-size="20" fill="#222" font-weight="bold">200ms</text>
<rect x="177" y="208.3" width="2.2" height="3.1" fill="#3a8cf0"/>
<text transform="translate(179.6 211.6) scale(0.25)" font-size="18.4" fill="#3a70f0">+&#9660;0.000000 s</text>
<rect x="222" y="202.6" width="32" height="10.6" rx="1.2" fill="#ffffff" stroke="#9a9a9a" stroke-width="0.8"/>
<text transform="translate(223.7 207) scale(0.25)" font-size="20.4" fill="#222" font-weight="bold">50.0kS/s</text>
<text transform="translate(223.7 211.6) scale(0.25)" font-size="20.4" fill="#222" font-weight="bold">100k points</text>
<rect x="256.8" y="202.6" width="52" height="11.2" rx="1.2" fill="#ffffff" stroke="#9a9a9a" stroke-width="0.8"/>
<ellipse cx="269.3" cy="205.4" rx="3.6" ry="2.2" fill="#40e040"/>
<text transform="translate(269.3 207) scale(0.25)" font-size="16" fill="#fff" font-weight="bold" text-anchor="middle">3</text>
<path d="M276.6 207.3 l1.2 0 l1.5 -3.2" stroke="#222" stroke-width="0.8" fill="none"/>
<text transform="translate(305.8 207.4) scale(0.25)" font-size="20" fill="#555" font-weight="bold" text-anchor="end">1.40 V</text>
<rect x="274" y="220.2" width="35" height="10.4" rx="1.2" fill="#ffffff" stroke="#9a9a9a" stroke-width="0.8"/>
<text transform="translate(278.6 224.9) scale(0.25)" font-size="18" fill="#2a2a2a" font-weight="bold" letter-spacing="0.8">6 Sep&#160;&#160;2018</text>
<text transform="translate(275.3 229.9) scale(0.25)" font-size="18" fill="#2a2a2a" font-weight="bold" letter-spacing="1">01:08:25</text>
</svg><svg class="scope" style="left:599px;top:500px" width="307" height="231.8" viewBox="0 0 307 231.8" preserveAspectRatio="none" font-family="Liberation Sans">
<rect x="0" y="6" width="307" height="225.8" fill="#fdf8fd"/><rect x="0" y="6" width="0.9" height="225.8" fill="#efeff1"/>
<rect x="6.4" y="5.5" width="300.6" height="195.7" fill="#fefefe"/>
<path d="M11.92 25.07h1 M17.94 25.07h1 M23.96 25.07h1 M29.98 25.07h1 M36 25.07h1 M42.02 25.07h1 M48.04 25.07h1 M54.06 25.07h1 M60.08 25.07h1 M66.1 25.07h1 M72.12 25.07h1 M78.14 25.07h1 M84.16 25.07h1 M90.18 25.07h1 M96.2 25.07h1 M102.22 25.07h1 M108.24 25.07h1 M114.26 25.07h1 M120.28 25.07h1 M126.3 25.07h1 M132.32 25.07h1 M138.34 25.07h1 M144.36 25.07h1 M150.38 25.07h1 M156.4 25.07h1 M162.42 25.07h1 M168.44 25.07h1 M174.46 25.07h1 M180.48 25.07h1 M186.5 25.07h1 M192.52 25.07h1 M198.54 25.07h1 M204.56 25.07h1 M210.58 25.07h1 M216.6 25.07h1 M222.62 25.07h1 M228.64 25.07h1 M234.66 25.07h1 M240.68 25.07h1 M246.7 25.07h1 M252.72 25.07h1 M258.74 25.07h1 M264.76 25.07h1 M270.78 25.07h1 M276.8 25.07h1 M282.82 25.07h1 M288.84 25.07h1 M294.86 25.07h1 M300.88 25.07h1 M11.92 44.64h1 M17.94 44.64h1 M23.96 44.64h1 M29.98 44.64h1 M36 44.64h1 M42.02 44.64h1 M48.04 44.64h1 M54.06 44.64h1 M60.08 44.64h1 M66.1 44.64h1 M72.12 44.64h1 M78.14 44.64h1 M84.16 44.64h1 M90.18 44.64h1 M96.2 44.64h1 M102.22 44.64h1 M108.24 44.64h1 M114.26 44.64h1 M120.28 44.64h1 M126.3 44.64h1 M132.32 44.64h1 M138.34 44.64h1 M144.36 44.64h1 M150.38 44.64h1 M156.4 44.64h1 M162.42 44.64h1 M168.44 44.64h1 M174.46 44.64h1 M180.48 44.64h1 M186.5 44.64h1 M192.52 44.64h1 M198.54 44.64h1 M204.56 44.64h1 M210.58 44.64h1 M216.6 44.64h1 M222.62 44.64h1 M228.64 44.64h1 M234.66 44.64h1 M240.68 44.64h1 M246.7 44.64h1 M252.72 44.64h1 M258.74 44.64h1 M264.76 44.64h1 M270.78 44.64h1 M276.8 44.64h1 M282.82 44.64h1 M288.84 44.64h1 M294.86 44.64h1 M300.88 44.64h1 M11.92 64.21h1 M17.94 64.21h1 M23.96 64.21h1 M29.98 64.21h1 M36 64.21h1 M42.02 64.21h1 M48.04 64.21h1 M54.06 64.21h1 M60.08 64.21h1 M66.1 64.21h1 M72.12 64.21h1 M78.14 64.21h1 M84.16 64.21h1 M90.18 64.21h1 M96.2 64.21h1 M102.22 64.21h1 M108.24 64.21h1 M114.26 64.21h1 M120.28 64.21h1 M126.3 64.21h1 M132.32 64.21h1 M138.34 64.21h1 M144.36 64.21h1 M150.38 64.21h1 M156.4 64.21h1 M162.42 64.21h1 M168.44 64.21h1 M174.46 64.21h1 M180.48 64.21h1 M186.5 64.21h1 M192.52 64.21h1 M198.54 64.21h1 M204.56 64.21h1 M210.58 64.21h1 M216.6 64.21h1 M222.62 64.21h1 M228.64 64.21h1 M234.66 64.21h1 M240.68 64.21h1 M246.7 64.21h1 M252.72 64.21h1 M258.74 64.21h1 M264.76 64.21h1 M270.78 64.21h1 M276.8 64.21h1 M282.82 64.21h1 M288.84 64.21h1 M294.86 64.21h1 M300.88 64.21h1 M11.92 83.78h1 M17.94 83.78h1 M23.96 83.78h1 M29.98 83.78h1 M36 83.78h1 M42.02 83.78h1 M48.04 83.78h1 M54.06 83.78h1 M60.08 83.78h1 M66.1 83.78h1 M72.12 83.78h1 M78.14 83.78h1 M84.16 83.78h1 M90.18 83.78h1 M96.2 83.78h1 M102.22 83.78h1 M108.24 83.78h1 M114.26 83.78h1 M120.28 83.78h1 M126.3 83.78h1 M132.32 83.78h1 M138.34 83.78h1 M144.36 83.78h1 M150.38 83.78h1 M156.4 83.78h1 M162.42 83.78h1 M168.44 83.78h1 M174.46 83.78h1 M180.48 83.78h1 M186.5 83.78h1 M192.52 83.78h1 M198.54 83.78h1 M204.56 83.78h1 M210.58 83.78h1 M216.6 83.78h1 M222.62 83.78h1 M228.64 83.78h1 M234.66 83.78h1 M240.68 83.78h1 M246.7 83.78h1 M252.72 83.78h1 M258.74 83.78h1 M264.76 83.78h1 M270.78 83.78h1 M276.8 83.78h1 M282.82 83.78h1 M288.84 83.78h1 M294.86 83.78h1 M300.88 83.78h1 M11.92 122.92h1 M17.94 122.92h1 M23.96 122.92h1 M29.98 122.92h1 M36 122.92h1 M42.02 122.92h1 M48.04 122.92h1 M54.06 122.92h1 M60.08 122.92h1 M66.1 122.92h1 M72.12 122.92h1 M78.14 122.92h1 M84.16 122.92h1 M90.18 122.92h1 M96.2 122.92h1 M102.22 122.92h1 M108.24 122.92h1 M114.26 122.92h1 M120.28 122.92h1 M126.3 122.92h1 M132.32 122.92h1 M138.34 122.92h1 M144.36 122.92h1 M150.38 122.92h1 M156.4 122.92h1 M162.42 122.92h1 M168.44 122.92h1 M174.46 122.92h1 M180.48 122.92h1 M186.5 122.92h1 M192.52 122.92h1 M198.54 122.92h1 M204.56 122.92h1 M210.58 122.92h1 M216.6 122.92h1 M222.62 122.92h1 M228.64 122.92h1 M234.66 122.92h1 M240.68 122.92h1 M246.7 122.92h1 M252.72 122.92h1 M258.74 122.92h1 M264.76 122.92h1 M270.78 122.92h1 M276.8 122.92h1 M282.82 122.92h1 M288.84 122.92h1 M294.86 122.92h1 M300.88 122.92h1 M11.92 142.49h1 M17.94 142.49h1 M23.96 142.49h1 M29.98 142.49h1 M36 142.49h1 M42.02 142.49h1 M48.04 142.49h1 M54.06 142.49h1 M60.08 142.49h1 M66.1 142.49h1 M72.12 142.49h1 M78.14 142.49h1 M84.16 142.49h1 M90.18 142.49h1 M96.2 142.49h1 M102.22 142.49h1 M108.24 142.49h1 M114.26 142.49h1 M120.28 142.49h1 M126.3 142.49h1 M132.32 142.49h1 M138.34 142.49h1 M144.36 142.49h1 M150.38 142.49h1 M156.4 142.49h1 M162.42 142.49h1 M168.44 142.49h1 M174.46 142.49h1 M180.48 142.49h1 M186.5 142.49h1 M192.52 142.49h1 M198.54 142.49h1 M204.56 142.49h1 M210.58 142.49h1 M216.6 142.49h1 M222.62 142.49h1 M228.64 142.49h1 M234.66 142.49h1 M240.68 142.49h1 M246.7 142.49h1 M252.72 142.49h1 M258.74 142.49h1 M264.76 142.49h1 M270.78 142.49h1 M276.8 142.49h1 M282.82 142.49h1 M288.84 142.49h1 M294.86 142.49h1 M300.88 142.49h1 M11.92 162.06h1 M17.94 162.06h1 M23.96 162.06h1 M29.98 162.06h1 M36 162.06h1 M42.02 162.06h1 M48.04 162.06h1 M54.06 162.06h1 M60.08 162.06h1 M66.1 162.06h1 M72.12 162.06h1 M78.14 162.06h1 M84.16 162.06h1 M90.18 162.06h1 M96.2 162.06h1 M102.22 162.06h1 M108.24 162.06h1 M114.26 162.06h1 M120.28 162.06h1 M126.3 162.06h1 M132.32 162.06h1 M138.34 162.06h1 M144.36 162.06h1 M150.38 162.06h1 M156.4 162.06h1 M162.42 162.06h1 M168.44 162.06h1 M174.46 162.06h1 M180.48 162.06h1 M186.5 162.06h1 M192.52 162.06h1 M198.54 162.06h1 M204.56 162.06h1 M210.58 162.06h1 M216.6 162.06h1 M222.62 162.06h1 M228.64 162.06h1 M234.66 162.06h1 M240.68 162.06h1 M246.7 162.06h1 M252.72 162.06h1 M258.74 162.06h1 M264.76 162.06h1 M270.78 162.06h1 M276.8 162.06h1 M282.82 162.06h1 M288.84 162.06h1 M294.86 162.06h1 M300.88 162.06h1 M11.92 181.63h1 M17.94 181.63h1 M23.96 181.63h1 M29.98 181.63h1 M36 181.63h1 M42.02 181.63h1 M48.04 181.63h1 M54.06 181.63h1 M60.08 181.63h1 M66.1 181.63h1 M72.12 181.63h1 M78.14 181.63h1 M84.16 181.63h1 M90.18 181.63h1 M96.2 181.63h1 M102.22 181.63h1 M108.24 181.63h1 M114.26 181.63h1 M120.28 181.63h1 M126.3 181.63h1 M132.32 181.63h1 M138.34 181.63h1 M144.36 181.63h1 M150.38 181.63h1 M156.4 181.63h1 M162.42 181.63h1 M168.44 181.63h1 M174.46 181.63h1 M180.48 181.63h1 M186.5 181.63h1 M192.52 181.63h1 M198.54 181.63h1 M204.56 181.63h1 M210.58 181.63h1 M216.6 181.63h1 M222.62 181.63h1 M228.64 181.63h1 M234.66 181.63h1 M240.68 181.63h1 M246.7 181.63h1 M252.72 181.63h1 M258.74 181.63h1 M264.76 181.63h1 M270.78 181.63h1 M276.8 181.63h1 M282.82 181.63h1 M288.84 181.63h1 M294.86 181.63h1 M300.88 181.63h1 M36.5 8.91v1 M36.5 12.83v1 M36.5 16.74v1 M36.5 20.66v1 M36.5 24.57v1 M36.5 28.48v1 M36.5 32.4v1 M36.5 36.31v1 M36.5 40.23v1 M36.5 44.14v1 M36.5 48.05v1 M36.5 51.97v1 M36.5 55.88v1 M36.5 59.8v1 M36.5 63.71v1 M36.5 67.62v1 M36.5 71.54v1 M36.5 75.45v1 M36.5 79.37v1 M36.5 83.28v1 M36.5 87.19v1 M36.5 91.11v1 M36.5 95.02v1 M36.5 98.94v1 M36.5 102.85v1 M36.5 106.76v1 M36.5 110.68v1 M36.5 114.59v1 M36.5 118.51v1 M36.5 122.42v1 M36.5 126.33v1 M36.5 130.25v1 M36.5 134.16v1 M36.5 138.08v1 M36.5 141.99v1 M36.5 145.9v1 M36.5 149.82v1 M36.5 153.73v1 M36.5 157.65v1 M36.5 161.56v1 M36.5 165.47v1 M36.5 169.39v1 M36.5 173.3v1 M36.5 177.22v1 M36.5 181.13v1 M36.5 185.04v1 M36.5 188.96v1 M36.5 192.87v1 M36.5 196.79v1 M66.6 8.91v1 M66.6 12.83v1 M66.6 16.74v1 M66.6 20.66v1 M66.6 24.57v1 M66.6 28.48v1 M66.6 32.4v1 M66.6 36.31v1 M66.6 40.23v1 M66.6 44.14v1 M66.6 48.05v1 M66.6 51.97v1 M66.6 55.88v1 M66.6 59.8v1 M66.6 63.71v1 M66.6 67.62v1 M66.6 71.54v1 M66.6 75.45v1 M66.6 79.37v1 M66.6 83.28v1 M66.6 87.19v1 M66.6 91.11v1 M66.6 95.02v1 M66.6 98.94v1 M66.6 102.85v1 M66.6 106.76v1 M66.6 110.68v1 M66.6 114.59v1 M66.6 118.51v1 M66.6 122.42v1 M66.6 126.33v1 M66.6 130.25v1 M66.6 134.16v1 M66.6 138.08v1 M66.6 141.99v1 M66.6 145.9v1 M66.6 149.82v1 M66.6 153.73v1 M66.6 157.65v1 M66.6 161.56v1 M66.6 165.47v1 M66.6 169.39v1 M66.6 173.3v1 M66.6 177.22v1 M66.6 181.13v1 M66.6 185.04v1 M66.6 188.96v1 M66.6 192.87v1 M66.6 196.79v1 M96.7 8.91v1 M96.7 12.83v1 M96.7 16.74v1 M96.7 20.66v1 M96.7 24.57v1 M96.7 28.48v1 M96.7 32.4v1 M96.7 36.31v1 M96.7 40.23v1 M96.7 44.14v1 M96.7 48.05v1 M96.7 51.97v1 M96.7 55.88v1 M96.7 59.8v1 M96.7 63.71v1 M96.7 67.62v1 M96.7 71.54v1 M96.7 75.45v1 M96.7 79.37v1 M96.7 83.28v1 M96.7 87.19v1 M96.7 91.11v1 M96.7 95.02v1 M96.7 98.94v1 M96.7 102.85v1 M96.7 106.76v1 M96.7 110.68v1 M96.7 114.59v1 M96.7 118.51v1 M96.7 122.42v1 M96.7 126.33v1 M96.7 130.25v1 M96.7 134.16v1 M96.7 138.08v1 M96.7 141.99v1 M96.7 145.9v1 M96.7 149.82v1 M96.7 153.73v1 M96.7 157.65v1 M96.7 161.56v1 M96.7 165.47v1 M96.7 169.39v1 M96.7 173.3v1 M96.7 177.22v1 M96.7 181.13v1 M96.7 185.04v1 M96.7 188.96v1 M96.7 192.87v1 M96.7 196.79v1 M126.8 8.91v1 M126.8 12.83v1 M126.8 16.74v1 M126.8 20.66v1 M126.8 24.57v1 M126.8 28.48v1 M126.8 32.4v1 M126.8 36.31v1 M126.8 40.23v1 M126.8 44.14v1 M126.8 48.05v1 M126.8 51.97v1 M126.8 55.88v1 M126.8 59.8v1 M126.8 63.71v1 M126.8 67.62v1 M126.8 71.54v1 M126.8 75.45v1 M126.8 79.37v1 M126.8 83.28v1 M126.8 87.19v1 M126.8 91.11v1 M126.8 95.02v1 M126.8 98.94v1 M126.8 102.85v1 M126.8 106.76v1 M126.8 110.68v1 M126.8 114.59v1 M126.8 118.51v1 M126.8 122.42v1 M126.8 126.33v1 M126.8 130.25v1 M126.8 134.16v1 M126.8 138.08v1 M126.8 141.99v1 M126.8 145.9v1 M126.8 149.82v1 M126.8 153.73v1 M126.8 157.65v1 M126.8 161.56v1 M126.8 165.47v1 M126.8 169.39v1 M126.8 173.3v1 M126.8 177.22v1 M126.8 181.13v1 M126.8 185.04v1 M126.8 188.96v1 M126.8 192.87v1 M126.8 196.79v1 M187 8.91v1 M187 12.83v1 M187 16.74v1 M187 20.66v1 M187 24.57v1 M187 28.48v1 M187 32.4v1 M187 36.31v1 M187 40.23v1 M187 44.14v1 M187 48.05v1 M187 51.97v1 M187 55.88v1 M187 59.8v1 M187 63.71v1 M187 67.62v1 M187 71.54v1 M187 75.45v1 M187 79.37v1 M187 83.28v1 M187 87.19v1 M187 91.11v1 M187 95.02v1 M187 98.94v1 M187 102.85v1 M187 106.76v1 M187 110.68v1 M187 114.59v1 M187 118.51v1 M187 122.42v1 M187 126.33v1 M187 130.25v1 M187 134.16v1 M187 138.08v1 M187 141.99v1 M187 145.9v1 M187 149.82v1 M187 153.73v1 M187 157.65v1 M187 161.56v1 M187 165.47v1 M187 169.39v1 M187 173.3v1 M187 177.22v1 M187 181.13v1 M187 185.04v1 M187 188.96v1 M187 192.87v1 M187 196.79v1 M217.1 8.91v1 M217.1 12.83v1 M217.1 16.74v1 M217.1 20.66v1 M217.1 24.57v1 M217.1 28.48v1 M217.1 32.4v1 M217.1 36.31v1 M217.1 40.23v1 M217.1 44.14v1 M217.1 48.05v1 M217.1 51.97v1 M217.1 55.88v1 M217.1 59.8v1 M217.1 63.71v1 M217.1 67.62v1 M217.1 71.54v1 M217.1 75.45v1 M217.1 79.37v1 M217.1 83.28v1 M217.1 87.19v1 M217.1 91.11v1 M217.1 95.02v1 M217.1 98.94v1 M217.1 102.85v1 M217.1 106.76v1 M217.1 110.68v1 M217.1 114.59v1 M217.1 118.51v1 M217.1 122.42v1 M217.1 126.33v1 M217.1 130.25v1 M217.1 134.16v1 M217.1 138.08v1 M217.1 141.99v1 M217.1 145.9v1 M217.1 149.82v1 M217.1 153.73v1 M217.1 157.65v1 M217.1 161.56v1 M217.1 165.47v1 M217.1 169.39v1 M217.1 173.3v1 M217.1 177.22v1 M217.1 181.13v1 M217.1 185.04v1 M217.1 188.96v1 M217.1 192.87v1 M217.1 196.79v1 M247.2 8.91v1 M247.2 12.83v1 M247.2 16.74v1 M247.2 20.66v1 M247.2 24.57v1 M247.2 28.48v1 M247.2 32.4v1 M247.2 36.31v1 M247.2 40.23v1 M247.2 44.14v1 M247.2 48.05v1 M247.2 51.97v1 M247.2 55.88v1 M247.2 59.8v1 M247.2 63.71v1 M247.2 67.62v1 M247.2 71.54v1 M247.2 75.45v1 M247.2 79.37v1 M247.2 83.28v1 M247.2 87.19v1 M247.2 91.11v1 M247.2 95.02v1 M247.2 98.94v1 M247.2 102.85v1 M247.2 106.76v1 M247.2 110.68v1 M247.2 114.59v1 M247.2 118.51v1 M247.2 122.42v1 M247.2 126.33v1 M247.2 130.25v1 M247.2 134.16v1 M247.2 138.08v1 M247.2 141.99v1 M247.2 145.9v1 M247.2 149.82v1 M247.2 153.73v1 M247.2 157.65v1 M247.2 161.56v1 M247.2 165.47v1 M247.2 169.39v1 M247.2 173.3v1 M247.2 177.22v1 M247.2 181.13v1 M247.2 185.04v1 M247.2 188.96v1 M247.2 192.87v1 M247.2 196.79v1 M277.3 8.91v1 M277.3 12.83v1 M277.3 16.74v1 M277.3 20.66v1 M277.3 24.57v1 M277.3 28.48v1 M277.3 32.4v1 M277.3 36.31v1 M277.3 40.23v1 M277.3 44.14v1 M277.3 48.05v1 M277.3 51.97v1 M277.3 55.88v1 M277.3 59.8v1 M277.3 63.71v1 M277.3 67.62v1 M277.3 71.54v1 M277.3 75.45v1 M277.3 79.37v1 M277.3 83.28v1 M277.3 87.19v1 M277.3 91.11v1 M277.3 95.02v1 M277.3 98.94v1 M277.3 102.85v1 M277.3 106.76v1 M277.3 110.68v1 M277.3 114.59v1 M277.3 118.51v1 M277.3 122.42v1 M277.3 126.33v1 M277.3 130.25v1 M277.3 134.16v1 M277.3 138.08v1 M277.3 141.99v1 M277.3 145.9v1 M277.3 149.82v1 M277.3 153.73v1 M277.3 157.65v1 M277.3 161.56v1 M277.3 165.47v1 M277.3 169.39v1 M277.3 173.3v1 M277.3 177.22v1 M277.3 181.13v1 M277.3 185.04v1 M277.3 188.96v1 M277.3 192.87v1 M277.3 196.79v1" stroke="#d2d2d2" stroke-width="1" fill="none"/>
<line x1="6.4" y1="103.35" x2="307.4" y2="103.35" stroke="#b0b0b0" stroke-width="0.7"/>
<line x1="156.9" y1="5.5" x2="156.9" y2="201.2" stroke="#b0b0b0" stroke-width="0.7"/>
<path d="M12.42 102.35v2 M18.44 102.35v2 M24.46 102.35v2 M30.48 102.35v2 M36.5 102.35v2 M42.52 102.35v2 M48.54 102.35v2 M54.56 102.35v2 M60.58 102.35v2 M66.6 102.35v2 M72.62 102.35v2 M78.64 102.35v2 M84.66 102.35v2 M90.68 102.35v2 M96.7 102.35v2 M102.72 102.35v2 M108.74 102.35v2 M114.76 102.35v2 M120.78 102.35v2 M126.8 102.35v2 M132.82 102.35v2 M138.84 102.35v2 M144.86 102.35v2 M150.88 102.35v2 M156.9 102.35v2 M162.92 102.35v2 M168.94 102.35v2 M174.96 102.35v2 M180.98 102.35v2 M187 102.35v2 M193.02 102.35v2 M199.04 102.35v2 M205.06 102.35v2 M211.08 102.35v2 M217.1 102.35v2 M223.12 102.35v2 M229.14 102.35v2 M235.16 102.35v2 M241.18 102.35v2 M247.2 102.35v2 M253.22 102.35v2 M259.24 102.35v2 M265.26 102.35v2 M271.28 102.35v2 M277.3 102.35v2 M283.32 102.35v2 M289.34 102.35v2 M295.36 102.35v2 M301.38 102.35v2 M155.9 9.41h2 M155.9 13.33h2 M155.9 17.24h2 M155.9 21.16h2 M155.9 25.07h2 M155.9 28.98h2 M155.9 32.9h2 M155.9 36.81h2 M155.9 40.73h2 M155.9 44.64h2 M155.9 48.55h2 M155.9 52.47h2 M155.9 56.38h2 M155.9 60.3h2 M155.9 64.21h2 M155.9 68.12h2 M155.9 72.04h2 M155.9 75.95h2 M155.9 79.87h2 M155.9 83.78h2 M155.9 87.69h2 M155.9 91.61h2 M155.9 95.52h2 M155.9 99.44h2 M155.9 103.35h2 M155.9 107.26h2 M155.9 111.18h2 M155.9 115.09h2 M155.9 119.01h2 M155.9 122.92h2 M155.9 126.83h2 M155.9 130.75h2 M155.9 134.66h2 M155.9 138.58h2 M155.9 142.49h2 M155.9 146.4h2 M155.9 150.32h2 M155.9 154.23h2 M155.9 158.15h2 M155.9 162.06h2 M155.9 165.97h2 M155.9 169.89h2 M155.9 173.8h2 M155.9 177.72h2 M155.9 181.63h2 M155.9 185.54h2 M155.9 189.46h2 M155.9 193.37h2 M155.9 197.29h2" stroke="#a0a0a0" stroke-width="0.8" fill="none"/>
<path d="M6.4 5.5 V201.2 M6.4 5.5 H307 M6.4 201.2 H307" stroke="#dcc0a4" stroke-width="1" fill="none"/>
<path d="M6.4 9.41h1.6 M6.4 13.33h1.6 M6.4 17.24h1.6 M6.4 21.16h1.6 M6.4 25.07h1.6 M6.4 28.98h1.6 M6.4 32.9h1.6 M6.4 36.81h1.6 M6.4 40.73h1.6 M6.4 44.64h1.6 M6.4 48.55h1.6 M6.4 52.47h1.6 M6.4 56.38h1.6 M6.4 60.3h1.6 M6.4 64.21h1.6 M6.4 68.12h1.6 M6.4 72.04h1.6 M6.4 75.95h1.6 M6.4 79.87h1.6 M6.4 83.78h1.6 M6.4 87.69h1.6 M6.4 91.61h1.6 M6.4 95.52h1.6 M6.4 99.44h1.6 M6.4 103.35h1.6 M6.4 107.26h1.6 M6.4 111.18h1.6 M6.4 115.09h1.6 M6.4 119.01h1.6 M6.4 122.92h1.6 M6.4 126.83h1.6 M6.4 130.75h1.6 M6.4 134.66h1.6 M6.4 138.58h1.6 M6.4 142.49h1.6 M6.4 146.4h1.6 M6.4 150.32h1.6 M6.4 154.23h1.6 M6.4 158.15h1.6 M6.4 162.06h1.6 M6.4 165.97h1.6 M6.4 169.89h1.6 M6.4 173.8h1.6 M6.4 177.72h1.6 M6.4 181.63h1.6 M6.4 185.54h1.6 M6.4 189.46h1.6 M6.4 193.37h1.6 M6.4 197.29h1.6 M12.42 5.5v1.5 M12.42 201.2v-1.5 M18.44 5.5v1.5 M18.44 201.2v-1.5 M24.46 5.5v1.5 M24.46 201.2v-1.5 M30.48 5.5v1.5 M30.48 201.2v-1.5 M36.5 5.5v1.5 M36.5 201.2v-1.5 M42.52 5.5v1.5 M42.52 201.2v-1.5 M48.54 5.5v1.5 M48.54 201.2v-1.5 M54.56 5.5v1.5 M54.56 201.2v-1.5 M60.58 5.5v1.5 M60.58 201.2v-1.5 M66.6 5.5v1.5 M66.6 201.2v-1.5 M72.62 5.5v1.5 M72.62 201.2v-1.5 M78.64 5.5v1.5 M78.64 201.2v-1.5 M84.66 5.5v1.5 M84.66 201.2v-1.5 M90.68 5.5v1.5 M90.68 201.2v-1.5 M96.7 5.5v1.5 M96.7 201.2v-1.5 M102.72 5.5v1.5 M102.72 201.2v-1.5 M108.74 5.5v1.5 M108.74 201.2v-1.5 M114.76 5.5v1.5 M114.76 201.2v-1.5 M120.78 5.5v1.5 M120.78 201.2v-1.5 M126.8 5.5v1.5 M126.8 201.2v-1.5 M132.82 5.5v1.5 M132.82 201.2v-1.5 M138.84 5.5v1.5 M138.84 201.2v-1.5 M144.86 5.5v1.5 M144.86 201.2v-1.5 M150.88 5.5v1.5 M150.88 201.2v-1.5 M156.9 5.5v1.5 M156.9 201.2v-1.5 M162.92 5.5v1.5 M162.92 201.2v-1.5 M168.94 5.5v1.5 M168.94 201.2v-1.5 M174.96 5.5v1.5 M174.96 201.2v-1.5 M180.98 5.5v1.5 M180.98 201.2v-1.5 M187 5.5v1.5 M187 201.2v-1.5 M193.02 5.5v1.5 M193.02 201.2v-1.5 M199.04 5.5v1.5 M199.04 201.2v-1.5 M205.06 5.5v1.5 M205.06 201.2v-1.5 M211.08 5.5v1.5 M211.08 201.2v-1.5 M217.1 5.5v1.5 M217.1 201.2v-1.5 M223.12 5.5v1.5 M223.12 201.2v-1.5 M229.14 5.5v1.5 M229.14 201.2v-1.5 M235.16 5.5v1.5 M235.16 201.2v-1.5 M241.18 5.5v1.5 M241.18 201.2v-1.5 M247.2 5.5v1.5 M247.2 201.2v-1.5 M253.22 5.5v1.5 M253.22 201.2v-1.5 M259.24 5.5v1.5 M259.24 201.2v-1.5 M265.26 5.5v1.5 M265.26 201.2v-1.5 M271.28 5.5v1.5 M271.28 201.2v-1.5 M277.3 5.5v1.5 M277.3 201.2v-1.5 M283.32 5.5v1.5 M283.32 201.2v-1.5 M289.34 5.5v1.5 M289.34 201.2v-1.5 M295.36 5.5v1.5 M295.36 201.2v-1.5 M301.38 5.5v1.5 M301.38 201.2v-1.5" stroke="#d8c0a8" stroke-width="0.7" fill="none"/>
<line x1="0" y1="0.3" x2="307" y2="0.3" stroke="#a8a8a8" stroke-width="0.7"/>
<text transform="translate(0 4.7) scale(0.25)" font-size="25.6" fill="#1a1a1a" font-weight="bold" letter-spacing="-2">Tek</text>
<text transform="translate(10.9 4.8) scale(0.25)" font-size="20.8" fill="#7a7a7a" font-weight="bold">Stop</text>
<rect x="36.3" y="0.5" width="240.4" height="4.8" fill="#fffcfa" stroke="#c8b0a0" stroke-width="0.7"/>
<line x1="84.8" y1="2.4" x2="229.2" y2="2.4" stroke="#4050f0" stroke-width="0.9"/>
<path d="M84.8 0.6v4.6 M229.2 0.6v4.6" stroke="#333" stroke-width="0.9"/>
<rect x="155.6" y="1.2" width="2.6" height="2.6" fill="#3a8cf0" rx="0.4"/>
<path d="M155.3 0.4 h3.2 l-1.6 1.6 z M155.3 5.6 h3.2 l-1.6 -1.6 z" fill="#2a6ae0"/>
<rect x="155.3" y="6.6" width="3.2" height="3.6" rx="0.9" fill="#3a8cf0"/><path d="M156 7.5 h1.8 M156.9 7.5 v2.2" stroke="#fff" stroke-width="0.5"/>
<path d="M6.4 22.18 L7.3 22.1 L8.2 21.95 L9.1 22.08 L10 22.38 L10.9 21.71 L11.8 22.38 L12.7 21.86 L13.6 22.28 L14.5 22.36 L15.4 21.68 L16.3 22.36 L17.2 22.49 L18.1 21.8 L19 21.52 L19.9 21.61 L20.8 22.47 L21.7 21.51 L22.6 22.41 L23.5 21.65 L24.4 22.24 L25.3 21.6 L26.2 21.67 L27.1 22.18 L28 21.59 L28.9 21.84 L29.8 22.42 L30.7 22.22 L31.6 22.38 L32.5 22.48 L33.4 21.53 L34.3 21.73 L35.2 22.29 L36.1 22.19 L37 21.54 L37.9 22 L38.8 21.73 L39.7 21.93 L40.6 21.6 L41.5 21.52 L42.4 22.49 L43.3 21.82 L44.2 22.38 L45.1 21.62 L46 21.99 L46.9 21.64 L47.8 21.93 L48.7 21.68 L49.6 22.19 L50.5 21.65 L51.4 22.24 L52.3 22 L53.2 21.61 L54.1 21.85 L55 22 L55.9 22.42 L56.8 21.85 L57.7 21.72 L58.6 22.47 L59.5 22.38 L60.4 22.23 L61.3 21.77 L62.2 21.68 L63.1 21.76 L64 21.57 L64.9 21.54 L65.8 22.01 L66.7 21.91 L67.6 22.06 L68.5 21.86 L69.4 21.51 L70.3 22.19 L71.2 22.15 L72.1 22.04 L73 22.05 L73.9 22.19 L74.8 22.48 L75.7 22.37 L76.6 22.22 L77.5 21.9 L78.4 21.82 L79.3 21.92 L80.2 22.47 L81.1 21.89 L82 21.89 L82.9 21.91 L83.8 21.64 L84.7 22.5 L85.6 21.51 L86.5 22.11 L87.4 22.43 L88.3 21.75 L89.2 22.11 L90.1 21.88 L91 21.74 L91.9 21.7 L92.8 21.62 L93.7 22.34 L94.6 22.28 L95.5 22.41 L96.4 21.55 L97.3 22.19 L98.2 21.82 L99.1 22.15 L100 22.05 L100.9 21.82 L101.8 22.47 L102.7 21.5 L103.6 22.25 L104.5 22.35 L105.4 22.01 L106.3 22.09 L107.2 22.49 L108.1 21.73 L109 22.13 L109.9 22.24 L110.8 21.88 L111.7 22.21 L112.6 21.89 L113.5 22.03 L114.4 22.11 L115.3 22.18 L116.2 21.82 L117.1 22.13 L118 22.04 L118.9 21.72 L119.8 22.11 L120.7 21.76 L121.6 22.41 L122.5 21.97 L123.4 22.22 L124.3 22.02 L125.2 21.98 L126.1 21.72 L127 21.64 L127.9 22.43 L128.8 22.03 L129.7 22.02 L130.6 22.03 L131.5 22.31 L132.4 21.74 L133.3 21.67 L134.2 22.32 L135.1 21.96 L136 22.14 L136.9 22.33 L137.8 22.39 L138.7 22.37 L139.6 21.54 L140.5 21.88 L141.4 22.33 L142.3 22.32 L143.2 21.62 L144.1 21.65 L145 21.75 L145.9 21.6 L146.8 21.86 L147.7 22.3 L148.6 22.02 L149.5 21.95 L150.4 21.59 L151.3 21.9 L152.2 22.5 L153.1 22.2 L154 21.95 L154.9 21.98 L155.8 22.3 L156.7 22.26 L157.6 21.65 L158.5 22.18 L159.4 21.87 L160.3 22.02 L161.2 21.74 L162.1 21.87 L163 21.84 L163.9 21.88 L164.8 21.52 L165.7 21.7 L166.6 22.07 L167.5 21.56 L168.4 21.68 L169.3 22.22 L170.2 21.77 L171.1 21.82 L172 21.74 L172.9 22.33 L173.8 21.59 L174.7 22.14 L175.6 22.36 L176.5 21.7 L177.4 21.92 L178.3 22.29 L179.2 22.12 L180.1 21.87 L181 21.54 L181.9 21.94 L182.8 21.87 L183.7 22.21 L184.6 21.8 L185.5 21.91 L186.4 22.15 L187.3 22.31 L188.2 21.85 L189.1 21.89 L190 22.08 L190.9 22.42 L191.8 21.69 L192.7 22.47 L193.6 22.21 L194.5 21.87 L195.4 22.17 L196.3 21.83 L197.2 21.57 L198.1 22.26 L199 21.88 L199.9 22.03 L200.8 22 L201.7 22.4 L202.6 22.26 L203.5 21.53 L204.4 22.09 L205.3 21.96 L206.2 21.96 L207.1 22.34 L208 21.91 L208.9 21.97 L209.8 22.39 L210.7 21.94 L211.6 21.99 L212.5 22.01 L213.4 22.32 L214.3 22.17 L215.2 22.24 L216.1 21.9 L217 21.54 L217.9 22.18 L218.8 22.05 L219.7 22.27 L220.6 22.27 L221.5 21.62 L222.4 21.72 L223.3 21.58 L224.2 22.32 L225.1 21.6 L226 21.59 L226.9 22.25 L227.8 22.06 L228.7 21.56 L229.6 22.18 L230.5 22.21 L231.4 21.98 L232.3 21.55 L233.2 22.19 L234.1 21.92 L235 22.08 L235.9 22.5 L236.8 22.32 L237.7 22.37 L238.6 21.65 L239.5 21.83 L240.4 22.02 L241.3 21.51 L242.2 22.49 L243.1 21.77 L244 21.76 L244.9 21.81 L245.8 21.76 L246.7 22.36 L247.6 22.06 L248.5 22.01 L249.4 21.92 L250.3 21.55 L251.2 21.8 L252.1 22.37 L253 22.3 L253.9 22.36 L254.8 21.76 L255.7 21.7 L256.6 21.55 L257.5 22.04 L258.4 21.87 L259.3 21.96 L260.2 21.99 L261.1 22.08 L262 21.87 L262.9 22.3 L263.8 21.7 L264.7 22.42 L265.6 22.06 L266.5 21.55 L267.4 21.81 L268.3 22.03 L269.2 21.91 L270.1 22.06 L271 21.82 L271.9 21.77 L272.8 22.3 L273.7 21.79 L274.6 22.21 L275.5 22.3 L276.4 22.09 L277.3 21.95 L278.2 22.43 L279.1 21.94 L280 22.38 L280.9 21.56 L281.8 21.93 L282.7 22.14 L283.6 21.55 L284.5 22.36 L285.4 21.57 L286.3 22.1 L287.2 21.68 L288.1 22.42 L289 22.06 L289.9 22.3 L290.8 22 L291.7 22.17 L292.6 22.17 L293.5 21.79 L294.4 21.71 L295.3 22.34 L296.2 21.65 L297.1 22.42 L298 21.71 L298.9 21.6 L299.8 21.6 L300.7 22.28 L301.6 22.45 L302.5 21.91 L303.4 22.16 L304.3 21.76 L305.2 22.41 L306.1 22.19 L307 22" fill="none" stroke="#10f010" stroke-width="3.3" stroke-linejoin="round"/>
<path d="M6.4 92.43 L7.31 91.58 L8.23 91.1 L9.14 89.98 L10.06 89.58 L10.97 88.51 L11.88 87.68 L12.8 87.06 L13.71 86.13 L14.63 85.45 L15.54 84.45 L16.45 84.03 L17.37 82.94 L18.28 82.4 L19.2 81.26 L20.11 80.78 L21.02 80.08 L21.94 78.99 L22.85 78.01 L23.77 77.38 L24.68 76.72 L25.59 75.71 L26.51 75.07 L27.42 74.05 L28.33 73.44 L29.25 72.77 L30.16 71.83 L31.08 71.15 L31.99 70.07 L32.9 69.63 L33.82 68.48 L34.73 68.08 L35.65 67.32 L36.56 66.5 L37.47 65.49 L38.39 64.58 L39.3 63.81 L40.22 63.21 L41.13 62.29 L42.04 61.71 L42.96 60.49 L43.87 59.89 L44.79 59.28 L45.7 58.35 L46.61 59.1 L47.51 59.66 L48.42 60.47 L49.33 61.32 L50.24 62.41 L51.14 63.17 L52.05 63.65 L52.96 64.78 L53.87 65.11 L54.77 66.18 L55.68 67.15 L56.59 67.62 L57.49 68.7 L58.4 69.34 L59.31 69.82 L60.22 70.75 L61.12 71.59 L62.03 72.27 L62.94 73.3 L63.84 73.8 L64.75 74.89 L65.66 75.43 L66.57 76.1 L67.47 77.12 L68.38 77.68 L69.29 78.69 L70.2 79.59 L71.1 80.28 L72.01 80.99 L72.92 81.56 L73.82 82.58 L74.73 83.16 L75.64 84.22 L76.55 84.74 L77.45 85.75 L78.36 86.42 L79.27 87.21 L80.17 88.14 L81.08 88.67 L81.99 89.46 L82.9 90.63 L83.8 91.11 L84.71 92.15 L85.62 92.94 L86.53 93.53 L87.43 94.15 L88.34 94.9 L89.25 96.08 L90.15 96.48 L91.06 97.45 L91.97 98.26 L92.88 98.83 L93.78 99.79 L94.69 100.42 L95.6 101.39 L96.5 102.16 L97.41 102.87 L98.32 103.57 L99.23 104.46 L100.13 105.14 L101.04 105.88 L101.95 106.72 L102.86 107.82 L103.76 108.42 L104.67 109.4 L105.58 109.74 L106.48 110.99 L107.39 111.55 L108.3 112.48 L109.21 113.15 L110.11 114 L111.02 114.55 L111.93 115.59 L112.83 116.08 L113.74 116.92 L114.65 117.58 L115.56 118.55 L116.46 119.39 L117.37 120.06 L118.28 121.15 L119.19 121.53 L120.09 122.56 L121 123.17 L121.91 122.56 L122.81 121.88 L123.72 121.06 L124.62 119.95 L125.53 119.26 L126.44 118.65 L127.34 118.06 L128.25 116.81 L129.15 116.31 L130.06 115.56 L130.97 114.84 L131.87 113.82 L132.78 113.27 L133.68 112.32 L134.59 111.76 L135.5 110.53 L136.4 110.21 L137.31 109.16 L138.21 108.37 L139.12 107.43 L140.03 106.73 L140.93 106.19 L141.84 105.38 L142.74 104.33 L143.65 103.64 L144.56 102.76 L145.46 102 L146.37 101.23 L147.27 100.5 L148.18 100.04 L149.09 99.27 L149.99 98.39 L150.9 97.45 L151.8 96.67 L152.71 96.03 L153.62 95.31 L154.52 94.45 L155.43 93.61 L156.33 92.61 L157.24 92.04 L158.15 91.36 L159.05 90.55 L159.96 89.42 L160.87 88.95 L161.77 87.98 L162.68 87.11 L163.58 86.73 L164.49 85.8 L165.4 85.05 L166.3 83.96 L167.21 83.52 L168.11 82.8 L169.02 82 L169.93 81.13 L170.83 80.39 L171.74 79.6 L172.64 78.71 L173.55 77.85 L174.46 77.26 L175.36 76.45 L176.27 75.71 L177.17 74.65 L178.08 74.19 L178.99 73.2 L179.89 72.62 L180.8 71.42 L181.7 71.06 L182.61 70.19 L183.52 69.14 L184.42 68.65 L185.33 67.56 L186.23 66.76 L187.14 66.11 L188.05 65.22 L188.95 64.56 L189.86 63.99 L190.76 63.09 L191.67 62.32 L192.58 61.38 L193.48 60.79 L194.39 60.01 L195.29 59.17 L196.2 58.52 L197.11 59.25 L198.01 59.82 L198.92 60.44 L199.82 61.51 L200.73 62.38 L201.64 62.92 L202.54 63.83 L203.45 64.73 L204.35 65.49 L205.26 65.88 L206.17 66.91 L207.07 67.46 L207.98 68.29 L208.88 69.42 L209.79 70.01 L210.7 70.88 L211.6 71.59 L212.51 72.31 L213.41 73.04 L214.32 73.89 L215.23 74.92 L216.13 75.59 L217.04 76.21 L217.94 76.89 L218.85 77.76 L219.76 78.76 L220.66 79.42 L221.57 80.31 L222.47 81.16 L223.38 81.6 L224.29 82.67 L225.19 83.13 L226.1 84.3 L227 84.77 L227.91 85.6 L228.82 86.72 L229.72 87.21 L230.63 87.92 L231.53 89.04 L232.44 89.68 L233.35 90.61 L234.25 91.14 L235.16 91.97 L236.07 92.99 L236.97 93.54 L237.88 94.57 L238.78 94.95 L239.69 96.06 L240.6 96.5 L241.5 97.47 L242.41 97.99 L243.31 98.86 L244.22 100.03 L245.13 100.57 L246.03 101.53 L246.94 102.03 L247.84 102.86 L248.75 103.52 L249.66 104.53 L250.56 105.47 L251.47 106.08 L252.37 106.79 L253.28 107.85 L254.19 108.62 L255.09 109.29 L256 109.77 L256.9 110.83 L257.81 111.53 L258.72 112.57 L259.62 113.05 L260.53 113.98 L261.43 114.75 L262.34 115.41 L263.25 116.26 L264.15 117.12 L265.06 118.02 L265.96 118.6 L266.87 119.32 L267.78 120.41 L268.68 120.73 L269.59 121.9 L270.49 122.61 L271.4 123.33 L272.31 122.49 L273.23 121.85 L274.14 121.13 L275.05 120.27 L275.96 119.49 L276.88 118.34 L277.79 117.7 L278.7 116.82 L279.62 116.44 L280.53 115.62 L281.44 114.46 L282.35 113.9 L283.27 113.11 L284.18 112.05 L285.09 111.44 L286.01 110.83 L286.92 109.99 L287.83 109.02 L288.74 108.47 L289.66 107.45 L290.57 106.79 L291.48 105.94 L292.39 105.43 L293.31 104.48 L294.22 103.77 L295.13 102.92 L296.05 101.99 L296.96 101.49 L297.87 100.58 L298.78 99.78 L299.7 98.79 L300.61 97.94 L301.52 97.36 L302.44 96.7 L303.35 95.9 L304.26 94.89 L305.17 93.99 L306.09 93.4 L307 92.6" fill="none" stroke="#0000f8" stroke-width="3.4" stroke-linejoin="round"/>
<path d="M6.4 149.99 L7.31 148.84 L8.23 148.33 L9.14 147.26 L10.06 146.53 L10.97 145.61 L11.88 144.94 L12.8 144.19 L13.71 143.69 L14.63 142.89 L15.54 141.71 L16.45 140.98 L17.37 140.51 L18.28 139.34 L19.2 138.61 L20.11 137.87 L21.02 136.92 L21.94 136.2 L22.85 135.47 L23.77 134.68 L24.68 134.17 L25.59 133.03 L26.51 132.21 L27.42 131.76 L28.33 130.74 L29.25 130.14 L30.16 129.25 L31.08 128.53 L31.99 127.5 L32.9 126.63 L33.82 126.14 L34.73 125.2 L35.65 124.45 L36.56 123.72 L37.47 122.96 L38.39 121.93 L39.3 121.18 L40.22 120.67 L41.13 119.68 L42.04 118.77 L42.96 118.14 L43.87 117.17 L44.79 116.63 L45.7 115.47 L46.6 116.64 L47.51 117.29 L48.41 117.96 L49.32 119.03 L50.22 119.47 L51.12 120.24 L52.03 120.93 L52.93 121.94 L53.84 122.82 L54.74 123.56 L55.64 124.21 L56.55 125.18 L57.45 125.61 L58.36 126.49 L59.26 127.44 L60.17 128.37 L61.07 128.99 L61.97 129.79 L62.88 130.61 L63.78 131.2 L64.69 132.25 L65.59 132.93 L66.49 133.5 L67.4 134.31 L68.3 135.29 L69.21 135.84 L70.11 136.54 L71.01 137.66 L71.92 138.26 L72.82 139.04 L73.73 139.89 L74.63 140.78 L75.53 141.18 L76.44 142.06 L77.34 142.7 L78.25 143.65 L79.15 144.47 L80.06 145.42 L80.96 146.11 L81.86 146.84 L82.77 147.53 L83.67 148.39 L84.58 149.02 L85.48 150.08 L86.38 150.83 L87.29 151.64 L88.19 152.07 L89.1 153.11 L90 153.8" fill="none" stroke="#f81010" stroke-width="3.2" stroke-linejoin="round"/>
<line x1="90.3" y1="153.8" x2="90.3" y2="181.2" stroke="#ffb0b0" stroke-width="1"/>
<path d="M90.3 181.45 L91.23 181.2 L92.15 181.6 L93.08 181.6 L94.01 181.44 L94.93 181.52 L95.86 181.35 L96.79 181.58 L97.71 180.83 L98.64 181.4 L99.57 181.4 L100.49 181.31 L101.42 180.98 L102.35 180.77 L103.27 181.3 L104.2 181.52 L105.6 173.27 L106.8 169.91 L108.2 169.12 L109.13 169.84 L110.06 171.26 L110.99 172.4 L111.91 173.07 L112.84 173.47 L113.77 174.66 L114.7 174.87 L115.63 176.48 L116.56 176.81 L117.49 177.33 L118.41 178.8 L119.34 179.15 L120.27 180.13 L121.2 180.76 L122.15 180.18 L123.1 179.32 L124.05 178.61 L125 176.87 L125.95 176.69 L126.9 175.01 L127.85 174.16 L128.8 173.6 L129.75 172.34 L130.7 171.36 L131.65 170.64 L132.6 169.32 L134 170.29 L135.4 172.51 L136.8 180.84 L138.1 181.51 L139.03 181.24 L139.96 180.73 L140.89 181.48 L141.83 180.73 L142.76 181.2 L143.69 181.12 L144.62 180.76 L145.55 181.33 L146.48 181.42 L147.42 181.28 L148.35 181.1 L149.28 181.21 L150.21 181.29 L151.14 180.93 L152.07 181.57 L153.01 181.7 L153.94 181.5 L154.87 181.66 L155.8 181.2" fill="none" stroke="#f81010" stroke-width="2.6" stroke-linejoin="round"/>
<line x1="155.8" y1="150" x2="155.8" y2="181.2" stroke="#ffb0b0" stroke-width="1"/>
<path d="M155.8 149.91 L156.72 149.46 L157.64 148.23 L158.55 147.65 L159.47 146.7 L160.39 146.08 L161.31 145.41 L162.23 144.65 L163.15 143.74 L164.06 142.9 L164.98 142.05 L165.9 141.38 L166.82 140.54 L167.74 139.71 L168.65 139.2 L169.57 138.31 L170.49 137.5 L171.41 136.6 L172.33 136.07 L173.25 135.04 L174.16 134.29 L175.08 133.66 L176 132.95 L176.92 132.31 L177.84 131.41 L178.75 130.74 L179.67 129.94 L180.59 129.06 L181.51 128.28 L182.43 127.17 L183.35 126.47 L184.26 125.59 L185.18 125.24 L186.1 124.39 L187.02 123.56 L187.94 122.6 L188.85 121.86 L189.77 120.99 L190.69 120.44 L191.61 119.84 L192.53 118.72 L193.45 117.81 L194.36 117.1 L195.28 116.41 L196.2 115.9 L197.11 116.63 L198.02 117.23 L198.93 117.83 L199.84 118.61 L200.75 119.41 L201.66 120.5 L202.57 121.13 L203.48 122.17 L204.39 122.9 L205.3 123.62 L206.21 124.24 L207.12 125.19 L208.03 125.62 L208.94 126.39 L209.85 127.39 L210.76 128.14 L211.67 128.77 L212.58 129.57 L213.49 130.23 L214.4 131.46 L215.31 132.13 L216.22 133.03 L217.13 133.82 L218.04 134.33 L218.96 135.25 L219.87 135.86 L220.78 136.85 L221.69 137.64 L222.6 138.07 L223.51 138.78 L224.42 139.66 L225.33 140.62 L226.24 141.3 L227.15 141.89 L228.06 143.08 L228.97 143.83 L229.88 144.45 L230.79 145.02 L231.7 146.22 L232.61 146.82 L233.52 147.37 L234.43 148.27 L235.34 149.2 L236.25 150.1 L237.16 150.68 L238.07 151.54 L238.98 152.1 L239.89 152.89 L240.8 153.8" fill="none" stroke="#f81010" stroke-width="3.2" stroke-linejoin="round"/>
<line x1="241" y1="153.8" x2="241" y2="181.2" stroke="#ffb0b0" stroke-width="1"/>
<path d="M240.8 181.61 L241.73 181.08 L242.65 180.8 L243.58 181.29 L244.51 180.83 L245.43 180.9 L246.36 181.16 L247.29 181.29 L248.21 181.34 L249.14 181.41 L250.07 181.14 L250.99 180.77 L251.92 181.42 L252.85 180.75 L253.77 181.17 L254.7 181.1 L256.1 173.67 L257.3 170.41 L258.7 169.14 L259.63 170.39 L260.56 171.28 L261.49 171.9 L262.41 172.41 L263.34 174.02 L264.27 174.56 L265.2 174.86 L266.13 175.88 L267.06 177.47 L267.99 177.56 L268.91 178.56 L269.84 179.8 L270.77 180.68 L271.7 181.33 L272.65 180.47 L273.6 178.8 L274.55 177.89 L275.5 177.81 L276.45 176.67 L277.4 174.94 L278.35 173.98 L279.3 173.21 L280.25 172.93 L281.2 171.25 L282.15 170.74 L283.1 170.03 L284.5 170.14 L285.9 173.22 L287.3 180.26 L288.6 180.85 L289.53 180.72 L290.46 181.46 L291.39 180.8 L292.33 181.67 L293.26 181.41 L294.19 180.89 L295.12 181.51 L296.05 180.86 L296.98 181.21 L297.92 180.81 L298.85 181.49 L299.78 181.59 L300.71 181.62 L301.64 180.7 L302.57 181.55 L303.51 181.26 L304.44 181.52 L305.37 181.2 L306.3 181.2" fill="none" stroke="#f81010" stroke-width="2.6" stroke-linejoin="round"/>
<line x1="306.6" y1="149.4" x2="306.6" y2="181.2" stroke="#ffb0b0" stroke-width="1"/>
<path d="M0.6 41.9 h3.5 l1.8 2.6 l-1.8 2.6 h-3.5 z" fill="#ffffff" stroke="#30c030" stroke-width="0.9"/>
<text transform="translate(2.5 46.2) scale(0.25)" font-size="18.4" fill="#30c030" font-weight="bold" text-anchor="middle">3</text>
<text transform="translate(7.2 46.3) scale(0.25)" font-size="18" fill="#1a1a1a" font-weight="bold">SENSE</text>
<path d="M0.6 120.8 h3.5 l1.8 2.6 l-1.8 2.6 h-3.5 z" fill="#2020f0" stroke="#2020f0" stroke-width="0.9"/>
<text transform="translate(2.5 125.1) scale(0.25)" font-size="18.4" fill="#ffffff" font-weight="bold" text-anchor="middle">1</text>
<text transform="translate(7.2 125.2) scale(0.25)" font-size="18" fill="#1a1a1a" font-weight="bold">VDD</text>
<path d="M0.6 178.5 h3.5 l1.8 2.6 l-1.8 2.6 h-3.5 z" fill="#ffffff" stroke="#f02020" stroke-width="0.9"/>
<text transform="translate(2.5 182.8) scale(0.25)" font-size="18.4" fill="#f02020" font-weight="bold" text-anchor="middle">2</text>
<text transform="translate(7.2 182.9) scale(0.25)" font-size="18" fill="#1a1a1a" font-weight="bold">RESET</text>
<rect x="6.5" y="202.6" width="166" height="5.6" rx="1" fill="#ffffff" stroke="#9a9aaa" stroke-width="0.8"/>
<ellipse cx="11.8" cy="205.4" rx="3.7" ry="2.2" fill="#0020f0"/>
<text transform="translate(11.8 207) scale(0.25)" font-size="16" fill="#fff" font-weight="bold" text-anchor="middle">1</text>
<text transform="translate(20.6 207.3) scale(0.25)" font-size="20" fill="#0020f0" font-weight="bold">1.00 V</text>
<ellipse cx="53.3" cy="205.4" rx="3.7" ry="2.2" fill="#f01010"/>
<text transform="translate(53.3 207) scale(0.25)" font-size="16" fill="#fff" font-weight="bold" text-anchor="middle">2</text>
<text transform="translate(62.1 207.3) scale(0.25)" font-size="20" fill="#f01010" font-weight="bold">1.00 V</text>
<ellipse cx="95.3" cy="205.4" rx="3.7" ry="2.2" fill="#50e850"/>
<text transform="translate(95.3 207) scale(0.25)" font-size="16" fill="#fff" font-weight="bold" text-anchor="middle">3</text>
<text transform="translate(104.1 207.3) scale(0.25)" font-size="20" fill="#60e860" font-weight="bold">1.00 V</text>
<rect x="175.6" y="202.6" width="44" height="10.6" rx="1.2" fill="#ffffff" stroke="#9a9a9a" stroke-width="0.8"/>
<text transform="translate(177 207) scale(0.25)" font-size="20" fill="#222" font-weight="bold">200ms</text>
<rect x="177" y="208.3" width="2.2" height="3.1" fill="#3a8cf0"/>
<text transform="translate(179.6 211.6) scale(0.25)" font-size="18.4" fill="#3a70f0">+&#9660;0.000000 s</text>
<rect x="222" y="202.6" width="32" height="10.6" rx="1.2" fill="#ffffff" stroke="#9a9a9a" stroke-width="0.8"/>
<text transform="translate(223.7 207) scale(0.25)" font-size="20.4" fill="#222" font-weight="bold">50.0kS/s</text>
<text transform="translate(223.7 211.6) scale(0.25)" font-size="20.4" fill="#222" font-weight="bold">100k points</text>
<rect x="256.8" y="202.6" width="52" height="11.2" rx="1.2" fill="#ffffff" stroke="#9a9a9a" stroke-width="0.8"/>
<ellipse cx="269.3" cy="205.4" rx="3.6" ry="2.2" fill="#2030f0"/>
<text transform="translate(269.3 207) scale(0.25)" font-size="16" fill="#fff" font-weight="bold" text-anchor="middle">1</text>
<path d="M276.6 207.3 l1.2 0 l1.5 -3.2" stroke="#222" stroke-width="0.8" fill="none"/>
<text transform="translate(305.8 207.4) scale(0.25)" font-size="20" fill="#555" font-weight="bold" text-anchor="end">1.64 V</text>
<rect x="274" y="220.2" width="35" height="10.4" rx="1.2" fill="#ffffff" stroke="#9a9a9a" stroke-width="0.8"/>
<text transform="translate(278.6 224.9) scale(0.25)" font-size="18" fill="#2a2a2a" font-weight="bold" letter-spacing="0.8">6 Sep&#160;&#160;2018</text>
<text transform="translate(275.3 229.9) scale(0.25)" font-size="18" fill="#2a2a2a" font-weight="bold" letter-spacing="1">00:50:21</text>
</svg><div class="cap" style="left:97.52px;top:414.54px;font-size:15.8px">V</div><div class="cap" style="left:108.08px;top:422px;font-size:11.7px">RESET</div><div class="hl" style="left:108.1px;top:421.8px;width:39.9px;height:1px"></div><div class="cap" style="left:596.32px;top:415.24px;font-size:15.8px">V</div><div class="cap" style="left:606.48px;top:421.8px;font-size:11.7px">RESET</div><div class="hl" style="left:607px;top:422.4px;width:39.9px;height:1px"></div><div class="cap" style="left:97.82px;top:771.44px;font-size:15.8px">V</div><div class="cap" style="left:108.08px;top:777.8px;font-size:11.7px">RESET</div><div class="hl" style="left:108.2px;top:777.8px;width:39.6px;height:1px"></div><div class="cap" style="left:598.72px;top:771.44px;font-size:15.8px">V</div><div class="cap" style="left:608.68px;top:777.8px;font-size:11.7px">RESET</div><div class="hl" style="left:609px;top:778.4px;width:39.9px;height:1px"></div>
</body></html>
